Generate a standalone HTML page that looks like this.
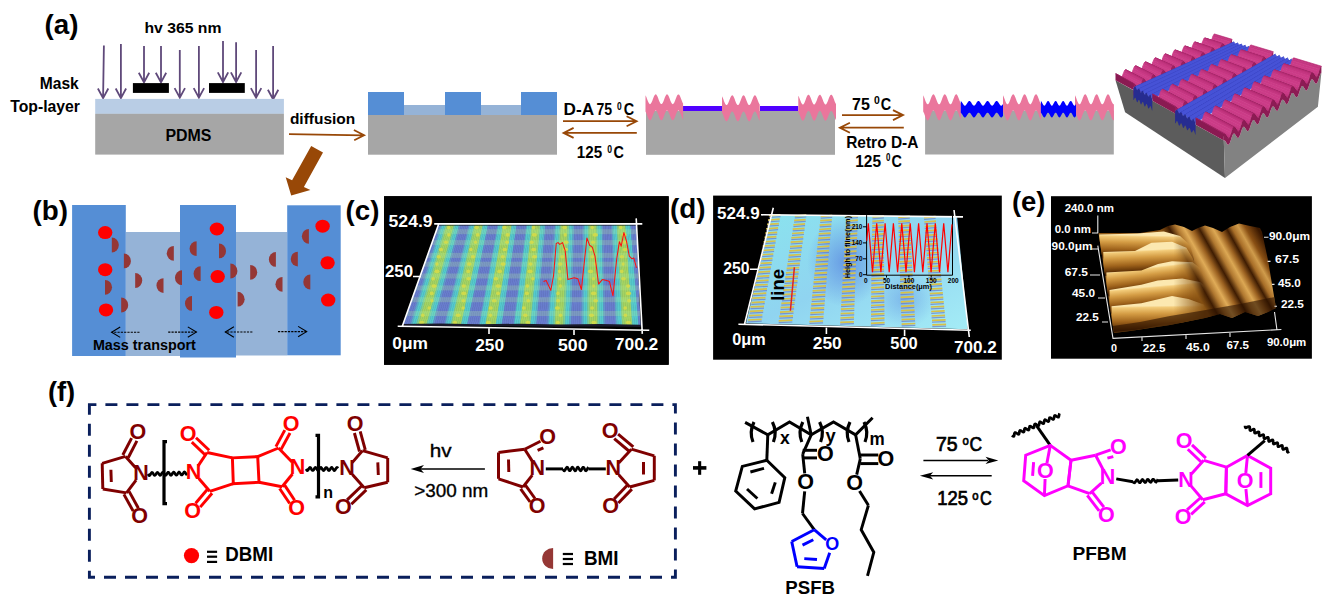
<!DOCTYPE html>
<html><head><meta charset="utf-8"><style>
html,body{margin:0;padding:0;background:#fff;}
svg{display:block;}
</style></head><body>
<svg width="1324" height="609" viewBox="0 0 1324 609" font-family="Liberation Sans, sans-serif">
<rect width="1324" height="609" fill="#fff"/>
<text x="44.6" y="33.6" font-size="27.6" font-weight="bold" fill="#000" text-anchor="start" textLength="34" lengthAdjust="spacingAndGlyphs" >(a)</text>
<text x="144.4" y="32.6" font-size="15.5" font-weight="bold" fill="#000" text-anchor="start" textLength="77" lengthAdjust="spacingAndGlyphs" >hv 365 nm</text>
<text x="39.8" y="88.9" font-size="16" font-weight="bold" fill="#000" text-anchor="start" textLength="39" lengthAdjust="spacingAndGlyphs" >Mask</text>
<text x="10.3" y="111.9" font-size="16" font-weight="bold" fill="#000" text-anchor="start" textLength="69.7" lengthAdjust="spacingAndGlyphs" >Top-layer</text>
<path d="M103.9 45.4 L103.1 97.3 M97.89999999999999 88.5 L103.1 98.1 L108.3 88.5" stroke="#5f497a" stroke-width="1.8" fill="none" stroke-linejoin="miter"/>
<path d="M120.9 44.1 L120.9 97.3 M115.7 88.5 L120.9 98.1 L126.10000000000001 88.5" stroke="#5f497a" stroke-width="1.8" fill="none" stroke-linejoin="miter"/>
<path d="M144 46.1 L144 81.60000000000001 M138.8 72.80000000000001 L144 82.4 L149.2 72.80000000000001" stroke="#5f497a" stroke-width="1.8" fill="none" stroke-linejoin="miter"/>
<path d="M161 46.1 L161 81.60000000000001 M155.8 72.80000000000001 L161 82.4 L166.2 72.80000000000001" stroke="#5f497a" stroke-width="1.8" fill="none" stroke-linejoin="miter"/>
<path d="M179.8 49.9 L179.8 96.9 M174.60000000000002 88.10000000000001 L179.8 97.7 L185.0 88.10000000000001" stroke="#5f497a" stroke-width="1.8" fill="none" stroke-linejoin="miter"/>
<path d="M198.9 46 L198.9 96.9 M193.70000000000002 88.10000000000001 L198.9 97.7 L204.1 88.10000000000001" stroke="#5f497a" stroke-width="1.8" fill="none" stroke-linejoin="miter"/>
<path d="M223 41.1 L223 81.2 M217.8 72.4 L223 82 L228.2 72.4" stroke="#5f497a" stroke-width="1.8" fill="none" stroke-linejoin="miter"/>
<path d="M236.1 42.3 L236.1 81.2 M230.9 72.4 L236.1 82 L241.29999999999998 72.4" stroke="#5f497a" stroke-width="1.8" fill="none" stroke-linejoin="miter"/>
<path d="M256.1 49.9 L256.1 96.9 M250.90000000000003 88.10000000000001 L256.1 97.7 L261.3 88.10000000000001" stroke="#5f497a" stroke-width="1.8" fill="none" stroke-linejoin="miter"/>
<path d="M273.1 46 L273.1 98.5 M267.90000000000003 89.7 L273.1 99.3 L278.3 89.7" stroke="#5f497a" stroke-width="1.8" fill="none" stroke-linejoin="miter"/>
<rect x="132.9" y="83.1" width="36" height="9.8" fill="#000"/>
<rect x="209" y="83.1" width="35.8" height="9.8" fill="#000"/>
<rect x="95.2" y="98.9" width="188.7" height="15" fill="#b9cde5"/>
<rect x="95.2" y="113.8" width="188.7" height="40.8" fill="#a6a6a6"/>
<text x="165.5" y="140.7" font-size="16" font-weight="bold" fill="#000" text-anchor="start" textLength="46" lengthAdjust="spacingAndGlyphs" >PDMS</text>
<text x="289.9" y="123.8" font-size="15.5" font-weight="bold" fill="#000" text-anchor="start" textLength="65.3" lengthAdjust="spacingAndGlyphs" >diffusion</text>
<path d="M289 134.2 L363.5 135.3 M353.9 130 L364.1 135.3 L354.2 140.2" stroke="#984807" stroke-width="1.8" fill="none"/>
<rect x="368" y="114.9" width="189" height="39.8" fill="#a6a6a6"/>
<rect x="368" y="105" width="189" height="10" fill="#95b3d7"/>
<rect x="368" y="92" width="36" height="23" fill="#558ed5"/>
<rect x="445" y="92" width="36" height="23" fill="#558ed5"/>
<rect x="521" y="92" width="36" height="23" fill="#558ed5"/>
<text x="563.6" y="114.9" font-size="16.5" font-weight="bold" fill="#000" text-anchor="start" textLength="30.5" lengthAdjust="spacingAndGlyphs" >D-A</text>
<text x="596.4" y="114.9" font-size="16.5" font-weight="bold" fill="#000" text-anchor="start" textLength="15.7" lengthAdjust="spacingAndGlyphs" >75</text>
<text x="617" y="109.96" font-size="10" font-weight="bold" fill="#000" textLength="4.7" lengthAdjust="spacingAndGlyphs">0</text>
<text x="623.7" y="114.9" font-size="16.5" font-weight="bold" fill="#000" text-anchor="start" textLength="10.4" lengthAdjust="spacingAndGlyphs" >C</text>
<path d="M563 121.2 L635.8000000000001 121.2 M626.6 116.2 L636.6 121.2 L626.6 126.2" stroke="#984807" stroke-width="1.8" fill="none"/>
<path d="M636.8 132.9 L564.4 132.9 M573.6 127.9 L563.6 132.9 L573.6 137.9" stroke="#984807" stroke-width="1.8" fill="none"/>
<text x="576.8" y="157.6" font-size="16.5" font-weight="bold" fill="#000" text-anchor="start" textLength="25.3" lengthAdjust="spacingAndGlyphs" >125</text>
<text x="607.3" y="152.76" font-size="10" font-weight="bold" fill="#000" textLength="4.8" lengthAdjust="spacingAndGlyphs">0</text>
<text x="613.6" y="157.6" font-size="16.5" font-weight="bold" fill="#000" text-anchor="start" textLength="10.4" lengthAdjust="spacingAndGlyphs" >C</text>
<rect x="646" y="111" width="189" height="43.8" fill="#a6a6a6"/>
<rect x="683" y="106" width="39" height="5" fill="#5000ff"/>
<rect x="760" y="106" width="38.3" height="5" fill="#5000ff"/>
<polygon points="645.50,95.31 645.99,96.23 646.48,97.37 646.96,98.65 647.45,99.97 647.94,101.24 648.43,102.36 648.92,103.26 649.41,103.87 649.89,104.14 650.38,104.05 650.87,103.62 651.36,102.87 651.85,101.86 652.34,100.66 652.82,99.35 653.31,98.04 653.80,96.82 654.29,95.77 654.78,94.97 655.27,94.49 655.75,94.35 656.24,94.57 656.73,95.13 657.22,95.98 657.71,97.08 658.20,98.33 658.68,99.65 659.17,100.94 659.66,102.10 660.15,103.06 660.64,103.75 661.13,104.10 661.61,104.11 662.10,103.76 662.59,103.08 663.08,102.13 663.57,100.96 664.06,99.67 664.54,98.36 665.03,97.10 665.52,96.00 666.01,95.14 666.50,94.58 666.99,94.35 667.47,94.48 667.96,94.96 668.45,95.75 668.94,96.79 669.43,98.02 669.92,99.33 670.40,100.63 670.89,101.84 671.38,102.85 671.87,103.61 672.36,104.05 672.85,104.14 673.33,103.87 673.82,103.27 674.31,102.38 674.80,101.26 675.29,99.99 675.78,98.67 676.26,97.40 676.75,96.25 677.24,95.33 677.73,94.68 678.22,94.38 678.71,94.42 679.19,94.82 679.68,95.53 680.17,96.52 680.66,97.71 681.15,99.00 681.64,100.32 682.12,101.56 682.61,102.63 683.10,103.45 683.10,119.65 682.61,118.83 682.12,117.76 681.64,116.52 681.15,115.20 680.66,113.91 680.17,112.72 679.68,111.73 679.19,111.02 678.71,110.62 678.22,110.58 677.73,110.88 677.24,111.53 676.75,112.45 676.26,113.60 675.78,114.87 675.29,116.19 674.80,117.46 674.31,118.58 673.82,119.47 673.33,120.07 672.85,120.34 672.36,120.25 671.87,119.81 671.38,119.05 670.89,118.04 670.40,116.83 669.92,115.53 669.43,114.22 668.94,112.99 668.45,111.95 667.96,111.16 667.47,110.68 666.99,110.55 666.50,110.78 666.01,111.34 665.52,112.20 665.03,113.30 664.54,114.56 664.06,115.87 663.57,117.16 663.08,118.33 662.59,119.28 662.10,119.96 661.61,120.31 661.13,120.30 660.64,119.95 660.15,119.26 659.66,118.30 659.17,117.14 658.68,115.85 658.20,114.53 657.71,113.28 657.22,112.18 656.73,111.33 656.24,110.77 655.75,110.55 655.27,110.69 654.78,111.17 654.29,111.97 653.80,113.02 653.31,114.24 652.82,115.55 652.34,116.86 651.85,118.06 651.36,119.07 650.87,119.82 650.38,120.25 649.89,120.34 649.41,120.07 648.92,119.46 648.43,118.56 647.94,117.44 647.45,116.17 646.96,114.85 646.48,113.57 645.99,112.43 645.50,111.51" fill="#ea769c"/>
<polygon points="722.00,96.26 722.49,97.18 722.98,98.33 723.47,99.61 723.96,100.93 724.45,102.20 724.94,103.33 725.43,104.22 725.92,104.82 726.41,105.09 726.90,105.00 727.39,104.55 727.88,103.79 728.36,102.77 728.85,101.56 729.34,100.25 729.83,98.94 730.32,97.71 730.81,96.67 731.30,95.89 731.79,95.42 732.28,95.31 732.77,95.54 733.26,96.12 733.75,97.00 734.24,98.11 734.73,99.37 735.22,100.69 735.71,101.98 736.20,103.14 736.69,104.08 737.18,104.74 737.67,105.07 738.16,105.04 738.65,104.66 739.14,103.95 739.63,102.97 740.12,101.79 740.61,100.49 741.09,99.17 741.58,97.93 742.07,96.85 742.56,96.01 743.05,95.48 743.54,95.30 744.03,95.47 744.52,95.99 745.01,96.82 745.50,97.89 745.99,99.13 746.48,100.45 746.97,101.75 747.46,102.94 747.95,103.93 748.44,104.64 748.93,105.03 749.42,105.07 749.91,104.75 750.40,104.10 750.89,103.17 751.38,102.02 751.87,100.73 752.36,99.41 752.85,98.14 753.34,97.03 753.82,96.14 754.31,95.56 754.80,95.31 755.29,95.42 755.78,95.87 756.27,96.65 756.76,97.68 757.25,98.90 757.74,100.21 758.23,101.52 758.72,102.74 759.21,103.77 759.70,104.54 759.70,120.74 759.21,119.97 758.72,118.94 758.23,117.72 757.74,116.41 757.25,115.10 756.76,113.88 756.27,112.85 755.78,112.07 755.29,111.62 754.80,111.51 754.31,111.76 753.82,112.34 753.34,113.23 752.85,114.34 752.36,115.61 751.87,116.93 751.38,118.22 750.89,119.37 750.40,120.30 749.91,120.95 749.42,121.27 748.93,121.23 748.44,120.84 747.95,120.13 747.46,119.14 746.97,117.95 746.48,116.65 745.99,115.33 745.50,114.09 745.01,113.02 744.52,112.19 744.03,111.67 743.54,111.50 743.05,111.68 742.56,112.21 742.07,113.05 741.58,114.13 741.09,115.37 740.61,116.69 740.12,117.99 739.63,119.17 739.14,120.15 738.65,120.86 738.16,121.24 737.67,121.27 737.18,120.94 736.69,120.28 736.20,119.34 735.71,118.18 735.22,116.89 734.73,115.57 734.24,114.31 733.75,113.20 733.26,112.32 732.77,111.74 732.28,111.51 731.79,111.62 731.30,112.09 730.81,112.87 730.32,113.91 729.83,115.14 729.34,116.45 728.85,117.76 728.36,118.97 727.88,119.99 727.39,120.75 726.90,121.20 726.41,121.29 725.92,121.02 725.43,120.42 724.94,119.53 724.45,118.40 723.96,117.13 723.47,115.81 722.98,114.53 722.49,113.38 722.00,112.46" fill="#ea769c"/>
<polygon points="798.30,95.66 798.79,96.58 799.28,97.73 799.77,99.01 800.26,100.33 800.75,101.60 801.24,102.73 801.73,103.62 802.22,104.22 802.71,104.49 803.20,104.40 803.69,103.95 804.18,103.19 804.66,102.17 805.15,100.96 805.64,99.65 806.13,98.34 806.62,97.11 807.11,96.07 807.60,95.29 808.09,94.82 808.58,94.71 809.07,94.94 809.56,95.52 810.05,96.40 810.54,97.51 811.03,98.77 811.52,100.09 812.01,101.38 812.50,102.54 812.99,103.48 813.48,104.14 813.97,104.47 814.46,104.44 814.95,104.06 815.44,103.35 815.93,102.37 816.42,101.19 816.91,99.89 817.39,98.57 817.88,97.33 818.37,96.25 818.86,95.41 819.35,94.88 819.84,94.70 820.33,94.87 820.82,95.39 821.31,96.22 821.80,97.29 822.29,98.53 822.78,99.85 823.27,101.15 823.76,102.34 824.25,103.33 824.74,104.04 825.23,104.43 825.72,104.47 826.21,104.15 826.70,103.50 827.19,102.57 827.68,101.42 828.17,100.13 828.66,98.81 829.15,97.54 829.64,96.43 830.12,95.54 830.61,94.96 831.10,94.71 831.59,94.82 832.08,95.27 832.57,96.05 833.06,97.08 833.55,98.30 834.04,99.61 834.53,100.92 835.02,102.14 835.51,103.17 836.00,103.94 836.00,120.14 835.51,119.37 835.02,118.34 834.53,117.12 834.04,115.81 833.55,114.50 833.06,113.28 832.57,112.25 832.08,111.47 831.59,111.02 831.10,110.91 830.61,111.16 830.12,111.74 829.64,112.63 829.15,113.74 828.66,115.01 828.17,116.33 827.68,117.62 827.19,118.77 826.70,119.70 826.21,120.35 825.72,120.67 825.23,120.63 824.74,120.24 824.25,119.53 823.76,118.54 823.27,117.35 822.78,116.05 822.29,114.73 821.80,113.49 821.31,112.42 820.82,111.59 820.33,111.07 819.84,110.90 819.35,111.08 818.86,111.61 818.37,112.45 817.88,113.53 817.39,114.77 816.91,116.09 816.42,117.39 815.93,118.57 815.44,119.55 814.95,120.26 814.46,120.64 813.97,120.67 813.48,120.34 812.99,119.68 812.50,118.74 812.01,117.58 811.52,116.29 811.03,114.97 810.54,113.71 810.05,112.60 809.56,111.72 809.07,111.14 808.58,110.91 808.09,111.02 807.60,111.49 807.11,112.27 806.62,113.31 806.13,114.54 805.64,115.85 805.15,117.16 804.66,118.37 804.18,119.39 803.69,120.15 803.20,120.60 802.71,120.69 802.22,120.42 801.73,119.82 801.24,118.93 800.75,117.80 800.26,116.53 799.77,115.21 799.28,113.93 798.79,112.78 798.30,111.86" fill="#ea769c"/>
<text x="852.1" y="109.9" font-size="16.5" font-weight="bold" fill="#000" text-anchor="start" textLength="17.8" lengthAdjust="spacingAndGlyphs" >75</text>
<text x="874.1" y="104.16" font-size="10" font-weight="bold" fill="#000" textLength="5.8" lengthAdjust="spacingAndGlyphs">0</text>
<text x="880.7" y="109.9" font-size="16.5" font-weight="bold" fill="#000" text-anchor="start" textLength="10.4" lengthAdjust="spacingAndGlyphs" >C</text>
<path d="M842 115.1 L902.2 115.1 M893 110.1 L903 115.1 L893 120.1" stroke="#984807" stroke-width="1.8" fill="none"/>
<path d="M903.8 127.7 L840.6999999999999 127.7 M849.9 122.7 L839.9 127.7 L849.9 132.7" stroke="#984807" stroke-width="1.8" fill="none"/>
<text x="846.2" y="147.9" font-size="16.5" font-weight="bold" fill="#000" text-anchor="start" textLength="72.2" lengthAdjust="spacingAndGlyphs" >Retro D-A</text>
<text x="855.2" y="166.6" font-size="16.5" font-weight="bold" fill="#000" text-anchor="start" textLength="25.8" lengthAdjust="spacingAndGlyphs" >125</text>
<text x="886" y="161.26" font-size="10" font-weight="bold" fill="#000" textLength="4.4" lengthAdjust="spacingAndGlyphs">0</text>
<text x="891.6" y="166.6" font-size="16.5" font-weight="bold" fill="#000" text-anchor="start" textLength="10.4" lengthAdjust="spacingAndGlyphs" >C</text>
<rect x="925.1" y="110.5" width="188.7" height="44" fill="#a6a6a6"/>
<polygon points="923.20,95.35 923.69,96.32 924.18,97.49 924.67,98.80 925.16,100.15 925.65,101.43 926.14,102.56 926.63,103.45 927.12,104.04 927.61,104.29 928.10,104.18 928.59,103.72 929.08,102.93 929.56,101.88 930.05,100.65 930.54,99.32 931.03,97.98 931.52,96.74 932.01,95.69 932.50,94.90 932.99,94.43 933.48,94.31 933.97,94.55 934.46,95.13 934.95,96.02 935.44,97.14 935.93,98.42 936.42,99.77 936.91,101.08 937.40,102.26 937.89,103.23 938.38,103.91 938.87,104.26 939.36,104.25 939.85,103.88 940.34,103.18 940.83,102.20 941.32,101.01 941.81,99.70 942.29,98.36 942.78,97.08 943.27,95.97 943.76,95.09 944.25,94.53 944.74,94.30 945.23,94.44 945.72,94.93 946.21,95.74 946.70,96.80 947.19,98.05 947.68,99.38 948.17,100.71 948.66,101.94 949.15,102.98 949.64,103.75 950.13,104.20 950.62,104.29 951.11,104.02 951.60,103.41 952.09,102.51 952.58,101.37 953.07,100.08 953.56,98.73 954.05,97.43 954.54,96.26 955.02,95.31 955.51,94.65 956.00,94.33 956.49,94.37 956.98,94.76 957.47,95.48 957.96,96.48 958.45,97.68 958.94,99.00 959.43,100.34 959.92,101.61 960.41,102.71 960.90,103.56 960.90,119.66 960.41,118.81 959.92,117.71 959.43,116.44 958.94,115.10 958.45,113.78 957.96,112.58 957.47,111.58 956.98,110.86 956.49,110.47 956.00,110.43 955.51,110.75 955.02,111.41 954.54,112.36 954.05,113.53 953.56,114.83 953.07,116.18 952.58,117.47 952.09,118.61 951.60,119.51 951.11,120.12 950.62,120.39 950.13,120.30 949.64,119.85 949.15,119.08 948.66,118.04 948.17,116.81 947.68,115.48 947.19,114.15 946.70,112.90 946.21,111.84 945.72,111.03 945.23,110.54 944.74,110.40 944.25,110.63 943.76,111.19 943.27,112.07 942.78,113.18 942.29,114.46 941.81,115.80 941.32,117.11 940.83,118.30 940.34,119.28 939.85,119.98 939.36,120.35 938.87,120.36 938.38,120.01 937.89,119.33 937.40,118.36 936.91,117.18 936.42,115.87 935.93,114.52 935.44,113.24 934.95,112.12 934.46,111.23 933.97,110.65 933.48,110.41 932.99,110.53 932.50,111.00 932.01,111.79 931.52,112.84 931.03,114.08 930.54,115.42 930.05,116.75 929.56,117.98 929.08,119.03 928.59,119.82 928.10,120.28 927.61,120.39 927.12,120.14 926.63,119.55 926.14,118.66 925.65,117.53 925.16,116.25 924.67,114.90 924.18,113.59 923.69,112.42 923.20,111.45" fill="#ea769c"/>
<polygon points="1003.00,95.35 1003.49,96.31 1003.97,97.48 1004.46,98.78 1004.95,100.12 1005.44,101.40 1005.92,102.53 1006.41,103.42 1006.90,104.03 1007.38,104.29 1007.87,104.20 1008.36,103.75 1008.85,102.99 1009.33,101.96 1009.82,100.74 1010.31,99.42 1010.79,98.09 1011.28,96.84 1011.77,95.78 1012.26,94.96 1012.74,94.46 1013.23,94.30 1013.72,94.50 1014.21,95.05 1014.69,95.90 1015.18,96.99 1015.67,98.25 1016.15,99.59 1016.64,100.90 1017.13,102.10 1017.62,103.10 1018.10,103.82 1018.59,104.23 1019.08,104.28 1019.56,103.97 1020.05,103.33 1020.54,102.40 1021.03,101.24 1021.51,99.95 1022.00,98.61 1022.49,97.32 1022.97,96.18 1023.46,95.25 1023.95,94.62 1024.44,94.32 1024.92,94.38 1025.41,94.79 1025.90,95.52 1026.38,96.53 1026.87,97.73 1027.36,99.05 1027.85,100.38 1028.33,101.64 1028.82,102.73 1029.31,103.57 1029.79,104.11 1030.28,104.30 1030.77,104.13 1031.26,103.62 1031.74,102.80 1032.23,101.73 1032.72,100.48 1033.21,99.15 1033.69,97.83 1034.18,96.61 1034.67,95.59 1035.15,94.83 1035.64,94.40 1036.13,94.31 1036.62,94.58 1037.10,95.20 1037.59,96.10 1038.08,97.23 1038.56,98.52 1039.05,99.85 1039.54,101.15 1040.03,102.32 1040.51,103.27 1041.00,103.93 1041.00,120.03 1040.51,119.37 1040.03,118.42 1039.54,117.25 1039.05,115.95 1038.56,114.62 1038.08,113.33 1037.59,112.20 1037.10,111.30 1036.62,110.68 1036.13,110.41 1035.64,110.50 1035.15,110.93 1034.67,111.69 1034.18,112.71 1033.69,113.93 1033.21,115.25 1032.72,116.58 1032.23,117.83 1031.74,118.90 1031.26,119.72 1030.77,120.23 1030.28,120.40 1029.79,120.21 1029.31,119.67 1028.82,118.83 1028.33,117.74 1027.85,116.48 1027.36,115.15 1026.87,113.83 1026.38,112.63 1025.90,111.62 1025.41,110.89 1024.92,110.48 1024.44,110.42 1023.95,110.72 1023.46,111.35 1022.97,112.28 1022.49,113.42 1022.00,114.71 1021.51,116.05 1021.03,117.34 1020.54,118.50 1020.05,119.43 1019.56,120.07 1019.08,120.38 1018.59,120.33 1018.10,119.92 1017.62,119.20 1017.13,118.20 1016.64,117.00 1016.15,115.69 1015.67,114.35 1015.18,113.09 1014.69,112.00 1014.21,111.15 1013.72,110.60 1013.23,110.40 1012.74,110.56 1012.26,111.06 1011.77,111.88 1011.28,112.94 1010.79,114.19 1010.31,115.52 1009.82,116.84 1009.33,118.06 1008.85,119.09 1008.36,119.85 1007.87,120.30 1007.38,120.39 1006.90,120.13 1006.41,119.52 1005.92,118.63 1005.44,117.50 1004.95,116.22 1004.46,114.88 1003.97,113.58 1003.49,112.41 1003.00,111.45" fill="#ea769c"/>
<polygon points="1075.00,95.35 1075.49,96.32 1075.98,97.51 1076.48,98.82 1076.97,100.18 1077.46,101.46 1077.95,102.59 1078.45,103.48 1078.94,104.06 1079.43,104.30 1079.92,104.16 1080.42,103.68 1080.91,102.87 1081.40,101.80 1081.89,100.54 1082.39,99.20 1082.88,97.86 1083.37,96.63 1083.86,95.60 1084.36,94.83 1084.85,94.39 1085.34,94.31 1085.83,94.60 1086.33,95.23 1086.82,96.16 1087.31,97.32 1087.80,98.62 1088.29,99.97 1088.79,101.28 1089.28,102.44 1089.77,103.36 1090.26,104.00 1090.76,104.28 1091.25,104.21 1091.74,103.77 1092.23,103.01 1092.73,101.97 1093.22,100.74 1093.71,99.41 1094.20,98.06 1094.70,96.81 1095.19,95.74 1095.68,94.93 1096.17,94.44 1096.67,94.30 1097.16,94.53 1097.65,95.12 1098.14,96.00 1098.64,97.13 1099.13,98.42 1099.62,99.77 1100.11,101.09 1100.61,102.27 1101.10,103.24 1101.59,103.92 1102.08,104.26 1102.57,104.24 1103.07,103.86 1103.56,103.14 1104.05,102.14 1104.54,100.94 1105.04,99.61 1105.53,98.26 1106.02,96.99 1106.51,95.89 1107.01,95.03 1107.50,94.49 1107.99,94.30 1108.48,94.48 1108.98,95.01 1109.47,95.85 1109.96,96.95 1110.45,98.22 1110.95,99.56 1111.44,100.89 1111.93,102.10 1112.42,103.11 1112.92,103.84 1113.41,104.24 1113.90,104.27 1113.90,120.37 1113.41,120.34 1112.92,119.94 1112.42,119.21 1111.93,118.20 1111.44,116.99 1110.95,115.66 1110.45,114.32 1109.96,113.05 1109.47,111.95 1108.98,111.11 1108.48,110.58 1107.99,110.40 1107.50,110.59 1107.01,111.13 1106.51,111.99 1106.02,113.09 1105.53,114.36 1105.04,115.71 1104.54,117.04 1104.05,118.24 1103.56,119.24 1103.07,119.96 1102.57,120.34 1102.08,120.36 1101.59,120.02 1101.10,119.34 1100.61,118.37 1100.11,117.19 1099.62,115.87 1099.13,114.52 1098.64,113.23 1098.14,112.10 1097.65,111.22 1097.16,110.63 1096.67,110.40 1096.17,110.54 1095.68,111.03 1095.19,111.84 1094.70,112.91 1094.20,114.16 1093.71,115.51 1093.22,116.84 1092.73,118.07 1092.23,119.11 1091.74,119.87 1091.25,120.31 1090.76,120.38 1090.26,120.10 1089.77,119.46 1089.28,118.54 1088.79,117.38 1088.29,116.07 1087.80,114.72 1087.31,113.42 1086.82,112.26 1086.33,111.33 1085.83,110.70 1085.34,110.41 1084.85,110.49 1084.36,110.93 1083.86,111.70 1083.37,112.73 1082.88,113.96 1082.39,115.30 1081.89,116.64 1081.40,117.90 1080.91,118.97 1080.42,119.78 1079.92,120.26 1079.43,120.40 1078.94,120.16 1078.45,119.58 1077.95,118.69 1077.46,117.56 1076.97,116.28 1076.48,114.92 1075.98,113.61 1075.49,112.42 1075.00,111.45" fill="#ea769c"/>
<polygon points="960.80,101.02 961.29,101.40 961.78,101.99 962.27,102.74 962.76,103.55 963.25,104.33 963.74,104.99 964.23,105.46 964.73,105.69 965.22,105.64 965.71,105.32 966.20,104.77 966.69,104.06 967.18,103.26 967.67,102.46 968.16,101.76 968.65,101.23 969.14,100.94 969.63,100.93 970.12,101.18 970.61,101.67 971.10,102.35 971.60,103.14 972.09,103.95 972.58,104.68 973.07,105.26 973.56,105.61 974.05,105.70 974.54,105.51 975.03,105.07 975.52,104.43 976.01,103.66 976.50,102.85 976.99,102.09 977.48,101.47 977.97,101.06 978.47,100.90 978.96,101.02 979.45,101.40 979.94,102.00 980.43,102.74 980.92,103.55 981.41,104.33 981.90,105.00 982.39,105.47 982.88,105.69 983.37,105.63 983.86,105.32 984.35,104.77 984.84,104.05 985.33,103.25 985.83,102.45 986.32,101.75 986.81,101.23 987.30,100.94 987.79,100.93 988.28,101.18 988.77,101.68 989.26,102.36 989.75,103.15 990.24,103.96 990.73,104.69 991.22,105.26 991.71,105.61 992.20,105.69 992.70,105.51 993.19,105.06 993.68,104.42 994.17,103.65 994.66,102.84 995.15,102.08 995.64,101.46 996.13,101.05 996.62,100.90 997.11,101.02 997.60,101.41 998.09,102.01 998.58,102.75 999.07,103.56 999.57,104.34 1000.06,105.00 1000.55,105.47 1001.04,105.69 1001.53,105.63 1002.02,105.31 1002.51,104.76 1003.00,104.04 1003.00,115.84 1002.51,116.56 1002.02,117.11 1001.53,117.43 1001.04,117.49 1000.55,117.27 1000.06,116.80 999.57,116.14 999.07,115.36 998.58,114.55 998.09,113.81 997.60,113.21 997.11,112.82 996.62,112.70 996.13,112.85 995.64,113.26 995.15,113.88 994.66,114.64 994.17,115.45 993.68,116.22 993.19,116.86 992.70,117.31 992.20,117.49 991.71,117.41 991.22,117.06 990.73,116.49 990.24,115.76 989.75,114.95 989.26,114.16 988.77,113.48 988.28,112.98 987.79,112.73 987.30,112.74 986.81,113.03 986.32,113.55 985.83,114.25 985.33,115.05 984.84,115.85 984.35,116.57 983.86,117.12 983.37,117.43 982.88,117.49 982.39,117.27 981.90,116.80 981.41,116.13 980.92,115.35 980.43,114.54 979.94,113.80 979.45,113.20 978.96,112.82 978.47,112.70 977.97,112.86 977.48,113.27 976.99,113.89 976.50,114.65 976.01,115.46 975.52,116.23 975.03,116.87 974.54,117.31 974.05,117.50 973.56,117.41 973.07,117.06 972.58,116.48 972.09,115.75 971.60,114.94 971.10,114.15 970.61,113.47 970.12,112.98 969.63,112.73 969.14,112.74 968.65,113.03 968.16,113.56 967.67,114.26 967.18,115.06 966.69,115.86 966.20,116.57 965.71,117.12 965.22,117.44 964.73,117.49 964.23,117.26 963.74,116.79 963.25,116.13 962.76,115.35 962.27,114.54 961.78,113.79 961.29,113.20 960.80,112.82" fill="#0000ff"/>
<polygon points="1040.90,101.02 1041.39,101.50 1041.88,102.27 1042.36,103.21 1042.85,104.16 1043.34,104.97 1043.83,105.52 1044.31,105.70 1044.80,105.49 1045.29,104.93 1045.78,104.10 1046.26,103.14 1046.75,102.21 1047.24,101.45 1047.73,101.00 1048.21,100.92 1048.70,101.22 1049.19,101.86 1049.68,102.74 1050.16,103.71 1050.65,104.61 1051.14,105.30 1051.62,105.66 1052.11,105.64 1052.60,105.24 1053.09,104.53 1053.58,103.61 1054.06,102.65 1054.55,101.79 1055.04,101.18 1055.53,100.91 1056.01,101.03 1056.50,101.52 1056.99,102.30 1057.48,103.24 1057.96,104.19 1058.45,105.00 1058.94,105.53 1059.42,105.70 1059.91,105.48 1060.40,104.91 1060.89,104.07 1061.38,103.11 1061.86,102.18 1062.35,101.43 1062.84,100.99 1063.33,100.92 1063.81,101.24 1064.30,101.89 1064.79,102.77 1065.28,103.74 1065.76,104.63 1066.25,105.31 1066.74,105.67 1067.22,105.63 1067.71,105.22 1068.20,104.50 1068.69,103.58 1069.17,102.62 1069.66,101.77 1070.15,101.16 1070.64,100.91 1071.12,101.04 1071.61,101.54 1072.10,102.32 1072.59,103.27 1073.08,104.22 1073.56,105.02 1074.05,105.54 1074.54,105.70 1075.03,105.47 1075.51,104.88 1076.00,104.04 1076.00,115.84 1075.51,116.68 1075.03,117.27 1074.54,117.50 1074.05,117.34 1073.56,116.82 1073.08,116.02 1072.59,115.07 1072.10,114.12 1071.61,113.34 1071.12,112.84 1070.64,112.71 1070.15,112.96 1069.66,113.57 1069.17,114.42 1068.69,115.38 1068.20,116.30 1067.71,117.02 1067.22,117.43 1066.74,117.47 1066.25,117.11 1065.76,116.43 1065.28,115.54 1064.79,114.57 1064.30,113.69 1063.81,113.04 1063.33,112.72 1062.84,112.79 1062.35,113.23 1061.86,113.98 1061.38,114.91 1060.89,115.87 1060.40,116.71 1059.91,117.28 1059.42,117.50 1058.94,117.33 1058.45,116.80 1057.96,115.99 1057.48,115.04 1056.99,114.10 1056.50,113.32 1056.01,112.83 1055.53,112.71 1055.04,112.98 1054.55,113.59 1054.06,114.45 1053.58,115.41 1053.09,116.33 1052.60,117.04 1052.11,117.44 1051.62,117.46 1051.14,117.10 1050.65,116.41 1050.16,115.51 1049.68,114.54 1049.19,113.66 1048.70,113.02 1048.21,112.72 1047.73,112.80 1047.24,113.25 1046.75,114.01 1046.26,114.94 1045.78,115.90 1045.29,116.73 1044.80,117.29 1044.31,117.50 1043.83,117.32 1043.34,116.77 1042.85,115.96 1042.36,115.01 1041.88,114.07 1041.39,113.30 1040.90,112.82" fill="#0000ff"/>
<polygon points="1115.5,80.2 1223.8,140.5 1225.0,178.1 1125.1,112.2" fill="#5c5c5c"/>
<polygon points="1223.8,140.5 1224.1,140.4 1224.5,140.4 1224.8,140.5 1225.1,140.8 1225.4,141.2 1225.8,141.7 1226.1,142.3 1226.4,142.8 1226.7,143.4 1227.1,143.9 1227.4,144.3 1227.7,144.6 1228.0,144.7 1228.4,144.8 1228.7,144.6 1229.0,144.3 1229.3,143.8 1229.7,143.2 1230.0,142.5 1230.3,141.6 1230.6,140.7 1231.0,139.7 1231.3,138.7 1231.6,137.7 1231.9,136.7 1232.3,135.9 1232.6,135.1 1232.9,134.5 1233.2,134.0 1233.6,133.7 1233.9,133.6 1234.2,133.6 1234.5,133.8 1234.9,134.1 1235.2,134.5 1235.5,135.0 1235.8,135.5 1236.2,136.1 1236.5,136.6 1236.8,137.1 1237.1,137.5 1237.5,137.8 1237.8,138.0 1238.1,138.0 1238.4,137.8 1238.8,137.5 1239.1,137.1 1239.4,136.4 1239.7,135.7 1240.1,134.8 1240.4,133.9 1240.7,132.9 1241.0,131.9 1241.4,130.9 1241.7,129.9 1242.0,129.1 1242.3,128.3 1242.7,127.7 1243.0,127.2 1243.3,126.9 1243.6,126.8 1244.0,126.8 1244.3,127.0 1244.6,127.3 1244.9,127.7 1245.3,128.2 1245.6,128.7 1245.9,129.3 1246.2,129.8 1246.6,130.3 1246.9,130.7 1247.2,131.0 1247.5,131.2 1247.9,131.2 1248.2,131.1 1248.5,130.7 1248.9,130.3 1249.2,129.7 1249.5,128.9 1249.8,128.0 1250.2,127.1 1250.5,126.1 1250.8,125.1 1251.1,124.1 1251.5,123.2 1251.8,122.3 1252.1,121.6 1252.4,120.9 1252.8,120.5 1253.1,120.2 1253.4,120.0 1253.7,120.0 1254.1,120.2 1254.4,120.5 1254.7,120.9 1255.0,121.4 1255.4,121.9 1255.7,122.5 1256.0,123.0 1256.3,123.5 1256.7,123.9 1257.0,124.2 1257.3,124.4 1257.6,124.4 1258.0,124.3 1258.3,124.0 1258.6,123.5 1258.9,122.9 1259.3,122.1 1259.6,121.3 1259.9,120.3 1260.2,119.3 1260.6,118.3 1260.9,117.3 1261.2,116.4 1261.5,115.5 1261.9,114.8 1262.2,114.2 1262.5,113.7 1262.8,113.4 1263.2,113.2 1263.5,113.3 1263.8,113.4 1264.1,113.7 1264.5,114.1 1264.8,114.6 1265.1,115.2 1265.4,115.7 1265.8,116.3 1266.1,116.7 1266.4,117.2 1266.7,117.5 1267.1,117.6 1267.4,117.6 1267.7,117.5 1268.0,117.2 1268.4,116.7 1268.7,116.1 1269.0,115.3 1269.3,114.5 1269.7,113.5 1270.0,112.5 1270.3,111.5 1270.6,110.5 1271.0,109.6 1271.3,108.7 1271.6,108.0 1271.9,107.4 1272.3,106.9 1272.6,106.6 1272.9,106.5 1273.3,106.5 1273.6,106.6 1273.9,106.9 1274.2,107.3 1274.6,107.8 1274.9,108.4 1275.2,108.9 1275.5,109.5 1275.9,110.0 1276.2,110.4 1276.5,110.7 1276.8,110.8 1277.2,110.9 1277.5,110.7 1277.8,110.4 1278.1,109.9 1278.5,109.3 1278.8,108.6 1279.1,107.7 1279.4,106.8 1279.8,105.8 1280.1,104.8 1280.4,103.8 1280.7,102.8 1281.1,102.0 1281.4,101.2 1281.7,100.6 1282.0,100.1 1282.4,99.8 1282.7,99.7 1283.0,99.7 1283.3,99.9 1283.7,100.2 1284.0,100.6 1284.3,101.1 1284.6,101.6 1285.0,102.2 1285.3,102.7 1285.6,103.2 1285.9,103.6 1286.3,103.9 1286.6,104.1 1286.9,104.1 1287.2,103.9 1287.6,103.6 1287.9,103.2 1288.2,102.5 1288.5,101.8 1288.9,100.9 1289.2,100.0 1289.5,99.0 1289.8,98.0 1290.2,97.0 1290.5,96.0 1290.8,95.2 1291.1,94.4 1291.5,93.8 1291.8,93.3 1292.1,93.0 1292.4,92.9 1292.8,92.9 1293.1,93.1 1293.4,93.4 1293.7,93.8 1294.1,94.3 1294.4,94.8 1294.7,95.4 1295.0,95.9 1295.4,96.4 1295.7,96.8 1296.0,97.1 1296.3,97.3 1296.7,97.3 1297.0,97.2 1297.3,96.8 1297.7,96.4 1298.0,95.8 1298.3,95.0 1298.6,94.1 1299.0,93.2 1299.3,92.2 1299.6,91.2 1299.9,90.2 1300.3,89.3 1300.6,88.4 1300.9,87.7 1301.2,87.0 1301.6,86.6 1301.9,86.3 1302.2,86.1 1302.5,86.1 1302.9,86.3 1303.2,86.6 1303.5,87.0 1303.8,87.5 1304.2,88.0 1304.5,88.6 1304.8,89.1 1305.1,89.6 1305.5,90.0 1305.8,90.3 1306.1,90.5 1306.4,90.5 1306.8,90.4 1307.1,90.1 1307.4,89.6 1307.7,89.0 1308.1,88.2 1308.4,87.4 1308.7,86.4 1309.0,85.4 1309.4,84.4 1309.7,83.4 1310.0,82.5 1310.3,81.6 1310.7,80.9 1311.0,80.3 1311.3,79.8 1311.6,79.5 1312.0,79.3 1312.3,79.4 1312.6,79.5 1312.9,79.8 1313.3,80.2 1313.6,80.7 1313.9,81.3 1314.2,81.8 1314.6,82.4 1314.9,82.8 1315.2,83.3 1315.5,83.6 1315.9,83.7 1316.2,83.7 1316.5,83.6 1316.8,83.3 1317.2,82.8 1317.5,82.2 1317.8,81.4 1318.1,80.6 1318.5,79.6 1318.8,78.6 1319.1,77.6 1319.4,76.6 1319.8,75.7 1320.1,74.8 1320.4,74.1 1320.7,73.5 1321.1,73.0 1321.4,72.7 1317.9,106.7 1225.0,178.1" fill="#828282"/>
<polygon points="1213.7,34.8 1231.3,40.2 1232.1,39.3 1214.5,34.0" fill="#ba2e77" stroke="#ba2e77" stroke-width="0.7"/>
<polygon points="1212.8,36.5 1230.5,41.9 1231.3,40.2 1213.7,34.8" fill="#c43681" stroke="#c43681" stroke-width="0.7"/>
<polygon points="1212.0,38.7 1229.7,44.2 1230.5,41.9 1212.8,36.5" fill="#cb3b87" stroke="#cb3b87" stroke-width="0.7"/>
<polygon points="1211.2,40.9 1228.8,46.4 1229.7,44.2 1212.0,38.7" fill="#cb3b87" stroke="#cb3b87" stroke-width="0.7"/>
<polygon points="1210.4,42.7 1228.0,48.2 1228.8,46.4 1211.2,40.9" fill="#c43681" stroke="#c43681" stroke-width="0.7"/>
<polygon points="1209.5,43.5 1227.2,49.0 1228.0,48.2 1210.4,42.7" fill="#ba2e77" stroke="#ba2e77" stroke-width="0.7"/>
<polygon points="1208.7,43.3 1226.4,48.9 1227.2,49.0 1209.5,43.5" fill="#a42567" stroke="#a42567" stroke-width="0.7"/>
<polygon points="1207.9,42.3 1225.6,47.9 1226.4,48.9 1208.7,43.3" fill="#8a1d54" stroke="#8a1d54" stroke-width="0.7"/>
<polygon points="1207.1,40.7 1224.7,46.4 1225.6,47.9 1207.9,42.3" fill="#7b1849" stroke="#7b1849" stroke-width="0.7"/>
<polygon points="1206.2,39.2 1223.9,44.9 1224.7,46.4 1207.1,40.7" fill="#7b1849" stroke="#7b1849" stroke-width="0.7"/>
<polygon points="1205.4,38.1 1223.1,43.9 1223.9,44.9 1206.2,39.2" fill="#8a1d54" stroke="#8a1d54" stroke-width="0.7"/>
<polygon points="1204.6,38.0 1222.3,43.7 1223.1,43.9 1205.4,38.1" fill="#a42567" stroke="#a42567" stroke-width="0.7"/>
<polygon points="1203.8,38.8 1221.4,44.6 1222.3,43.7 1204.6,38.0" fill="#ba2e77" stroke="#ba2e77" stroke-width="0.7"/>
<polygon points="1203.0,40.5 1220.6,46.4 1221.4,44.6 1203.8,38.8" fill="#c43681" stroke="#c43681" stroke-width="0.7"/>
<polygon points="1202.1,42.7 1219.8,48.6 1220.6,46.4 1203.0,40.5" fill="#cb3b87" stroke="#cb3b87" stroke-width="0.7"/>
<polygon points="1201.3,44.9 1219.0,50.8 1219.8,48.6 1202.1,42.7" fill="#cb3b87" stroke="#cb3b87" stroke-width="0.7"/>
<polygon points="1200.5,46.6 1218.1,52.6 1219.0,50.8 1201.3,44.9" fill="#c43681" stroke="#c43681" stroke-width="0.7"/>
<polygon points="1199.7,47.5 1217.3,53.5 1218.1,52.6 1200.5,46.6" fill="#ba2e77" stroke="#ba2e77" stroke-width="0.7"/>
<polygon points="1198.8,47.3 1216.5,53.3 1217.3,53.5 1199.7,47.5" fill="#a42567" stroke="#a42567" stroke-width="0.7"/>
<polygon points="1198.0,46.2 1215.7,52.3 1216.5,53.3 1198.8,47.3" fill="#8a1d54" stroke="#8a1d54" stroke-width="0.7"/>
<polygon points="1197.2,44.7 1214.9,50.8 1215.7,52.3 1198.0,46.2" fill="#7b1849" stroke="#7b1849" stroke-width="0.7"/>
<polygon points="1196.4,43.2 1214.0,49.3 1214.9,50.8 1197.2,44.7" fill="#7b1849" stroke="#7b1849" stroke-width="0.7"/>
<polygon points="1195.5,42.1 1213.2,48.3 1214.0,49.3 1196.4,43.2" fill="#8a1d54" stroke="#8a1d54" stroke-width="0.7"/>
<polygon points="1194.7,41.9 1212.4,48.2 1213.2,48.3 1195.5,42.1" fill="#a42567" stroke="#a42567" stroke-width="0.7"/>
<polygon points="1193.9,42.8 1211.6,49.1 1212.4,48.2 1194.7,41.9" fill="#ba2e77" stroke="#ba2e77" stroke-width="0.7"/>
<polygon points="1193.0,44.5 1210.7,50.8 1211.6,49.1 1193.9,42.8" fill="#c43681" stroke="#c43681" stroke-width="0.7"/>
<polygon points="1192.2,46.7 1209.9,53.0 1210.7,50.8 1193.0,44.5" fill="#cb3b87" stroke="#cb3b87" stroke-width="0.7"/>
<polygon points="1191.4,48.9 1209.1,55.3 1209.9,53.0 1192.2,46.7" fill="#cb3b87" stroke="#cb3b87" stroke-width="0.7"/>
<polygon points="1190.6,50.6 1208.3,57.0 1209.1,55.3 1191.4,48.9" fill="#c43681" stroke="#c43681" stroke-width="0.7"/>
<polygon points="1189.8,51.4 1207.4,57.9 1208.3,57.0 1190.6,50.6" fill="#ba2e77" stroke="#ba2e77" stroke-width="0.7"/>
<polygon points="1188.9,51.3 1206.6,57.8 1207.4,57.9 1189.8,51.4" fill="#a42567" stroke="#a42567" stroke-width="0.7"/>
<polygon points="1188.1,50.2 1205.8,56.8 1206.6,57.8 1188.9,51.3" fill="#8a1d54" stroke="#8a1d54" stroke-width="0.7"/>
<polygon points="1187.3,48.7 1205.0,55.3 1205.8,56.8 1188.1,50.2" fill="#7b1849" stroke="#7b1849" stroke-width="0.7"/>
<polygon points="1186.5,47.1 1204.2,53.8 1205.0,55.3 1187.3,48.7" fill="#7b1849" stroke="#7b1849" stroke-width="0.7"/>
<polygon points="1185.6,46.1 1203.3,52.7 1204.2,53.8 1186.5,47.1" fill="#8a1d54" stroke="#8a1d54" stroke-width="0.7"/>
<polygon points="1184.8,45.9 1202.5,52.6 1203.3,52.7 1185.6,46.1" fill="#a42567" stroke="#a42567" stroke-width="0.7"/>
<polygon points="1184.0,46.7 1201.7,53.5 1202.5,52.6 1184.8,45.9" fill="#ba2e77" stroke="#ba2e77" stroke-width="0.7"/>
<polygon points="1183.2,48.4 1200.9,55.2 1201.7,53.5 1184.0,46.7" fill="#c43681" stroke="#c43681" stroke-width="0.7"/>
<polygon points="1182.3,50.7 1200.0,57.5 1200.9,55.2 1183.2,48.4" fill="#cb3b87" stroke="#cb3b87" stroke-width="0.7"/>
<polygon points="1181.5,52.9 1199.2,59.7 1200.0,57.5 1182.3,50.7" fill="#cb3b87" stroke="#cb3b87" stroke-width="0.7"/>
<polygon points="1180.7,54.6 1198.4,61.5 1199.2,59.7 1181.5,52.9" fill="#c43681" stroke="#c43681" stroke-width="0.7"/>
<polygon points="1179.8,55.4 1197.6,62.3 1198.4,61.5 1180.7,54.6" fill="#ba2e77" stroke="#ba2e77" stroke-width="0.7"/>
<polygon points="1179.0,55.2 1196.7,62.2 1197.6,62.3 1179.8,55.4" fill="#a42567" stroke="#a42567" stroke-width="0.7"/>
<polygon points="1178.2,54.2 1195.9,61.2 1196.7,62.2 1179.0,55.2" fill="#8a1d54" stroke="#8a1d54" stroke-width="0.7"/>
<polygon points="1177.4,52.6 1195.1,59.7 1195.9,61.2 1178.2,54.2" fill="#7b1849" stroke="#7b1849" stroke-width="0.7"/>
<polygon points="1176.5,51.1 1194.3,58.2 1195.1,59.7 1177.4,52.6" fill="#7b1849" stroke="#7b1849" stroke-width="0.7"/>
<polygon points="1175.7,50.1 1193.5,57.2 1194.3,58.2 1176.5,51.1" fill="#8a1d54" stroke="#8a1d54" stroke-width="0.7"/>
<polygon points="1174.9,49.9 1192.6,57.0 1193.5,57.2 1175.7,50.1" fill="#a42567" stroke="#a42567" stroke-width="0.7"/>
<polygon points="1174.1,50.7 1191.8,57.9 1192.6,57.0 1174.9,49.9" fill="#ba2e77" stroke="#ba2e77" stroke-width="0.7"/>
<polygon points="1173.2,52.4 1191.0,59.7 1191.8,57.9 1174.1,50.7" fill="#c43681" stroke="#c43681" stroke-width="0.7"/>
<polygon points="1172.4,54.6 1190.2,61.9 1191.0,59.7 1173.2,52.4" fill="#cb3b87" stroke="#cb3b87" stroke-width="0.7"/>
<polygon points="1171.6,56.8 1189.3,64.2 1190.2,61.9 1172.4,54.6" fill="#cb3b87" stroke="#cb3b87" stroke-width="0.7"/>
<polygon points="1170.8,58.5 1188.5,65.9 1189.3,64.2 1171.6,56.8" fill="#c43681" stroke="#c43681" stroke-width="0.7"/>
<polygon points="1170.0,59.4 1187.7,66.8 1188.5,65.9 1170.8,58.5" fill="#ba2e77" stroke="#ba2e77" stroke-width="0.7"/>
<polygon points="1169.1,59.2 1186.9,66.6 1187.7,66.8 1170.0,59.4" fill="#a42567" stroke="#a42567" stroke-width="0.7"/>
<polygon points="1168.3,58.2 1186.0,65.6 1186.9,66.6 1169.1,59.2" fill="#8a1d54" stroke="#8a1d54" stroke-width="0.7"/>
<polygon points="1167.5,56.6 1185.2,64.1 1186.0,65.6 1168.3,58.2" fill="#7b1849" stroke="#7b1849" stroke-width="0.7"/>
<polygon points="1166.7,55.1 1184.4,62.6 1185.2,64.1 1167.5,56.6" fill="#7b1849" stroke="#7b1849" stroke-width="0.7"/>
<polygon points="1165.8,54.0 1183.6,61.6 1184.4,62.6 1166.7,55.1" fill="#8a1d54" stroke="#8a1d54" stroke-width="0.7"/>
<polygon points="1165.0,53.8 1182.8,61.5 1183.6,61.6 1165.8,54.0" fill="#a42567" stroke="#a42567" stroke-width="0.7"/>
<polygon points="1164.2,54.7 1181.9,62.4 1182.8,61.5 1165.0,53.8" fill="#ba2e77" stroke="#ba2e77" stroke-width="0.7"/>
<polygon points="1163.3,56.4 1181.1,64.1 1181.9,62.4 1164.2,54.7" fill="#c43681" stroke="#c43681" stroke-width="0.7"/>
<polygon points="1162.5,58.6 1180.3,66.3 1181.1,64.1 1163.3,56.4" fill="#cb3b87" stroke="#cb3b87" stroke-width="0.7"/>
<polygon points="1161.7,60.8 1179.5,68.6 1180.3,66.3 1162.5,58.6" fill="#cb3b87" stroke="#cb3b87" stroke-width="0.7"/>
<polygon points="1160.9,62.5 1178.6,70.3 1179.5,68.6 1161.7,60.8" fill="#c43681" stroke="#c43681" stroke-width="0.7"/>
<polygon points="1160.1,63.3 1177.8,71.2 1178.6,70.3 1160.9,62.5" fill="#ba2e77" stroke="#ba2e77" stroke-width="0.7"/>
<polygon points="1159.2,63.2 1177.0,71.1 1177.8,71.2 1160.1,63.3" fill="#a42567" stroke="#a42567" stroke-width="0.7"/>
<polygon points="1158.4,62.1 1176.2,70.1 1177.0,71.1 1159.2,63.2" fill="#8a1d54" stroke="#8a1d54" stroke-width="0.7"/>
<polygon points="1157.6,60.6 1175.3,68.6 1176.2,70.1 1158.4,62.1" fill="#7b1849" stroke="#7b1849" stroke-width="0.7"/>
<polygon points="1156.8,59.0 1174.5,67.1 1175.3,68.6 1157.6,60.6" fill="#7b1849" stroke="#7b1849" stroke-width="0.7"/>
<polygon points="1155.9,58.0 1173.7,66.0 1174.5,67.1 1156.8,59.0" fill="#8a1d54" stroke="#8a1d54" stroke-width="0.7"/>
<polygon points="1155.1,57.8 1172.9,65.9 1173.7,66.0 1155.9,58.0" fill="#a42567" stroke="#a42567" stroke-width="0.7"/>
<polygon points="1154.3,58.7 1172.1,66.8 1172.9,65.9 1155.1,57.8" fill="#ba2e77" stroke="#ba2e77" stroke-width="0.7"/>
<polygon points="1153.5,60.4 1171.2,68.5 1172.1,66.8 1154.3,58.7" fill="#c43681" stroke="#c43681" stroke-width="0.7"/>
<polygon points="1152.6,62.6 1170.4,70.8 1171.2,68.5 1153.5,60.4" fill="#cb3b87" stroke="#cb3b87" stroke-width="0.7"/>
<polygon points="1151.8,64.8 1169.6,73.0 1170.4,70.8 1152.6,62.6" fill="#cb3b87" stroke="#cb3b87" stroke-width="0.7"/>
<polygon points="1151.0,66.5 1168.8,74.8 1169.6,73.0 1151.8,64.8" fill="#c43681" stroke="#c43681" stroke-width="0.7"/>
<polygon points="1150.2,67.3 1167.9,75.6 1168.8,74.8 1151.0,66.5" fill="#ba2e77" stroke="#ba2e77" stroke-width="0.7"/>
<polygon points="1149.3,67.1 1167.1,75.5 1167.9,75.6 1150.2,67.3" fill="#a42567" stroke="#a42567" stroke-width="0.7"/>
<polygon points="1148.5,66.1 1166.3,74.5 1167.1,75.5 1149.3,67.1" fill="#8a1d54" stroke="#8a1d54" stroke-width="0.7"/>
<polygon points="1147.7,64.5 1165.5,73.0 1166.3,74.5 1148.5,66.1" fill="#7b1849" stroke="#7b1849" stroke-width="0.7"/>
<polygon points="1146.8,63.0 1164.6,71.5 1165.5,73.0 1147.7,64.5" fill="#7b1849" stroke="#7b1849" stroke-width="0.7"/>
<polygon points="1146.0,62.0 1163.8,70.5 1164.6,71.5 1146.8,63.0" fill="#8a1d54" stroke="#8a1d54" stroke-width="0.7"/>
<polygon points="1145.2,61.8 1163.0,70.3 1163.8,70.5 1146.0,62.0" fill="#a42567" stroke="#a42567" stroke-width="0.7"/>
<polygon points="1144.4,62.6 1162.2,71.2 1163.0,70.3 1145.2,61.8" fill="#ba2e77" stroke="#ba2e77" stroke-width="0.7"/>
<polygon points="1143.6,64.3 1161.4,73.0 1162.2,71.2 1144.4,62.6" fill="#c43681" stroke="#c43681" stroke-width="0.7"/>
<polygon points="1142.7,66.5 1160.5,75.2 1161.4,73.0 1143.6,64.3" fill="#cb3b87" stroke="#cb3b87" stroke-width="0.7"/>
<polygon points="1141.9,68.7 1159.7,77.5 1160.5,75.2 1142.7,66.5" fill="#cb3b87" stroke="#cb3b87" stroke-width="0.7"/>
<polygon points="1141.1,70.4 1158.9,79.2 1159.7,77.5 1141.9,68.7" fill="#c43681" stroke="#c43681" stroke-width="0.7"/>
<polygon points="1140.2,71.3 1158.1,80.1 1158.9,79.2 1141.1,70.4" fill="#ba2e77" stroke="#ba2e77" stroke-width="0.7"/>
<polygon points="1139.4,71.1 1157.2,79.9 1158.1,80.1 1140.2,71.3" fill="#a42567" stroke="#a42567" stroke-width="0.7"/>
<polygon points="1138.6,70.1 1156.4,78.9 1157.2,79.9 1139.4,71.1" fill="#8a1d54" stroke="#8a1d54" stroke-width="0.7"/>
<polygon points="1137.8,68.5 1155.6,77.4 1156.4,78.9 1138.6,70.1" fill="#7b1849" stroke="#7b1849" stroke-width="0.7"/>
<polygon points="1136.9,67.0 1154.8,75.9 1155.6,77.4 1137.8,68.5" fill="#7b1849" stroke="#7b1849" stroke-width="0.7"/>
<polygon points="1136.1,65.9 1153.9,74.9 1154.8,75.9 1136.9,67.0" fill="#8a1d54" stroke="#8a1d54" stroke-width="0.7"/>
<polygon points="1135.3,65.8 1153.1,74.8 1153.9,74.9 1136.1,65.9" fill="#a42567" stroke="#a42567" stroke-width="0.7"/>
<polygon points="1134.5,66.6 1152.3,75.7 1153.1,74.8 1135.3,65.8" fill="#ba2e77" stroke="#ba2e77" stroke-width="0.7"/>
<polygon points="1133.7,68.3 1151.5,77.4 1152.3,75.7 1134.5,66.6" fill="#c43681" stroke="#c43681" stroke-width="0.7"/>
<polygon points="1132.8,70.5 1150.7,79.6 1151.5,77.4 1133.7,68.3" fill="#cb3b87" stroke="#cb3b87" stroke-width="0.7"/>
<polygon points="1132.0,72.7 1149.8,81.9 1150.7,79.6 1132.8,70.5" fill="#cb3b87" stroke="#cb3b87" stroke-width="0.7"/>
<polygon points="1131.2,74.4 1149.0,83.6 1149.8,81.9 1132.0,72.7" fill="#c43681" stroke="#c43681" stroke-width="0.7"/>
<polygon points="1130.3,75.2 1148.2,84.5 1149.0,83.6 1131.2,74.4" fill="#ba2e77" stroke="#ba2e77" stroke-width="0.7"/>
<polygon points="1129.5,75.1 1147.4,84.4 1148.2,84.5 1130.3,75.2" fill="#a42567" stroke="#a42567" stroke-width="0.7"/>
<polygon points="1128.7,74.0 1146.5,83.4 1147.4,84.4 1129.5,75.1" fill="#8a1d54" stroke="#8a1d54" stroke-width="0.7"/>
<polygon points="1127.9,72.5 1145.7,81.9 1146.5,83.4 1128.7,74.0" fill="#7b1849" stroke="#7b1849" stroke-width="0.7"/>
<polygon points="1127.0,70.9 1144.9,80.4 1145.7,81.9 1127.9,72.5" fill="#7b1849" stroke="#7b1849" stroke-width="0.7"/>
<polygon points="1126.2,69.9 1144.1,79.3 1144.9,80.4 1127.0,70.9" fill="#8a1d54" stroke="#8a1d54" stroke-width="0.7"/>
<polygon points="1125.4,69.7 1143.2,79.2 1144.1,79.3 1126.2,69.9" fill="#a42567" stroke="#a42567" stroke-width="0.7"/>
<polygon points="1124.6,70.6 1142.4,80.1 1143.2,79.2 1125.4,69.7" fill="#ba2e77" stroke="#ba2e77" stroke-width="0.7"/>
<polygon points="1123.8,72.3 1141.6,81.8 1142.4,80.1 1124.6,70.6" fill="#c43681" stroke="#c43681" stroke-width="0.7"/>
<polygon points="1122.9,74.5 1140.8,84.1 1141.6,81.8 1123.8,72.3" fill="#cb3b87" stroke="#cb3b87" stroke-width="0.7"/>
<polygon points="1122.1,76.7 1140.0,86.3 1140.8,84.1 1122.9,74.5" fill="#cb3b87" stroke="#cb3b87" stroke-width="0.7"/>
<polygon points="1121.3,78.4 1139.1,88.1 1140.0,86.3 1122.1,76.7" fill="#c43681" stroke="#c43681" stroke-width="0.7"/>
<polygon points="1120.4,79.2 1138.3,88.9 1139.1,88.1 1121.3,78.4" fill="#ba2e77" stroke="#ba2e77" stroke-width="0.7"/>
<polygon points="1119.6,79.0 1137.5,88.8 1138.3,88.9 1120.4,79.2" fill="#a42567" stroke="#a42567" stroke-width="0.7"/>
<polygon points="1118.8,78.0 1136.7,87.8 1137.5,88.8 1119.6,79.0" fill="#8a1d54" stroke="#8a1d54" stroke-width="0.7"/>
<polygon points="1118.0,76.5 1135.8,86.3 1136.7,87.8 1118.8,78.0" fill="#7b1849" stroke="#7b1849" stroke-width="0.7"/>
<polygon points="1117.1,74.9 1135.0,84.8 1135.8,86.3 1118.0,76.5" fill="#7b1849" stroke="#7b1849" stroke-width="0.7"/>
<polygon points="1116.3,73.9 1134.2,83.8 1135.0,84.8 1117.1,74.9" fill="#8a1d54" stroke="#8a1d54" stroke-width="0.7"/>
<polygon points="1115.5,73.7 1133.4,83.6 1134.2,83.8 1116.3,73.9" fill="#a42567" stroke="#a42567" stroke-width="0.7"/>
<polygon points="1133.4,83.6 1133.9,83.6 1134.4,83.9 1134.9,84.5 1135.3,85.4 1135.8,86.3 1136.3,87.2 1136.8,88.1 1137.3,88.7 1137.8,89.0 1138.3,88.9 1138.8,88.5 1139.3,87.8 1139.8,86.7 1140.3,85.5 1140.8,84.1 1141.3,82.7 1141.8,81.4 1142.3,80.4 1142.8,79.6 1143.2,79.2 1143.7,79.2 1144.2,79.5 1144.7,80.1 1145.2,80.9 1145.7,81.9 1146.2,82.8 1146.7,83.6 1147.2,84.2 1147.7,84.5 1148.2,84.5 1148.7,84.1 1149.2,83.3 1149.7,82.3 1150.2,81.0 1150.7,79.6 1151.1,78.3 1151.6,77.0 1152.1,75.9 1152.6,75.2 1153.1,74.8 1153.6,74.7 1154.1,75.1 1154.6,75.7 1155.1,76.5 1155.6,77.4 1156.1,78.4 1156.6,79.2 1157.1,79.8 1157.6,80.1 1158.1,80.1 1158.6,79.7 1159.0,78.9 1159.5,77.9 1160.0,76.6 1160.5,75.2 1161.0,73.8 1161.5,72.6 1162.0,71.5 1162.5,70.8 1163.0,70.3 1163.5,70.3 1164.0,70.6 1164.5,71.2 1165.0,72.1 1165.5,73.0 1166.0,73.9 1166.5,74.8 1167.0,75.4 1167.4,75.7 1167.9,75.6 1168.4,75.2 1168.9,74.5 1169.4,73.4 1169.9,72.2 1170.4,70.8 1170.9,69.4 1171.4,68.1 1171.9,67.1 1172.4,66.3 1172.9,65.9 1173.4,65.9 1173.9,66.2 1174.4,66.8 1174.9,67.6 1175.3,68.6 1175.8,69.5 1176.3,70.3 1176.8,70.9 1177.3,71.2 1177.8,71.2 1178.3,70.8 1178.8,70.0 1179.3,69.0 1179.8,67.7 1180.3,66.3 1180.8,65.0 1181.3,63.7 1181.8,62.6 1182.3,61.9 1182.8,61.5 1183.2,61.4 1183.7,61.8 1184.2,62.4 1184.7,63.2 1185.2,64.1 1185.7,65.1 1186.2,65.9 1186.7,66.5 1187.2,66.8 1187.7,66.8 1188.2,66.4 1188.7,65.6 1189.2,64.6 1189.7,63.3 1190.2,61.9 1190.7,60.5 1191.1,59.3 1191.6,58.2 1192.1,57.5 1192.6,57.0 1193.1,57.0 1193.6,57.3 1194.1,57.9 1194.6,58.8 1195.1,59.7 1195.6,60.6 1196.1,61.5 1196.6,62.1 1197.1,62.4 1197.6,62.3 1198.1,61.9 1198.6,61.2 1199.1,60.1 1199.5,58.9 1200.0,57.5 1200.5,56.1 1201.0,54.8 1201.5,53.8 1202.0,53.0 1202.5,52.6 1203.0,52.6 1203.5,52.9 1204.0,53.5 1204.5,54.3 1205.0,55.3 1205.5,56.2 1206.0,57.0 1206.5,57.6 1207.0,57.9 1207.4,57.9 1207.9,57.5 1208.4,56.7 1208.9,55.7 1209.4,54.4 1209.9,53.0 1210.4,51.7 1210.9,50.4 1211.4,49.3 1211.9,48.6 1212.4,48.2 1212.9,48.1 1213.4,48.5 1213.9,49.1 1214.4,49.9 1214.9,50.8 1215.3,51.8 1215.8,52.6 1216.3,53.2 1216.8,53.5 1217.3,53.5 1217.8,53.1 1218.3,52.3 1218.8,51.3 1219.3,50.0 1219.8,48.6 1220.3,47.2 1220.8,46.0 1221.3,44.9 1221.8,44.2 1222.3,43.7 1222.8,43.7 1223.2,44.0 1223.7,44.6 1224.2,45.5 1224.7,46.4 1225.2,47.3 1225.7,48.1 1226.2,48.8 1226.7,49.1 1227.2,49.0 1227.7,48.6 1228.2,47.9 1228.7,46.8 1229.2,45.6 1229.7,44.2 1230.2,42.8 1230.7,41.5 1231.2,40.5 1231.6,39.7 1232.1,39.3 1232.1,50.8 1231.6,51.0 1231.2,51.3 1230.7,51.5 1230.2,51.7 1229.7,51.9 1229.2,52.1 1228.7,52.4 1228.2,52.6 1227.7,52.8 1227.2,53.0 1226.7,53.3 1226.2,53.5 1225.7,53.7 1225.2,53.9 1224.7,54.1 1224.2,54.4 1223.7,54.6 1223.2,54.8 1222.8,55.0 1222.3,55.2 1221.8,55.5 1221.3,55.7 1220.8,55.9 1220.3,56.1 1219.8,56.4 1219.3,56.6 1218.8,56.8 1218.3,57.0 1217.8,57.2 1217.3,57.5 1216.8,57.7 1216.3,57.9 1215.8,58.1 1215.3,58.4 1214.9,58.6 1214.4,58.8 1213.9,59.0 1213.4,59.2 1212.9,59.5 1212.4,59.7 1211.9,59.9 1211.4,60.1 1210.9,60.3 1210.4,60.6 1209.9,60.8 1209.4,61.0 1208.9,61.2 1208.4,61.5 1207.9,61.7 1207.4,61.9 1207.0,62.1 1206.5,62.3 1206.0,62.6 1205.5,62.8 1205.0,63.0 1204.5,63.2 1204.0,63.4 1203.5,63.7 1203.0,63.9 1202.5,64.1 1202.0,64.3 1201.5,64.6 1201.0,64.8 1200.5,65.0 1200.0,65.2 1199.5,65.4 1199.1,65.7 1198.6,65.9 1198.1,66.1 1197.6,66.3 1197.1,66.6 1196.6,66.8 1196.1,67.0 1195.6,67.2 1195.1,67.4 1194.6,67.7 1194.1,67.9 1193.6,68.1 1193.1,68.3 1192.6,68.5 1192.1,68.8 1191.6,69.0 1191.1,69.2 1190.7,69.4 1190.2,69.7 1189.7,69.9 1189.2,70.1 1188.7,70.3 1188.2,70.5 1187.7,70.8 1187.2,71.0 1186.7,71.2 1186.2,71.4 1185.7,71.7 1185.2,71.9 1184.7,72.1 1184.2,72.3 1183.7,72.5 1183.2,72.8 1182.8,73.0 1182.3,73.2 1181.8,73.4 1181.3,73.6 1180.8,73.9 1180.3,74.1 1179.8,74.3 1179.3,74.5 1178.8,74.8 1178.3,75.0 1177.8,75.2 1177.3,75.4 1176.8,75.6 1176.3,75.9 1175.8,76.1 1175.3,76.3 1174.9,76.5 1174.4,76.7 1173.9,77.0 1173.4,77.2 1172.9,77.4 1172.4,77.6 1171.9,77.9 1171.4,78.1 1170.9,78.3 1170.4,78.5 1169.9,78.7 1169.4,79.0 1168.9,79.2 1168.4,79.4 1167.9,79.6 1167.4,79.9 1167.0,80.1 1166.5,80.3 1166.0,80.5 1165.5,80.7 1165.0,81.0 1164.5,81.2 1164.0,81.4 1163.5,81.6 1163.0,81.8 1162.5,82.1 1162.0,82.3 1161.5,82.5 1161.0,82.7 1160.5,83.0 1160.0,83.2 1159.5,83.4 1159.0,83.6 1158.6,83.8 1158.1,84.1 1157.6,84.3 1157.1,84.5 1156.6,84.7 1156.1,85.0 1155.6,85.2 1155.1,85.4 1154.6,85.6 1154.1,85.8 1153.6,86.1 1153.1,86.3 1152.6,86.5 1152.1,86.7 1151.6,86.9 1151.1,87.2 1150.7,87.4 1150.2,87.6 1149.7,87.8 1149.2,88.1 1148.7,88.3 1148.2,88.5 1147.7,88.7 1147.2,88.9 1146.7,89.2 1146.2,89.4 1145.7,89.6 1145.2,89.8 1144.7,90.1 1144.2,90.3 1143.7,90.5 1143.2,90.7 1142.8,90.9 1142.3,91.2 1141.8,91.4 1141.3,91.6 1140.8,91.8 1140.3,92.0 1139.8,92.3 1139.3,92.5 1138.8,92.7 1138.3,92.9 1137.8,93.2 1137.3,93.4 1136.8,93.6 1136.3,93.8 1135.8,94.0 1135.3,94.3 1134.9,94.5 1134.4,94.7 1133.9,94.9 1133.4,95.1" fill="#9a2060"/>
<polygon points="1133.4,88.1 1135.3,86.7 1234.0,41.9 1232.1,43.8" fill="#2c34a8" stroke="#2c34a8" stroke-width="0.6"/>
<polygon points="1135.3,86.7 1137.2,90.3 1235.9,44.9 1234.0,41.9" fill="#4652d6" stroke="#4652d6" stroke-width="0.6"/>
<polygon points="1137.2,90.3 1139.1,88.8 1237.8,43.0 1235.9,44.9" fill="#2c34a8" stroke="#2c34a8" stroke-width="0.6"/>
<polygon points="1139.1,88.8 1141.0,92.4 1239.6,46.1 1237.8,43.0" fill="#4652d6" stroke="#4652d6" stroke-width="0.6"/>
<polygon points="1141.0,92.4 1142.8,90.9 1241.5,44.1 1239.6,46.1" fill="#2c34a8" stroke="#2c34a8" stroke-width="0.6"/>
<polygon points="1142.8,90.9 1144.7,94.5 1243.4,47.2 1241.5,44.1" fill="#4652d6" stroke="#4652d6" stroke-width="0.6"/>
<polygon points="1144.7,94.5 1146.6,93.0 1245.2,45.3 1243.4,47.2" fill="#2c34a8" stroke="#2c34a8" stroke-width="0.6"/>
<polygon points="1146.6,93.0 1148.5,96.6 1247.1,48.3 1245.2,45.3" fill="#4652d6" stroke="#4652d6" stroke-width="0.6"/>
<polygon points="1148.5,96.6 1150.4,95.1 1249.0,46.4 1247.1,48.3" fill="#2c34a8" stroke="#2c34a8" stroke-width="0.6"/>
<polygon points="1150.4,95.1 1152.3,98.7 1250.8,49.4 1249.0,46.4" fill="#4652d6" stroke="#4652d6" stroke-width="0.6"/>
<polygon points="1250.0,45.9 1272.5,52.7 1273.3,51.7 1250.8,44.9" fill="#ba2e77" stroke="#ba2e77" stroke-width="0.7"/>
<polygon points="1249.2,47.6 1271.7,54.5 1272.5,52.7 1250.0,45.9" fill="#c43681" stroke="#c43681" stroke-width="0.7"/>
<polygon points="1248.4,49.9 1270.8,56.8 1271.7,54.5 1249.2,47.6" fill="#cb3b87" stroke="#cb3b87" stroke-width="0.7"/>
<polygon points="1247.6,52.2 1270.0,59.2 1270.8,56.8 1248.4,49.9" fill="#cb3b87" stroke="#cb3b87" stroke-width="0.7"/>
<polygon points="1246.7,54.0 1269.2,61.0 1270.0,59.2 1247.6,52.2" fill="#c43681" stroke="#c43681" stroke-width="0.7"/>
<polygon points="1245.9,54.9 1268.4,62.0 1269.2,61.0 1246.7,54.0" fill="#ba2e77" stroke="#ba2e77" stroke-width="0.7"/>
<polygon points="1245.1,54.8 1267.6,61.9 1268.4,62.0 1245.9,54.9" fill="#a42567" stroke="#a42567" stroke-width="0.7"/>
<polygon points="1244.3,53.9 1266.7,61.0 1267.6,61.9 1245.1,54.8" fill="#8a1d54" stroke="#8a1d54" stroke-width="0.7"/>
<polygon points="1243.5,52.4 1265.9,59.6 1266.7,61.0 1244.3,53.9" fill="#7b1849" stroke="#7b1849" stroke-width="0.7"/>
<polygon points="1242.6,50.9 1265.1,58.2 1265.9,59.6 1243.5,52.4" fill="#7b1849" stroke="#7b1849" stroke-width="0.7"/>
<polygon points="1241.8,50.0 1264.3,57.3 1265.1,58.2 1242.6,50.9" fill="#8a1d54" stroke="#8a1d54" stroke-width="0.7"/>
<polygon points="1241.0,49.9 1263.5,57.2 1264.3,57.3 1241.8,50.0" fill="#a42567" stroke="#a42567" stroke-width="0.7"/>
<polygon points="1240.2,50.8 1262.7,58.2 1263.5,57.2 1241.0,49.9" fill="#ba2e77" stroke="#ba2e77" stroke-width="0.7"/>
<polygon points="1239.4,52.6 1261.8,60.0 1262.7,58.2 1240.2,50.8" fill="#c43681" stroke="#c43681" stroke-width="0.7"/>
<polygon points="1238.5,54.9 1261.0,62.4 1261.8,60.0 1239.4,52.6" fill="#cb3b87" stroke="#cb3b87" stroke-width="0.7"/>
<polygon points="1237.7,57.1 1260.2,64.7 1261.0,62.4 1238.5,54.9" fill="#cb3b87" stroke="#cb3b87" stroke-width="0.7"/>
<polygon points="1236.9,58.9 1259.4,66.5 1260.2,64.7 1237.7,57.1" fill="#c43681" stroke="#c43681" stroke-width="0.7"/>
<polygon points="1236.1,59.8 1258.6,67.5 1259.4,66.5 1236.9,58.9" fill="#ba2e77" stroke="#ba2e77" stroke-width="0.7"/>
<polygon points="1235.2,59.7 1257.7,67.4 1258.6,67.5 1236.1,59.8" fill="#a42567" stroke="#a42567" stroke-width="0.7"/>
<polygon points="1234.4,58.8 1256.9,66.5 1257.7,67.4 1235.2,59.7" fill="#8a1d54" stroke="#8a1d54" stroke-width="0.7"/>
<polygon points="1233.6,57.3 1256.1,65.1 1256.9,66.5 1234.4,58.8" fill="#7b1849" stroke="#7b1849" stroke-width="0.7"/>
<polygon points="1232.8,55.9 1255.3,63.7 1256.1,65.1 1233.6,57.3" fill="#7b1849" stroke="#7b1849" stroke-width="0.7"/>
<polygon points="1232.0,54.9 1254.5,62.8 1255.3,63.7 1232.8,55.9" fill="#8a1d54" stroke="#8a1d54" stroke-width="0.7"/>
<polygon points="1231.1,54.8 1253.6,62.7 1254.5,62.8 1232.0,54.9" fill="#a42567" stroke="#a42567" stroke-width="0.7"/>
<polygon points="1230.3,55.7 1252.8,63.7 1253.6,62.7 1231.1,54.8" fill="#ba2e77" stroke="#ba2e77" stroke-width="0.7"/>
<polygon points="1229.5,57.5 1252.0,65.5 1252.8,63.7 1230.3,55.7" fill="#c43681" stroke="#c43681" stroke-width="0.7"/>
<polygon points="1228.7,59.8 1251.2,67.9 1252.0,65.5 1229.5,57.5" fill="#cb3b87" stroke="#cb3b87" stroke-width="0.7"/>
<polygon points="1227.9,62.1 1250.4,70.2 1251.2,67.9 1228.7,59.8" fill="#cb3b87" stroke="#cb3b87" stroke-width="0.7"/>
<polygon points="1227.0,63.8 1249.6,72.0 1250.4,70.2 1227.9,62.1" fill="#c43681" stroke="#c43681" stroke-width="0.7"/>
<polygon points="1226.2,64.8 1248.7,73.0 1249.6,72.0 1227.0,63.8" fill="#ba2e77" stroke="#ba2e77" stroke-width="0.7"/>
<polygon points="1225.4,64.7 1247.9,73.0 1248.7,73.0 1226.2,64.8" fill="#a42567" stroke="#a42567" stroke-width="0.7"/>
<polygon points="1224.6,63.7 1247.1,72.0 1247.9,73.0 1225.4,64.7" fill="#8a1d54" stroke="#8a1d54" stroke-width="0.7"/>
<polygon points="1223.8,62.2 1246.3,70.6 1247.1,72.0 1224.6,63.7" fill="#7b1849" stroke="#7b1849" stroke-width="0.7"/>
<polygon points="1222.9,60.8 1245.5,69.2 1246.3,70.6 1223.8,62.2" fill="#7b1849" stroke="#7b1849" stroke-width="0.7"/>
<polygon points="1222.1,59.8 1244.6,68.3 1245.5,69.2 1222.9,60.8" fill="#8a1d54" stroke="#8a1d54" stroke-width="0.7"/>
<polygon points="1221.3,59.7 1243.8,68.3 1244.6,68.3 1222.1,59.8" fill="#a42567" stroke="#a42567" stroke-width="0.7"/>
<polygon points="1220.5,60.6 1243.0,69.2 1243.8,68.3 1221.3,59.7" fill="#ba2e77" stroke="#ba2e77" stroke-width="0.7"/>
<polygon points="1219.6,62.4 1242.2,71.1 1243.0,69.2 1220.5,60.6" fill="#c43681" stroke="#c43681" stroke-width="0.7"/>
<polygon points="1218.8,64.7 1241.4,73.4 1242.2,71.1 1219.6,62.4" fill="#cb3b87" stroke="#cb3b87" stroke-width="0.7"/>
<polygon points="1218.0,67.0 1240.6,75.7 1241.4,73.4 1218.8,64.7" fill="#cb3b87" stroke="#cb3b87" stroke-width="0.7"/>
<polygon points="1217.2,68.8 1239.7,77.6 1240.6,75.7 1218.0,67.0" fill="#c43681" stroke="#c43681" stroke-width="0.7"/>
<polygon points="1216.4,69.7 1238.9,78.5 1239.7,77.6 1217.2,68.8" fill="#ba2e77" stroke="#ba2e77" stroke-width="0.7"/>
<polygon points="1215.5,69.6 1238.1,78.5 1238.9,78.5 1216.4,69.7" fill="#a42567" stroke="#a42567" stroke-width="0.7"/>
<polygon points="1214.7,68.6 1237.3,77.6 1238.1,78.5 1215.5,69.6" fill="#8a1d54" stroke="#8a1d54" stroke-width="0.7"/>
<polygon points="1213.9,67.2 1236.5,76.1 1237.3,77.6 1214.7,68.6" fill="#7b1849" stroke="#7b1849" stroke-width="0.7"/>
<polygon points="1213.1,65.7 1235.6,74.7 1236.5,76.1 1213.9,67.2" fill="#7b1849" stroke="#7b1849" stroke-width="0.7"/>
<polygon points="1212.3,64.7 1234.8,73.8 1235.6,74.7 1213.1,65.7" fill="#8a1d54" stroke="#8a1d54" stroke-width="0.7"/>
<polygon points="1211.4,64.6 1234.0,73.8 1234.8,73.8 1212.3,64.7" fill="#a42567" stroke="#a42567" stroke-width="0.7"/>
<polygon points="1210.6,65.6 1233.2,74.7 1234.0,73.8 1211.4,64.6" fill="#ba2e77" stroke="#ba2e77" stroke-width="0.7"/>
<polygon points="1209.8,67.3 1232.4,76.6 1233.2,74.7 1210.6,65.6" fill="#c43681" stroke="#c43681" stroke-width="0.7"/>
<polygon points="1209.0,69.6 1231.5,78.9 1232.4,76.6 1209.8,67.3" fill="#cb3b87" stroke="#cb3b87" stroke-width="0.7"/>
<polygon points="1208.2,71.9 1230.7,81.2 1231.5,78.9 1209.0,69.6" fill="#cb3b87" stroke="#cb3b87" stroke-width="0.7"/>
<polygon points="1207.3,73.7 1229.9,83.1 1230.7,81.2 1208.2,71.9" fill="#c43681" stroke="#c43681" stroke-width="0.7"/>
<polygon points="1206.5,74.6 1229.1,84.0 1229.9,83.1 1207.3,73.7" fill="#ba2e77" stroke="#ba2e77" stroke-width="0.7"/>
<polygon points="1205.7,74.5 1228.3,84.0 1229.1,84.0 1206.5,74.6" fill="#a42567" stroke="#a42567" stroke-width="0.7"/>
<polygon points="1204.9,73.6 1227.5,83.1 1228.3,84.0 1205.7,74.5" fill="#8a1d54" stroke="#8a1d54" stroke-width="0.7"/>
<polygon points="1204.0,72.1 1226.6,81.7 1227.5,83.1 1204.9,73.6" fill="#7b1849" stroke="#7b1849" stroke-width="0.7"/>
<polygon points="1203.2,70.6 1225.8,80.2 1226.6,81.7 1204.0,72.1" fill="#7b1849" stroke="#7b1849" stroke-width="0.7"/>
<polygon points="1202.4,69.7 1225.0,79.3 1225.8,80.2 1203.2,70.6" fill="#8a1d54" stroke="#8a1d54" stroke-width="0.7"/>
<polygon points="1201.6,69.6 1224.2,79.3 1225.0,79.3 1202.4,69.7" fill="#a42567" stroke="#a42567" stroke-width="0.7"/>
<polygon points="1200.8,70.5 1223.4,80.2 1224.2,79.3 1201.6,69.6" fill="#ba2e77" stroke="#ba2e77" stroke-width="0.7"/>
<polygon points="1199.9,72.3 1222.5,82.1 1223.4,80.2 1200.8,70.5" fill="#c43681" stroke="#c43681" stroke-width="0.7"/>
<polygon points="1199.1,74.6 1221.7,84.4 1222.5,82.1 1199.9,72.3" fill="#cb3b87" stroke="#cb3b87" stroke-width="0.7"/>
<polygon points="1198.3,76.8 1220.9,86.8 1221.7,84.4 1199.1,74.6" fill="#cb3b87" stroke="#cb3b87" stroke-width="0.7"/>
<polygon points="1197.5,78.6 1220.1,88.6 1220.9,86.8 1198.3,76.8" fill="#c43681" stroke="#c43681" stroke-width="0.7"/>
<polygon points="1196.7,79.5 1219.3,89.5 1220.1,88.6 1197.5,78.6" fill="#ba2e77" stroke="#ba2e77" stroke-width="0.7"/>
<polygon points="1195.8,79.4 1218.4,89.5 1219.3,89.5 1196.7,79.5" fill="#a42567" stroke="#a42567" stroke-width="0.7"/>
<polygon points="1195.0,78.5 1217.6,88.6 1218.4,89.5 1195.8,79.4" fill="#8a1d54" stroke="#8a1d54" stroke-width="0.7"/>
<polygon points="1194.2,77.0 1216.8,87.2 1217.6,88.6 1195.0,78.5" fill="#7b1849" stroke="#7b1849" stroke-width="0.7"/>
<polygon points="1193.4,75.6 1216.0,85.8 1216.8,87.2 1194.2,77.0" fill="#7b1849" stroke="#7b1849" stroke-width="0.7"/>
<polygon points="1192.6,74.6 1215.2,84.8 1216.0,85.8 1193.4,75.6" fill="#8a1d54" stroke="#8a1d54" stroke-width="0.7"/>
<polygon points="1191.7,74.5 1214.4,84.8 1215.2,84.8 1192.6,74.6" fill="#a42567" stroke="#a42567" stroke-width="0.7"/>
<polygon points="1190.9,75.4 1213.5,85.8 1214.4,84.8 1191.7,74.5" fill="#ba2e77" stroke="#ba2e77" stroke-width="0.7"/>
<polygon points="1190.1,77.2 1212.7,87.6 1213.5,85.8 1190.9,75.4" fill="#c43681" stroke="#c43681" stroke-width="0.7"/>
<polygon points="1189.3,79.5 1211.9,89.9 1212.7,87.6 1190.1,77.2" fill="#cb3b87" stroke="#cb3b87" stroke-width="0.7"/>
<polygon points="1188.4,81.8 1211.1,92.3 1211.9,89.9 1189.3,79.5" fill="#cb3b87" stroke="#cb3b87" stroke-width="0.7"/>
<polygon points="1187.6,83.6 1210.3,94.1 1211.1,92.3 1188.4,81.8" fill="#c43681" stroke="#c43681" stroke-width="0.7"/>
<polygon points="1186.8,84.5 1209.4,95.1 1210.3,94.1 1187.6,83.6" fill="#ba2e77" stroke="#ba2e77" stroke-width="0.7"/>
<polygon points="1186.0,84.4 1208.6,95.0 1209.4,95.1 1186.8,84.5" fill="#a42567" stroke="#a42567" stroke-width="0.7"/>
<polygon points="1185.2,83.4 1207.8,94.1 1208.6,95.0 1186.0,84.4" fill="#8a1d54" stroke="#8a1d54" stroke-width="0.7"/>
<polygon points="1184.3,81.9 1207.0,92.7 1207.8,94.1 1185.2,83.4" fill="#7b1849" stroke="#7b1849" stroke-width="0.7"/>
<polygon points="1183.5,80.5 1206.2,91.3 1207.0,92.7 1184.3,81.9" fill="#7b1849" stroke="#7b1849" stroke-width="0.7"/>
<polygon points="1182.7,79.5 1205.4,90.4 1206.2,91.3 1183.5,80.5" fill="#8a1d54" stroke="#8a1d54" stroke-width="0.7"/>
<polygon points="1181.9,79.4 1204.5,90.3 1205.4,90.4 1182.7,79.5" fill="#a42567" stroke="#a42567" stroke-width="0.7"/>
<polygon points="1181.1,80.3 1203.7,91.3 1204.5,90.3 1181.9,79.4" fill="#ba2e77" stroke="#ba2e77" stroke-width="0.7"/>
<polygon points="1180.2,82.1 1202.9,93.1 1203.7,91.3 1181.1,80.3" fill="#c43681" stroke="#c43681" stroke-width="0.7"/>
<polygon points="1179.4,84.4 1202.1,95.4 1202.9,93.1 1180.2,82.1" fill="#cb3b87" stroke="#cb3b87" stroke-width="0.7"/>
<polygon points="1178.6,86.7 1201.3,97.8 1202.1,95.4 1179.4,84.4" fill="#cb3b87" stroke="#cb3b87" stroke-width="0.7"/>
<polygon points="1177.8,88.5 1200.4,99.6 1201.3,97.8 1178.6,86.7" fill="#c43681" stroke="#c43681" stroke-width="0.7"/>
<polygon points="1177.0,89.4 1199.6,100.6 1200.4,99.6 1177.8,88.5" fill="#ba2e77" stroke="#ba2e77" stroke-width="0.7"/>
<polygon points="1176.1,89.3 1198.8,100.5 1199.6,100.6 1177.0,89.4" fill="#a42567" stroke="#a42567" stroke-width="0.7"/>
<polygon points="1175.3,88.3 1198.0,99.6 1198.8,100.5 1176.1,89.3" fill="#8a1d54" stroke="#8a1d54" stroke-width="0.7"/>
<polygon points="1174.5,86.9 1197.2,98.2 1198.0,99.6 1175.3,88.3" fill="#7b1849" stroke="#7b1849" stroke-width="0.7"/>
<polygon points="1173.7,85.4 1196.3,96.8 1197.2,98.2 1174.5,86.9" fill="#7b1849" stroke="#7b1849" stroke-width="0.7"/>
<polygon points="1172.8,84.4 1195.5,95.9 1196.3,96.8 1173.7,85.4" fill="#8a1d54" stroke="#8a1d54" stroke-width="0.7"/>
<polygon points="1172.0,84.4 1194.7,95.8 1195.5,95.9 1172.8,84.4" fill="#a42567" stroke="#a42567" stroke-width="0.7"/>
<polygon points="1171.2,85.3 1193.9,96.8 1194.7,95.8 1172.0,84.4" fill="#ba2e77" stroke="#ba2e77" stroke-width="0.7"/>
<polygon points="1170.4,87.0 1193.1,98.6 1193.9,96.8 1171.2,85.3" fill="#c43681" stroke="#c43681" stroke-width="0.7"/>
<polygon points="1169.6,89.3 1192.3,101.0 1193.1,98.6 1170.4,87.0" fill="#cb3b87" stroke="#cb3b87" stroke-width="0.7"/>
<polygon points="1168.7,91.6 1191.4,103.3 1192.3,101.0 1169.6,89.3" fill="#cb3b87" stroke="#cb3b87" stroke-width="0.7"/>
<polygon points="1167.9,93.4 1190.6,105.1 1191.4,103.3 1168.7,91.6" fill="#c43681" stroke="#c43681" stroke-width="0.7"/>
<polygon points="1167.1,94.3 1189.8,106.1 1190.6,105.1 1167.9,93.4" fill="#ba2e77" stroke="#ba2e77" stroke-width="0.7"/>
<polygon points="1166.3,94.2 1189.0,106.0 1189.8,106.1 1167.1,94.3" fill="#a42567" stroke="#a42567" stroke-width="0.7"/>
<polygon points="1165.5,93.3 1188.2,105.1 1189.0,106.0 1166.3,94.2" fill="#8a1d54" stroke="#8a1d54" stroke-width="0.7"/>
<polygon points="1164.6,91.8 1187.3,103.7 1188.2,105.1 1165.5,93.3" fill="#7b1849" stroke="#7b1849" stroke-width="0.7"/>
<polygon points="1163.8,90.3 1186.5,102.3 1187.3,103.7 1164.6,91.8" fill="#7b1849" stroke="#7b1849" stroke-width="0.7"/>
<polygon points="1163.0,89.4 1185.7,101.4 1186.5,102.3 1163.8,90.3" fill="#8a1d54" stroke="#8a1d54" stroke-width="0.7"/>
<polygon points="1162.2,89.3 1184.9,101.3 1185.7,101.4 1163.0,89.4" fill="#a42567" stroke="#a42567" stroke-width="0.7"/>
<polygon points="1161.4,90.2 1184.1,102.3 1184.9,101.3 1162.2,89.3" fill="#ba2e77" stroke="#ba2e77" stroke-width="0.7"/>
<polygon points="1160.5,92.0 1183.3,104.1 1184.1,102.3 1161.4,90.2" fill="#c43681" stroke="#c43681" stroke-width="0.7"/>
<polygon points="1159.7,94.3 1182.4,106.5 1183.3,104.1 1160.5,92.0" fill="#cb3b87" stroke="#cb3b87" stroke-width="0.7"/>
<polygon points="1158.9,96.5 1181.6,108.8 1182.4,106.5 1159.7,94.3" fill="#cb3b87" stroke="#cb3b87" stroke-width="0.7"/>
<polygon points="1158.1,98.3 1180.8,110.6 1181.6,108.8 1158.9,96.5" fill="#c43681" stroke="#c43681" stroke-width="0.7"/>
<polygon points="1157.2,99.2 1180.0,111.6 1180.8,110.6 1158.1,98.3" fill="#ba2e77" stroke="#ba2e77" stroke-width="0.7"/>
<polygon points="1156.4,99.1 1179.2,111.6 1180.0,111.6 1157.2,99.2" fill="#a42567" stroke="#a42567" stroke-width="0.7"/>
<polygon points="1155.6,98.2 1178.3,110.7 1179.2,111.6 1156.4,99.1" fill="#8a1d54" stroke="#8a1d54" stroke-width="0.7"/>
<polygon points="1154.8,96.7 1177.5,109.2 1178.3,110.7 1155.6,98.2" fill="#7b1849" stroke="#7b1849" stroke-width="0.7"/>
<polygon points="1154.0,95.3 1176.7,107.8 1177.5,109.2 1154.8,96.7" fill="#7b1849" stroke="#7b1849" stroke-width="0.7"/>
<polygon points="1153.1,94.3 1175.9,106.9 1176.7,107.8 1154.0,95.3" fill="#8a1d54" stroke="#8a1d54" stroke-width="0.7"/>
<polygon points="1152.3,94.2 1175.1,106.9 1175.9,106.9 1153.1,94.3" fill="#a42567" stroke="#a42567" stroke-width="0.7"/>
<polygon points="1175.1,106.9 1175.6,106.8 1176.0,107.0 1176.5,107.6 1177.0,108.4 1177.5,109.2 1178.0,110.1 1178.5,110.9 1179.0,111.4 1179.5,111.7 1180.0,111.6 1180.5,111.1 1181.0,110.3 1181.4,109.2 1181.9,107.9 1182.4,106.5 1182.9,105.0 1183.4,103.7 1183.9,102.6 1184.4,101.8 1184.9,101.3 1185.4,101.3 1185.9,101.5 1186.4,102.1 1186.9,102.8 1187.3,103.7 1187.8,104.6 1188.3,105.4 1188.8,105.9 1189.3,106.2 1189.8,106.1 1190.3,105.6 1190.8,104.8 1191.3,103.7 1191.8,102.4 1192.3,101.0 1192.7,99.5 1193.2,98.2 1193.7,97.1 1194.2,96.3 1194.7,95.8 1195.2,95.7 1195.7,96.0 1196.2,96.6 1196.7,97.3 1197.2,98.2 1197.7,99.1 1198.1,99.9 1198.6,100.4 1199.1,100.7 1199.6,100.6 1200.1,100.1 1200.6,99.3 1201.1,98.2 1201.6,96.9 1202.1,95.4 1202.6,94.0 1203.1,92.7 1203.6,91.6 1204.0,90.8 1204.5,90.3 1205.0,90.2 1205.5,90.5 1206.0,91.0 1206.5,91.8 1207.0,92.7 1207.5,93.6 1208.0,94.3 1208.5,94.9 1209.0,95.2 1209.4,95.1 1209.9,94.6 1210.4,93.8 1210.9,92.7 1211.4,91.4 1211.9,89.9 1212.4,88.5 1212.9,87.2 1213.4,86.1 1213.9,85.3 1214.4,84.8 1214.8,84.7 1215.3,85.0 1215.8,85.5 1216.3,86.3 1216.8,87.2 1217.3,88.1 1217.8,88.8 1218.3,89.4 1218.8,89.6 1219.3,89.5 1219.8,89.1 1220.3,88.3 1220.7,87.2 1221.2,85.9 1221.7,84.4 1222.2,83.0 1222.7,81.7 1223.2,80.6 1223.7,79.7 1224.2,79.3 1224.7,79.2 1225.2,79.5 1225.7,80.0 1226.1,80.8 1226.6,81.7 1227.1,82.5 1227.6,83.3 1228.1,83.9 1228.6,84.1 1229.1,84.0 1229.6,83.6 1230.1,82.8 1230.6,81.7 1231.1,80.3 1231.5,78.9 1232.0,77.5 1232.5,76.1 1233.0,75.0 1233.5,74.2 1234.0,73.8 1234.5,73.7 1235.0,73.9 1235.5,74.5 1236.0,75.3 1236.5,76.1 1236.9,77.0 1237.4,77.8 1237.9,78.3 1238.4,78.6 1238.9,78.5 1239.4,78.1 1239.9,77.2 1240.4,76.1 1240.9,74.8 1241.4,73.4 1241.9,72.0 1242.4,70.6 1242.8,69.5 1243.3,68.7 1243.8,68.3 1244.3,68.2 1244.8,68.4 1245.3,69.0 1245.8,69.7 1246.3,70.6 1246.8,71.5 1247.3,72.3 1247.8,72.8 1248.2,73.1 1248.7,73.0 1249.2,72.5 1249.7,71.7 1250.2,70.6 1250.7,69.3 1251.2,67.9 1251.7,66.4 1252.2,65.1 1252.7,64.0 1253.2,63.2 1253.6,62.7 1254.1,62.6 1254.6,62.9 1255.1,63.5 1255.6,64.2 1256.1,65.1 1256.6,66.0 1257.1,66.8 1257.6,67.3 1258.1,67.6 1258.6,67.5 1259.1,67.0 1259.5,66.2 1260.0,65.1 1260.5,63.8 1261.0,62.4 1261.5,60.9 1262.0,59.6 1262.5,58.5 1263.0,57.7 1263.5,57.2 1264.0,57.1 1264.5,57.4 1264.9,57.9 1265.4,58.7 1265.9,59.6 1266.4,60.5 1266.9,61.2 1267.4,61.8 1267.9,62.1 1268.4,62.0 1268.9,61.5 1269.4,60.7 1269.9,59.6 1270.3,58.3 1270.8,56.8 1271.3,55.4 1271.8,54.1 1272.3,53.0 1272.8,52.2 1273.3,51.7 1273.3,63.2 1272.8,63.5 1272.3,63.8 1271.8,64.0 1271.3,64.3 1270.8,64.6 1270.3,64.9 1269.9,65.1 1269.4,65.4 1268.9,65.7 1268.4,66.0 1267.9,66.2 1267.4,66.5 1266.9,66.8 1266.4,67.1 1265.9,67.3 1265.4,67.6 1264.9,67.9 1264.5,68.2 1264.0,68.4 1263.5,68.7 1263.0,69.0 1262.5,69.3 1262.0,69.6 1261.5,69.8 1261.0,70.1 1260.5,70.4 1260.0,70.7 1259.5,70.9 1259.1,71.2 1258.6,71.5 1258.1,71.8 1257.6,72.0 1257.1,72.3 1256.6,72.6 1256.1,72.9 1255.6,73.1 1255.1,73.4 1254.6,73.7 1254.1,74.0 1253.6,74.2 1253.2,74.5 1252.7,74.8 1252.2,75.1 1251.7,75.3 1251.2,75.6 1250.7,75.9 1250.2,76.2 1249.7,76.4 1249.2,76.7 1248.7,77.0 1248.2,77.3 1247.8,77.6 1247.3,77.8 1246.8,78.1 1246.3,78.4 1245.8,78.7 1245.3,78.9 1244.8,79.2 1244.3,79.5 1243.8,79.8 1243.3,80.0 1242.8,80.3 1242.4,80.6 1241.9,80.9 1241.4,81.1 1240.9,81.4 1240.4,81.7 1239.9,82.0 1239.4,82.2 1238.9,82.5 1238.4,82.8 1237.9,83.1 1237.4,83.3 1236.9,83.6 1236.5,83.9 1236.0,84.2 1235.5,84.4 1235.0,84.7 1234.5,85.0 1234.0,85.3 1233.5,85.5 1233.0,85.8 1232.5,86.1 1232.0,86.4 1231.5,86.7 1231.1,86.9 1230.6,87.2 1230.1,87.5 1229.6,87.8 1229.1,88.0 1228.6,88.3 1228.1,88.6 1227.6,88.9 1227.1,89.1 1226.6,89.4 1226.1,89.7 1225.7,90.0 1225.2,90.2 1224.7,90.5 1224.2,90.8 1223.7,91.1 1223.2,91.3 1222.7,91.6 1222.2,91.9 1221.7,92.2 1221.2,92.4 1220.7,92.7 1220.3,93.0 1219.8,93.3 1219.3,93.5 1218.8,93.8 1218.3,94.1 1217.8,94.4 1217.3,94.6 1216.8,94.9 1216.3,95.2 1215.8,95.5 1215.3,95.8 1214.8,96.0 1214.4,96.3 1213.9,96.6 1213.4,96.9 1212.9,97.1 1212.4,97.4 1211.9,97.7 1211.4,98.0 1210.9,98.2 1210.4,98.5 1209.9,98.8 1209.4,99.1 1209.0,99.3 1208.5,99.6 1208.0,99.9 1207.5,100.2 1207.0,100.4 1206.5,100.7 1206.0,101.0 1205.5,101.3 1205.0,101.5 1204.5,101.8 1204.0,102.1 1203.6,102.4 1203.1,102.6 1202.6,102.9 1202.1,103.2 1201.6,103.5 1201.1,103.7 1200.6,104.0 1200.1,104.3 1199.6,104.6 1199.1,104.9 1198.6,105.1 1198.1,105.4 1197.7,105.7 1197.2,106.0 1196.7,106.2 1196.2,106.5 1195.7,106.8 1195.2,107.1 1194.7,107.3 1194.2,107.6 1193.7,107.9 1193.2,108.2 1192.7,108.4 1192.3,108.7 1191.8,109.0 1191.3,109.3 1190.8,109.5 1190.3,109.8 1189.8,110.1 1189.3,110.4 1188.8,110.6 1188.3,110.9 1187.8,111.2 1187.3,111.5 1186.9,111.7 1186.4,112.0 1185.9,112.3 1185.4,112.6 1184.9,112.8 1184.4,113.1 1183.9,113.4 1183.4,113.7 1182.9,114.0 1182.4,114.2 1181.9,114.5 1181.4,114.8 1181.0,115.1 1180.5,115.3 1180.0,115.6 1179.5,115.9 1179.0,116.2 1178.5,116.4 1178.0,116.7 1177.5,117.0 1177.0,117.3 1176.5,117.5 1176.0,117.8 1175.6,118.1 1175.1,118.4" fill="#9a2060"/>
<polygon points="1175.1,111.4 1177.1,110.0 1275.3,54.3 1273.3,56.2" fill="#2c34a8" stroke="#2c34a8" stroke-width="0.6"/>
<polygon points="1177.1,110.0 1179.2,113.7 1277.4,57.4 1275.3,54.3" fill="#4652d6" stroke="#4652d6" stroke-width="0.6"/>
<polygon points="1179.2,113.7 1181.2,112.3 1279.4,55.5 1277.4,57.4" fill="#2c34a8" stroke="#2c34a8" stroke-width="0.6"/>
<polygon points="1181.2,112.3 1183.3,115.9 1281.4,58.7 1279.4,55.5" fill="#4652d6" stroke="#4652d6" stroke-width="0.6"/>
<polygon points="1183.3,115.9 1185.4,114.6 1283.5,56.8 1281.4,58.7" fill="#2c34a8" stroke="#2c34a8" stroke-width="0.6"/>
<polygon points="1185.4,114.6 1187.4,118.2 1285.5,59.9 1283.5,56.8" fill="#4652d6" stroke="#4652d6" stroke-width="0.6"/>
<polygon points="1187.4,118.2 1189.5,116.9 1287.5,58.0 1285.5,59.9" fill="#2c34a8" stroke="#2c34a8" stroke-width="0.6"/>
<polygon points="1189.5,116.9 1191.5,120.5 1289.5,61.1 1287.5,58.0" fill="#4652d6" stroke="#4652d6" stroke-width="0.6"/>
<polygon points="1191.5,120.5 1193.6,119.2 1291.6,59.2 1289.5,61.1" fill="#2c34a8" stroke="#2c34a8" stroke-width="0.6"/>
<polygon points="1193.6,119.2 1195.6,122.8 1293.6,62.3 1291.6,59.2" fill="#4652d6" stroke="#4652d6" stroke-width="0.6"/>
<polygon points="1292.8,58.8 1320.6,67.3 1321.4,66.2 1293.6,57.8" fill="#ba2e77" stroke="#ba2e77" stroke-width="0.7"/>
<polygon points="1292.0,60.7 1319.8,69.2 1320.6,67.3 1292.8,58.8" fill="#c43681" stroke="#c43681" stroke-width="0.7"/>
<polygon points="1291.2,63.1 1319.0,71.6 1319.8,69.2 1292.0,60.7" fill="#cb3b87" stroke="#cb3b87" stroke-width="0.7"/>
<polygon points="1290.3,65.5 1318.1,74.1 1319.0,71.6 1291.2,63.1" fill="#cb3b87" stroke="#cb3b87" stroke-width="0.7"/>
<polygon points="1289.5,67.3 1317.3,76.0 1318.1,74.1 1290.3,65.5" fill="#c43681" stroke="#c43681" stroke-width="0.7"/>
<polygon points="1288.7,68.4 1316.5,77.1 1317.3,76.0 1289.5,67.3" fill="#ba2e77" stroke="#ba2e77" stroke-width="0.7"/>
<polygon points="1287.9,68.4 1315.7,77.2 1316.5,77.1 1288.7,68.4" fill="#a42567" stroke="#a42567" stroke-width="0.7"/>
<polygon points="1287.1,67.5 1314.9,76.3 1315.7,77.2 1287.9,68.4" fill="#8a1d54" stroke="#8a1d54" stroke-width="0.7"/>
<polygon points="1286.3,66.1 1314.1,75.0 1314.9,76.3 1287.1,67.5" fill="#7b1849" stroke="#7b1849" stroke-width="0.7"/>
<polygon points="1285.4,64.7 1313.3,73.7 1314.1,75.0 1286.3,66.1" fill="#7b1849" stroke="#7b1849" stroke-width="0.7"/>
<polygon points="1284.6,63.9 1312.5,72.9 1313.3,73.7 1285.4,64.7" fill="#8a1d54" stroke="#8a1d54" stroke-width="0.7"/>
<polygon points="1283.8,63.9 1311.6,73.0 1312.5,72.9 1284.6,63.9" fill="#a42567" stroke="#a42567" stroke-width="0.7"/>
<polygon points="1283.0,64.9 1310.8,74.0 1311.6,73.0 1283.8,63.9" fill="#ba2e77" stroke="#ba2e77" stroke-width="0.7"/>
<polygon points="1282.2,66.8 1310.0,76.0 1310.8,74.0 1283.0,64.9" fill="#c43681" stroke="#c43681" stroke-width="0.7"/>
<polygon points="1281.4,69.1 1309.2,78.4 1310.0,76.0 1282.2,66.8" fill="#cb3b87" stroke="#cb3b87" stroke-width="0.7"/>
<polygon points="1280.5,71.5 1308.4,80.9 1309.2,78.4 1281.4,69.1" fill="#cb3b87" stroke="#cb3b87" stroke-width="0.7"/>
<polygon points="1279.7,73.4 1307.6,82.8 1308.4,80.9 1280.5,71.5" fill="#c43681" stroke="#c43681" stroke-width="0.7"/>
<polygon points="1278.9,74.4 1306.8,83.9 1307.6,82.8 1279.7,73.4" fill="#ba2e77" stroke="#ba2e77" stroke-width="0.7"/>
<polygon points="1278.1,74.4 1305.9,83.9 1306.8,83.9 1278.9,74.4" fill="#a42567" stroke="#a42567" stroke-width="0.7"/>
<polygon points="1277.3,73.5 1305.1,83.1 1305.9,83.9 1278.1,74.4" fill="#8a1d54" stroke="#8a1d54" stroke-width="0.7"/>
<polygon points="1276.5,72.2 1304.3,81.8 1305.1,83.1 1277.3,73.5" fill="#7b1849" stroke="#7b1849" stroke-width="0.7"/>
<polygon points="1275.6,70.8 1303.5,80.5 1304.3,81.8 1276.5,72.2" fill="#7b1849" stroke="#7b1849" stroke-width="0.7"/>
<polygon points="1274.8,69.9 1302.7,79.7 1303.5,80.5 1275.6,70.8" fill="#8a1d54" stroke="#8a1d54" stroke-width="0.7"/>
<polygon points="1274.0,69.9 1301.9,79.8 1302.7,79.7 1274.8,69.9" fill="#a42567" stroke="#a42567" stroke-width="0.7"/>
<polygon points="1273.2,70.9 1301.1,80.8 1301.9,79.8 1274.0,69.9" fill="#ba2e77" stroke="#ba2e77" stroke-width="0.7"/>
<polygon points="1272.4,72.8 1300.3,82.8 1301.1,80.8 1273.2,70.9" fill="#c43681" stroke="#c43681" stroke-width="0.7"/>
<polygon points="1271.6,75.2 1299.4,85.2 1300.3,82.8 1272.4,72.8" fill="#cb3b87" stroke="#cb3b87" stroke-width="0.7"/>
<polygon points="1270.7,77.6 1298.6,87.6 1299.4,85.2 1271.6,75.2" fill="#cb3b87" stroke="#cb3b87" stroke-width="0.7"/>
<polygon points="1269.9,79.4 1297.8,89.6 1298.6,87.6 1270.7,77.6" fill="#c43681" stroke="#c43681" stroke-width="0.7"/>
<polygon points="1269.1,80.5 1297.0,90.7 1297.8,89.6 1269.9,79.4" fill="#ba2e77" stroke="#ba2e77" stroke-width="0.7"/>
<polygon points="1268.3,80.5 1296.2,90.7 1297.0,90.7 1269.1,80.5" fill="#a42567" stroke="#a42567" stroke-width="0.7"/>
<polygon points="1267.5,79.6 1295.4,89.9 1296.2,90.7 1268.3,80.5" fill="#8a1d54" stroke="#8a1d54" stroke-width="0.7"/>
<polygon points="1266.7,78.2 1294.6,88.6 1295.4,89.9 1267.5,79.6" fill="#7b1849" stroke="#7b1849" stroke-width="0.7"/>
<polygon points="1265.8,76.8 1293.7,87.3 1294.6,88.6 1266.7,78.2" fill="#7b1849" stroke="#7b1849" stroke-width="0.7"/>
<polygon points="1265.0,76.0 1292.9,86.5 1293.7,87.3 1265.8,76.8" fill="#8a1d54" stroke="#8a1d54" stroke-width="0.7"/>
<polygon points="1264.2,76.0 1292.1,86.5 1292.9,86.5 1265.0,76.0" fill="#a42567" stroke="#a42567" stroke-width="0.7"/>
<polygon points="1263.4,77.0 1291.3,87.6 1292.1,86.5 1264.2,76.0" fill="#ba2e77" stroke="#ba2e77" stroke-width="0.7"/>
<polygon points="1262.6,78.9 1290.5,89.5 1291.3,87.6 1263.4,77.0" fill="#c43681" stroke="#c43681" stroke-width="0.7"/>
<polygon points="1261.8,81.2 1289.7,92.0 1290.5,89.5 1262.6,78.9" fill="#cb3b87" stroke="#cb3b87" stroke-width="0.7"/>
<polygon points="1261.0,83.6 1288.9,94.4 1289.7,92.0 1261.8,81.2" fill="#cb3b87" stroke="#cb3b87" stroke-width="0.7"/>
<polygon points="1260.1,85.5 1288.1,96.4 1288.9,94.4 1261.0,83.6" fill="#c43681" stroke="#c43681" stroke-width="0.7"/>
<polygon points="1259.3,86.5 1287.2,97.4 1288.1,96.4 1260.1,85.5" fill="#ba2e77" stroke="#ba2e77" stroke-width="0.7"/>
<polygon points="1258.5,86.5 1286.4,97.5 1287.2,97.4 1259.3,86.5" fill="#a42567" stroke="#a42567" stroke-width="0.7"/>
<polygon points="1257.7,85.6 1285.6,96.7 1286.4,97.5 1258.5,86.5" fill="#8a1d54" stroke="#8a1d54" stroke-width="0.7"/>
<polygon points="1256.9,84.3 1284.8,95.4 1285.6,96.7 1257.7,85.6" fill="#7b1849" stroke="#7b1849" stroke-width="0.7"/>
<polygon points="1256.1,82.9 1284.0,94.1 1284.8,95.4 1256.9,84.3" fill="#7b1849" stroke="#7b1849" stroke-width="0.7"/>
<polygon points="1255.2,82.0 1283.2,93.3 1284.0,94.1 1256.1,82.9" fill="#8a1d54" stroke="#8a1d54" stroke-width="0.7"/>
<polygon points="1254.4,82.0 1282.4,93.3 1283.2,93.3 1255.2,82.0" fill="#a42567" stroke="#a42567" stroke-width="0.7"/>
<polygon points="1253.6,83.0 1281.5,94.4 1282.4,93.3 1254.4,82.0" fill="#ba2e77" stroke="#ba2e77" stroke-width="0.7"/>
<polygon points="1252.8,84.9 1280.7,96.3 1281.5,94.4 1253.6,83.0" fill="#c43681" stroke="#c43681" stroke-width="0.7"/>
<polygon points="1252.0,87.3 1279.9,98.8 1280.7,96.3 1252.8,84.9" fill="#cb3b87" stroke="#cb3b87" stroke-width="0.7"/>
<polygon points="1251.2,89.7 1279.1,101.2 1279.9,98.8 1252.0,87.3" fill="#cb3b87" stroke="#cb3b87" stroke-width="0.7"/>
<polygon points="1250.3,91.5 1278.3,103.1 1279.1,101.2 1251.2,89.7" fill="#c43681" stroke="#c43681" stroke-width="0.7"/>
<polygon points="1249.5,92.6 1277.5,104.2 1278.3,103.1 1250.3,91.5" fill="#ba2e77" stroke="#ba2e77" stroke-width="0.7"/>
<polygon points="1248.7,92.6 1276.7,104.3 1277.5,104.2 1249.5,92.6" fill="#a42567" stroke="#a42567" stroke-width="0.7"/>
<polygon points="1247.9,91.7 1275.9,103.5 1276.7,104.3 1248.7,92.6" fill="#8a1d54" stroke="#8a1d54" stroke-width="0.7"/>
<polygon points="1247.1,90.3 1275.0,102.2 1275.9,103.5 1247.9,91.7" fill="#7b1849" stroke="#7b1849" stroke-width="0.7"/>
<polygon points="1246.3,88.9 1274.2,100.8 1275.0,102.2 1247.1,90.3" fill="#7b1849" stroke="#7b1849" stroke-width="0.7"/>
<polygon points="1245.4,88.1 1273.4,100.0 1274.2,100.8 1246.3,88.9" fill="#8a1d54" stroke="#8a1d54" stroke-width="0.7"/>
<polygon points="1244.6,88.1 1272.6,100.1 1273.4,100.0 1245.4,88.1" fill="#a42567" stroke="#a42567" stroke-width="0.7"/>
<polygon points="1243.8,89.1 1271.8,101.2 1272.6,100.1 1244.6,88.1" fill="#ba2e77" stroke="#ba2e77" stroke-width="0.7"/>
<polygon points="1243.0,91.0 1271.0,103.1 1271.8,101.2 1243.8,89.1" fill="#c43681" stroke="#c43681" stroke-width="0.7"/>
<polygon points="1242.2,93.3 1270.2,105.5 1271.0,103.1 1243.0,91.0" fill="#cb3b87" stroke="#cb3b87" stroke-width="0.7"/>
<polygon points="1241.4,95.7 1269.3,108.0 1270.2,105.5 1242.2,93.3" fill="#cb3b87" stroke="#cb3b87" stroke-width="0.7"/>
<polygon points="1240.5,97.6 1268.5,109.9 1269.3,108.0 1241.4,95.7" fill="#c43681" stroke="#c43681" stroke-width="0.7"/>
<polygon points="1239.7,98.6 1267.7,111.0 1268.5,109.9 1240.5,97.6" fill="#ba2e77" stroke="#ba2e77" stroke-width="0.7"/>
<polygon points="1238.9,98.6 1266.9,111.1 1267.7,111.0 1239.7,98.6" fill="#a42567" stroke="#a42567" stroke-width="0.7"/>
<polygon points="1238.1,97.7 1266.1,110.2 1266.9,111.1 1238.9,98.6" fill="#8a1d54" stroke="#8a1d54" stroke-width="0.7"/>
<polygon points="1237.3,96.4 1265.3,108.9 1266.1,110.2 1238.1,97.7" fill="#7b1849" stroke="#7b1849" stroke-width="0.7"/>
<polygon points="1236.5,95.0 1264.5,107.6 1265.3,108.9 1237.3,96.4" fill="#7b1849" stroke="#7b1849" stroke-width="0.7"/>
<polygon points="1235.6,94.1 1263.7,106.8 1264.5,107.6 1236.5,95.0" fill="#8a1d54" stroke="#8a1d54" stroke-width="0.7"/>
<polygon points="1234.8,94.1 1262.8,106.9 1263.7,106.8 1235.6,94.1" fill="#a42567" stroke="#a42567" stroke-width="0.7"/>
<polygon points="1234.0,95.1 1262.0,107.9 1262.8,106.9 1234.8,94.1" fill="#ba2e77" stroke="#ba2e77" stroke-width="0.7"/>
<polygon points="1233.2,97.0 1261.2,109.9 1262.0,107.9 1234.0,95.1" fill="#c43681" stroke="#c43681" stroke-width="0.7"/>
<polygon points="1232.4,99.4 1260.4,112.3 1261.2,109.9 1233.2,97.0" fill="#cb3b87" stroke="#cb3b87" stroke-width="0.7"/>
<polygon points="1231.6,101.8 1259.6,114.8 1260.4,112.3 1232.4,99.4" fill="#cb3b87" stroke="#cb3b87" stroke-width="0.7"/>
<polygon points="1230.7,103.6 1258.8,116.7 1259.6,114.8 1231.6,101.8" fill="#c43681" stroke="#c43681" stroke-width="0.7"/>
<polygon points="1229.9,104.6 1258.0,117.8 1258.8,116.7 1230.7,103.6" fill="#ba2e77" stroke="#ba2e77" stroke-width="0.7"/>
<polygon points="1229.1,104.7 1257.1,117.8 1258.0,117.8 1229.9,104.6" fill="#a42567" stroke="#a42567" stroke-width="0.7"/>
<polygon points="1228.3,103.8 1256.3,117.0 1257.1,117.8 1229.1,104.7" fill="#8a1d54" stroke="#8a1d54" stroke-width="0.7"/>
<polygon points="1227.5,102.4 1255.5,115.7 1256.3,117.0 1228.3,103.8" fill="#7b1849" stroke="#7b1849" stroke-width="0.7"/>
<polygon points="1226.7,101.0 1254.7,114.4 1255.5,115.7 1227.5,102.4" fill="#7b1849" stroke="#7b1849" stroke-width="0.7"/>
<polygon points="1225.8,100.2 1253.9,113.6 1254.7,114.4 1226.7,101.0" fill="#8a1d54" stroke="#8a1d54" stroke-width="0.7"/>
<polygon points="1225.0,100.2 1253.1,113.7 1253.9,113.6 1225.8,100.2" fill="#a42567" stroke="#a42567" stroke-width="0.7"/>
<polygon points="1224.2,101.2 1252.3,114.7 1253.1,113.7 1225.0,100.2" fill="#ba2e77" stroke="#ba2e77" stroke-width="0.7"/>
<polygon points="1223.4,103.1 1251.5,116.7 1252.3,114.7 1224.2,101.2" fill="#c43681" stroke="#c43681" stroke-width="0.7"/>
<polygon points="1222.6,105.4 1250.6,119.1 1251.5,116.7 1223.4,103.1" fill="#cb3b87" stroke="#cb3b87" stroke-width="0.7"/>
<polygon points="1221.8,107.8 1249.8,121.5 1250.6,119.1 1222.6,105.4" fill="#cb3b87" stroke="#cb3b87" stroke-width="0.7"/>
<polygon points="1220.9,109.7 1249.0,123.5 1249.8,121.5 1221.8,107.8" fill="#c43681" stroke="#c43681" stroke-width="0.7"/>
<polygon points="1220.1,110.7 1248.2,124.6 1249.0,123.5 1220.9,109.7" fill="#ba2e77" stroke="#ba2e77" stroke-width="0.7"/>
<polygon points="1219.3,110.7 1247.4,124.6 1248.2,124.6 1220.1,110.7" fill="#a42567" stroke="#a42567" stroke-width="0.7"/>
<polygon points="1218.5,109.8 1246.6,123.8 1247.4,124.6 1219.3,110.7" fill="#8a1d54" stroke="#8a1d54" stroke-width="0.7"/>
<polygon points="1217.7,108.5 1245.8,122.5 1246.6,123.8 1218.5,109.8" fill="#7b1849" stroke="#7b1849" stroke-width="0.7"/>
<polygon points="1216.9,107.1 1244.9,121.2 1245.8,122.5 1217.7,108.5" fill="#7b1849" stroke="#7b1849" stroke-width="0.7"/>
<polygon points="1216.1,106.2 1244.1,120.4 1244.9,121.2 1216.9,107.1" fill="#8a1d54" stroke="#8a1d54" stroke-width="0.7"/>
<polygon points="1215.2,106.2 1243.3,120.4 1244.1,120.4 1216.1,106.2" fill="#a42567" stroke="#a42567" stroke-width="0.7"/>
<polygon points="1214.4,107.2 1242.5,121.5 1243.3,120.4 1215.2,106.2" fill="#ba2e77" stroke="#ba2e77" stroke-width="0.7"/>
<polygon points="1213.6,109.1 1241.7,123.4 1242.5,121.5 1214.4,107.2" fill="#c43681" stroke="#c43681" stroke-width="0.7"/>
<polygon points="1212.8,111.5 1240.9,125.9 1241.7,123.4 1213.6,109.1" fill="#cb3b87" stroke="#cb3b87" stroke-width="0.7"/>
<polygon points="1212.0,113.9 1240.1,128.3 1240.9,125.9 1212.8,111.5" fill="#cb3b87" stroke="#cb3b87" stroke-width="0.7"/>
<polygon points="1211.2,115.7 1239.3,130.3 1240.1,128.3 1212.0,113.9" fill="#c43681" stroke="#c43681" stroke-width="0.7"/>
<polygon points="1210.3,116.7 1238.4,131.3 1239.3,130.3 1211.2,115.7" fill="#ba2e77" stroke="#ba2e77" stroke-width="0.7"/>
<polygon points="1209.5,116.7 1237.6,131.4 1238.4,131.3 1210.3,116.7" fill="#a42567" stroke="#a42567" stroke-width="0.7"/>
<polygon points="1208.7,115.9 1236.8,130.6 1237.6,131.4 1209.5,116.7" fill="#8a1d54" stroke="#8a1d54" stroke-width="0.7"/>
<polygon points="1207.9,114.5 1236.0,129.3 1236.8,130.6 1208.7,115.9" fill="#7b1849" stroke="#7b1849" stroke-width="0.7"/>
<polygon points="1207.1,113.1 1235.2,128.0 1236.0,129.3 1207.9,114.5" fill="#7b1849" stroke="#7b1849" stroke-width="0.7"/>
<polygon points="1206.3,112.3 1234.4,127.2 1235.2,128.0 1207.1,113.1" fill="#8a1d54" stroke="#8a1d54" stroke-width="0.7"/>
<polygon points="1205.4,112.3 1233.6,127.2 1234.4,127.2 1206.3,112.3" fill="#a42567" stroke="#a42567" stroke-width="0.7"/>
<polygon points="1204.6,113.3 1232.7,128.3 1233.6,127.2 1205.4,112.3" fill="#ba2e77" stroke="#ba2e77" stroke-width="0.7"/>
<polygon points="1203.8,115.2 1231.9,130.2 1232.7,128.3 1204.6,113.3" fill="#c43681" stroke="#c43681" stroke-width="0.7"/>
<polygon points="1203.0,117.5 1231.1,132.7 1231.9,130.2 1203.8,115.2" fill="#cb3b87" stroke="#cb3b87" stroke-width="0.7"/>
<polygon points="1202.2,119.9 1230.3,135.1 1231.1,132.7 1203.0,117.5" fill="#cb3b87" stroke="#cb3b87" stroke-width="0.7"/>
<polygon points="1201.4,121.8 1229.5,137.0 1230.3,135.1 1202.2,119.9" fill="#c43681" stroke="#c43681" stroke-width="0.7"/>
<polygon points="1200.5,122.8 1228.7,138.1 1229.5,137.0 1201.4,121.8" fill="#ba2e77" stroke="#ba2e77" stroke-width="0.7"/>
<polygon points="1199.7,122.8 1227.9,138.2 1228.7,138.1 1200.5,122.8" fill="#a42567" stroke="#a42567" stroke-width="0.7"/>
<polygon points="1198.9,121.9 1227.1,137.4 1227.9,138.2 1199.7,122.8" fill="#8a1d54" stroke="#8a1d54" stroke-width="0.7"/>
<polygon points="1198.1,120.6 1226.2,136.1 1227.1,137.4 1198.9,121.9" fill="#7b1849" stroke="#7b1849" stroke-width="0.7"/>
<polygon points="1197.3,119.2 1225.4,134.7 1226.2,136.1 1198.1,120.6" fill="#7b1849" stroke="#7b1849" stroke-width="0.7"/>
<polygon points="1196.5,118.3 1224.6,133.9 1225.4,134.7 1197.3,119.2" fill="#8a1d54" stroke="#8a1d54" stroke-width="0.7"/>
<polygon points="1195.6,118.3 1223.8,134.0 1224.6,133.9 1196.5,118.3" fill="#a42567" stroke="#a42567" stroke-width="0.7"/>
<polygon points="1223.8,134.0 1224.1,133.9 1224.5,133.9 1224.8,134.0 1225.1,134.3 1225.4,134.7 1225.8,135.2 1226.1,135.8 1226.4,136.3 1226.7,136.9 1227.1,137.4 1227.4,137.8 1227.7,138.1 1228.0,138.2 1228.4,138.3 1228.7,138.1 1229.0,137.8 1229.3,137.3 1229.7,136.7 1230.0,136.0 1230.3,135.1 1230.6,134.2 1231.0,133.2 1231.3,132.2 1231.6,131.2 1231.9,130.2 1232.3,129.4 1232.6,128.6 1232.9,128.0 1233.2,127.5 1233.6,127.2 1233.9,127.1 1234.2,127.1 1234.5,127.3 1234.9,127.6 1235.2,128.0 1235.5,128.5 1235.8,129.0 1236.2,129.6 1236.5,130.1 1236.8,130.6 1237.1,131.0 1237.5,131.3 1237.8,131.5 1238.1,131.5 1238.4,131.3 1238.8,131.0 1239.1,130.6 1239.4,129.9 1239.7,129.2 1240.1,128.3 1240.4,127.4 1240.7,126.4 1241.0,125.4 1241.4,124.4 1241.7,123.4 1242.0,122.6 1242.3,121.8 1242.7,121.2 1243.0,120.7 1243.3,120.4 1243.6,120.3 1244.0,120.3 1244.3,120.5 1244.6,120.8 1244.9,121.2 1245.3,121.7 1245.6,122.2 1245.9,122.8 1246.2,123.3 1246.6,123.8 1246.9,124.2 1247.2,124.5 1247.5,124.7 1247.9,124.7 1248.2,124.6 1248.5,124.2 1248.9,123.8 1249.2,123.2 1249.5,122.4 1249.8,121.5 1250.2,120.6 1250.5,119.6 1250.8,118.6 1251.1,117.6 1251.5,116.7 1251.8,115.8 1252.1,115.1 1252.4,114.4 1252.8,114.0 1253.1,113.7 1253.4,113.5 1253.7,113.5 1254.1,113.7 1254.4,114.0 1254.7,114.4 1255.0,114.9 1255.4,115.4 1255.7,116.0 1256.0,116.5 1256.3,117.0 1256.7,117.4 1257.0,117.7 1257.3,117.9 1257.6,117.9 1258.0,117.8 1258.3,117.5 1258.6,117.0 1258.9,116.4 1259.3,115.6 1259.6,114.8 1259.9,113.8 1260.2,112.8 1260.6,111.8 1260.9,110.8 1261.2,109.9 1261.5,109.0 1261.9,108.3 1262.2,107.7 1262.5,107.2 1262.8,106.9 1263.2,106.7 1263.5,106.8 1263.8,106.9 1264.1,107.2 1264.5,107.6 1264.8,108.1 1265.1,108.7 1265.4,109.2 1265.8,109.8 1266.1,110.2 1266.4,110.7 1266.7,111.0 1267.1,111.1 1267.4,111.1 1267.7,111.0 1268.0,110.7 1268.4,110.2 1268.7,109.6 1269.0,108.8 1269.3,108.0 1269.7,107.0 1270.0,106.0 1270.3,105.0 1270.6,104.0 1271.0,103.1 1271.3,102.2 1271.6,101.5 1271.9,100.9 1272.3,100.4 1272.6,100.1 1272.9,100.0 1273.3,100.0 1273.6,100.1 1273.9,100.4 1274.2,100.8 1274.6,101.3 1274.9,101.9 1275.2,102.4 1275.5,103.0 1275.9,103.5 1276.2,103.9 1276.5,104.2 1276.8,104.3 1277.2,104.4 1277.5,104.2 1277.8,103.9 1278.1,103.4 1278.5,102.8 1278.8,102.1 1279.1,101.2 1279.4,100.3 1279.8,99.3 1280.1,98.3 1280.4,97.3 1280.7,96.3 1281.1,95.5 1281.4,94.7 1281.7,94.1 1282.0,93.6 1282.4,93.3 1282.7,93.2 1283.0,93.2 1283.3,93.4 1283.7,93.7 1284.0,94.1 1284.3,94.6 1284.6,95.1 1285.0,95.7 1285.3,96.2 1285.6,96.7 1285.9,97.1 1286.3,97.4 1286.6,97.6 1286.9,97.6 1287.2,97.4 1287.6,97.1 1287.9,96.7 1288.2,96.0 1288.5,95.3 1288.9,94.4 1289.2,93.5 1289.5,92.5 1289.8,91.5 1290.2,90.5 1290.5,89.5 1290.8,88.7 1291.1,87.9 1291.5,87.3 1291.8,86.8 1292.1,86.5 1292.4,86.4 1292.8,86.4 1293.1,86.6 1293.4,86.9 1293.7,87.3 1294.1,87.8 1294.4,88.3 1294.7,88.9 1295.0,89.4 1295.4,89.9 1295.7,90.3 1296.0,90.6 1296.3,90.8 1296.7,90.8 1297.0,90.7 1297.3,90.3 1297.7,89.9 1298.0,89.3 1298.3,88.5 1298.6,87.6 1299.0,86.7 1299.3,85.7 1299.6,84.7 1299.9,83.7 1300.3,82.8 1300.6,81.9 1300.9,81.2 1301.2,80.5 1301.6,80.1 1301.9,79.8 1302.2,79.6 1302.5,79.6 1302.9,79.8 1303.2,80.1 1303.5,80.5 1303.8,81.0 1304.2,81.5 1304.5,82.1 1304.8,82.6 1305.1,83.1 1305.5,83.5 1305.8,83.8 1306.1,84.0 1306.4,84.0 1306.8,83.9 1307.1,83.6 1307.4,83.1 1307.7,82.5 1308.1,81.7 1308.4,80.9 1308.7,79.9 1309.0,78.9 1309.4,77.9 1309.7,76.9 1310.0,76.0 1310.3,75.1 1310.7,74.4 1311.0,73.8 1311.3,73.3 1311.6,73.0 1312.0,72.8 1312.3,72.9 1312.6,73.0 1312.9,73.3 1313.3,73.7 1313.6,74.2 1313.9,74.8 1314.2,75.3 1314.6,75.9 1314.9,76.3 1315.2,76.8 1315.5,77.1 1315.9,77.2 1316.2,77.2 1316.5,77.1 1316.8,76.8 1317.2,76.3 1317.5,75.7 1317.8,74.9 1318.1,74.1 1318.5,73.1 1318.8,72.1 1319.1,71.1 1319.4,70.1 1319.8,69.2 1320.1,68.3 1320.4,67.6 1320.7,67.0 1321.1,66.5 1321.4,66.2 1321.4,72.7 1321.1,73.0 1320.7,73.5 1320.4,74.1 1320.1,74.8 1319.8,75.7 1319.4,76.6 1319.1,77.6 1318.8,78.6 1318.5,79.6 1318.1,80.6 1317.8,81.4 1317.5,82.2 1317.2,82.8 1316.8,83.3 1316.5,83.6 1316.2,83.7 1315.9,83.7 1315.5,83.6 1315.2,83.3 1314.9,82.8 1314.6,82.4 1314.2,81.8 1313.9,81.3 1313.6,80.7 1313.3,80.2 1312.9,79.8 1312.6,79.5 1312.3,79.4 1312.0,79.3 1311.6,79.5 1311.3,79.8 1311.0,80.3 1310.7,80.9 1310.3,81.6 1310.0,82.5 1309.7,83.4 1309.4,84.4 1309.0,85.4 1308.7,86.4 1308.4,87.4 1308.1,88.2 1307.7,89.0 1307.4,89.6 1307.1,90.1 1306.8,90.4 1306.4,90.5 1306.1,90.5 1305.8,90.3 1305.5,90.0 1305.1,89.6 1304.8,89.1 1304.5,88.6 1304.2,88.0 1303.8,87.5 1303.5,87.0 1303.2,86.6 1302.9,86.3 1302.5,86.1 1302.2,86.1 1301.9,86.3 1301.6,86.6 1301.2,87.0 1300.9,87.7 1300.6,88.4 1300.3,89.3 1299.9,90.2 1299.6,91.2 1299.3,92.2 1299.0,93.2 1298.6,94.1 1298.3,95.0 1298.0,95.8 1297.7,96.4 1297.3,96.8 1297.0,97.2 1296.7,97.3 1296.3,97.3 1296.0,97.1 1295.7,96.8 1295.4,96.4 1295.0,95.9 1294.7,95.4 1294.4,94.8 1294.1,94.3 1293.7,93.8 1293.4,93.4 1293.1,93.1 1292.8,92.9 1292.4,92.9 1292.1,93.0 1291.8,93.3 1291.5,93.8 1291.1,94.4 1290.8,95.2 1290.5,96.0 1290.2,97.0 1289.8,98.0 1289.5,99.0 1289.2,100.0 1288.9,100.9 1288.5,101.8 1288.2,102.5 1287.9,103.2 1287.6,103.6 1287.2,103.9 1286.9,104.1 1286.6,104.1 1286.3,103.9 1285.9,103.6 1285.6,103.2 1285.3,102.7 1285.0,102.2 1284.6,101.6 1284.3,101.1 1284.0,100.6 1283.7,100.2 1283.3,99.9 1283.0,99.7 1282.7,99.7 1282.4,99.8 1282.0,100.1 1281.7,100.6 1281.4,101.2 1281.1,102.0 1280.7,102.8 1280.4,103.8 1280.1,104.8 1279.8,105.8 1279.4,106.8 1279.1,107.7 1278.8,108.6 1278.5,109.3 1278.1,109.9 1277.8,110.4 1277.5,110.7 1277.2,110.9 1276.8,110.8 1276.5,110.7 1276.2,110.4 1275.9,110.0 1275.5,109.5 1275.2,108.9 1274.9,108.4 1274.6,107.8 1274.2,107.3 1273.9,106.9 1273.6,106.6 1273.3,106.5 1272.9,106.5 1272.6,106.6 1272.3,106.9 1271.9,107.4 1271.6,108.0 1271.3,108.7 1271.0,109.6 1270.6,110.5 1270.3,111.5 1270.0,112.5 1269.7,113.5 1269.3,114.5 1269.0,115.3 1268.7,116.1 1268.4,116.7 1268.0,117.2 1267.7,117.5 1267.4,117.6 1267.1,117.6 1266.7,117.5 1266.4,117.2 1266.1,116.7 1265.8,116.3 1265.4,115.7 1265.1,115.2 1264.8,114.6 1264.5,114.1 1264.1,113.7 1263.8,113.4 1263.5,113.3 1263.2,113.2 1262.8,113.4 1262.5,113.7 1262.2,114.2 1261.9,114.8 1261.5,115.5 1261.2,116.4 1260.9,117.3 1260.6,118.3 1260.2,119.3 1259.9,120.3 1259.6,121.3 1259.3,122.1 1258.9,122.9 1258.6,123.5 1258.3,124.0 1258.0,124.3 1257.6,124.4 1257.3,124.4 1257.0,124.2 1256.7,123.9 1256.3,123.5 1256.0,123.0 1255.7,122.5 1255.4,121.9 1255.0,121.4 1254.7,120.9 1254.4,120.5 1254.1,120.2 1253.7,120.0 1253.4,120.0 1253.1,120.2 1252.8,120.5 1252.4,120.9 1252.1,121.6 1251.8,122.3 1251.5,123.2 1251.1,124.1 1250.8,125.1 1250.5,126.1 1250.2,127.1 1249.8,128.0 1249.5,128.9 1249.2,129.7 1248.9,130.3 1248.5,130.7 1248.2,131.1 1247.9,131.2 1247.5,131.2 1247.2,131.0 1246.9,130.7 1246.6,130.3 1246.2,129.8 1245.9,129.3 1245.6,128.7 1245.3,128.2 1244.9,127.7 1244.6,127.3 1244.3,127.0 1244.0,126.8 1243.6,126.8 1243.3,126.9 1243.0,127.2 1242.7,127.7 1242.3,128.3 1242.0,129.1 1241.7,129.9 1241.4,130.9 1241.0,131.9 1240.7,132.9 1240.4,133.9 1240.1,134.8 1239.7,135.7 1239.4,136.4 1239.1,137.1 1238.8,137.5 1238.4,137.8 1238.1,138.0 1237.8,138.0 1237.5,137.8 1237.1,137.5 1236.8,137.1 1236.5,136.6 1236.2,136.1 1235.8,135.5 1235.5,135.0 1235.2,134.5 1234.9,134.1 1234.5,133.8 1234.2,133.6 1233.9,133.6 1233.6,133.7 1233.2,134.0 1232.9,134.5 1232.6,135.1 1232.3,135.9 1231.9,136.7 1231.6,137.7 1231.3,138.7 1231.0,139.7 1230.6,140.7 1230.3,141.6 1230.0,142.5 1229.7,143.2 1229.3,143.8 1229.0,144.3 1228.7,144.6 1228.4,144.8 1228.0,144.7 1227.7,144.6 1227.4,144.3 1227.1,143.9 1226.7,143.4 1226.4,142.8 1226.1,142.3 1225.8,141.7 1225.4,141.2 1225.1,140.8 1224.8,140.5 1224.5,140.4 1224.1,140.4 1223.8,140.5" fill="#8c1c54"/>
<polygon points="1115.5,73.7 1133.4,83.6 1133.4,90.1 1115.5,80.2" fill="#8a1a52"/>
<polygon points="1152.3,94.2 1175.1,106.9 1175.1,113.4 1152.3,100.7" fill="#8a1a52"/>
<polygon points="1195.6,118.3 1223.8,134.0 1223.8,140.5 1195.6,124.8" fill="#8a1a52"/>
<polygon points="1133.4,88.1 1133.7,88.2 1134.0,87.9 1134.3,87.4 1134.6,87.0 1134.9,86.7 1135.3,86.7 1135.6,87.0 1135.9,87.7 1136.2,88.5 1136.5,89.3 1136.8,89.9 1137.2,90.3 1137.5,90.3 1137.8,90.0 1138.1,89.5 1138.4,89.1 1138.7,88.8 1139.1,88.8 1139.4,89.2 1139.7,89.8 1140.0,90.6 1140.3,91.4 1140.6,92.0 1141.0,92.4 1141.3,92.4 1141.6,92.1 1141.9,91.6 1142.2,91.2 1142.5,90.9 1142.8,90.9 1143.2,91.3 1143.5,91.9 1143.8,92.7 1144.1,93.5 1144.4,94.1 1144.7,94.5 1145.1,94.5 1145.4,94.2 1145.7,93.8 1146.0,93.3 1146.3,93.0 1146.6,93.0 1147.0,93.4 1147.3,94.0 1147.6,94.8 1147.9,95.6 1148.2,96.2 1148.5,96.6 1148.8,96.6 1149.2,96.3 1149.5,95.9 1149.8,95.4 1150.1,95.1 1150.4,95.1 1150.7,95.5 1151.1,96.1 1151.4,96.9 1151.7,97.7 1152.0,98.4 1152.3,98.7 1152.3,110.7 1152.0,110.3 1151.7,109.5 1151.4,108.4 1151.1,107.4 1150.7,106.6 1150.4,106.1 1150.1,106.2 1149.8,106.7 1149.5,107.4 1149.2,108.1 1148.8,108.5 1148.5,108.6 1148.2,108.2 1147.9,107.4 1147.6,106.3 1147.3,105.3 1147.0,104.4 1146.6,104.0 1146.3,104.1 1146.0,104.6 1145.7,105.3 1145.4,106.0 1145.1,106.4 1144.7,106.5 1144.4,106.1 1144.1,105.3 1143.8,104.2 1143.5,103.2 1143.2,102.3 1142.8,101.9 1142.5,102.0 1142.2,102.4 1141.9,103.1 1141.6,103.8 1141.3,104.3 1141.0,104.4 1140.6,104.0 1140.3,103.1 1140.0,102.1 1139.7,101.0 1139.4,100.2 1139.1,99.8 1138.7,99.9 1138.4,100.3 1138.1,101.0 1137.8,101.7 1137.5,102.2 1137.2,102.3 1136.8,101.8 1136.5,101.0 1136.2,100.0 1135.9,98.9 1135.6,98.1 1135.3,97.7 1134.9,97.8 1134.6,98.2 1134.3,98.9 1134.0,99.6 1133.7,100.1 1133.4,100.1" fill="#262c90"/>
<polygon points="1175.1,111.4 1175.4,111.4 1175.8,111.1 1176.1,110.7 1176.4,110.3 1176.8,110.0 1177.1,110.0 1177.5,110.4 1177.8,111.0 1178.2,111.8 1178.5,112.6 1178.8,113.3 1179.2,113.7 1179.5,113.7 1179.9,113.4 1180.2,113.0 1180.6,112.5 1180.9,112.3 1181.2,112.3 1181.6,112.7 1181.9,113.3 1182.3,114.1 1182.6,114.9 1183.0,115.6 1183.3,115.9 1183.6,116.0 1184.0,115.7 1184.3,115.3 1184.7,114.8 1185.0,114.6 1185.4,114.6 1185.7,115.0 1186.0,115.6 1186.4,116.4 1186.7,117.2 1187.1,117.9 1187.4,118.2 1187.8,118.3 1188.1,118.0 1188.4,117.6 1188.8,117.1 1189.1,116.9 1189.5,116.9 1189.8,117.2 1190.2,117.9 1190.5,118.7 1190.8,119.5 1191.2,120.2 1191.5,120.5 1191.9,120.6 1192.2,120.3 1192.6,119.9 1192.9,119.4 1193.2,119.2 1193.6,119.2 1193.9,119.5 1194.3,120.2 1194.6,121.0 1195.0,121.8 1195.3,122.5 1195.6,122.8 1195.6,134.8 1195.3,134.4 1195.0,133.6 1194.6,132.5 1194.3,131.4 1193.9,130.6 1193.6,130.2 1193.2,130.2 1192.9,130.7 1192.6,131.4 1192.2,132.0 1191.9,132.5 1191.5,132.5 1191.2,132.1 1190.8,131.3 1190.5,130.2 1190.2,129.1 1189.8,128.3 1189.5,127.9 1189.1,127.9 1188.8,128.4 1188.4,129.1 1188.1,129.7 1187.8,130.2 1187.4,130.2 1187.1,129.8 1186.7,129.0 1186.4,127.9 1186.0,126.9 1185.7,126.0 1185.4,125.6 1185.0,125.6 1184.7,126.1 1184.3,126.8 1184.0,127.5 1183.6,127.9 1183.3,127.9 1183.0,127.5 1182.6,126.7 1182.3,125.6 1181.9,124.6 1181.6,123.7 1181.2,123.3 1180.9,123.3 1180.6,123.8 1180.2,124.5 1179.9,125.2 1179.5,125.6 1179.2,125.7 1178.8,125.2 1178.5,124.4 1178.2,123.3 1177.8,122.3 1177.5,121.4 1177.1,121.0 1176.8,121.1 1176.4,121.5 1176.1,122.2 1175.8,122.9 1175.4,123.3 1175.1,123.4" fill="#262c90"/>
<text x="32.6" y="219.5" font-size="27.6" font-weight="bold" fill="#000" text-anchor="start" textLength="35.5" lengthAdjust="spacingAndGlyphs" >(b)</text>
<rect x="125.8" y="232" width="110" height="124" fill="#95b3d7"/>
<rect x="235.8" y="232" width="51.4" height="123.5" fill="#95b3d7"/>
<rect x="72.1" y="205" width="53.7" height="151" fill="#558ed5"/>
<rect x="180" y="205" width="56" height="152.5" fill="#558ed5"/>
<rect x="287.2" y="205.3" width="53.5" height="150" fill="#558ed5"/>
<ellipse cx="105.2" cy="232.6" rx="7.2" ry="6.5" fill="#ff0000"/>
<ellipse cx="105.2" cy="269.7" rx="7.2" ry="6.5" fill="#ff0000"/>
<ellipse cx="106" cy="309.9" rx="7.2" ry="6.5" fill="#ff0000"/>
<ellipse cx="216.9" cy="229" rx="7.2" ry="6.5" fill="#ff0000"/>
<ellipse cx="217.7" cy="276.6" rx="7.2" ry="6.5" fill="#ff0000"/>
<ellipse cx="216.3" cy="312.4" rx="7.2" ry="6.5" fill="#ff0000"/>
<ellipse cx="322.6" cy="226.2" rx="7.2" ry="6.5" fill="#ff0000"/>
<ellipse cx="327.6" cy="262.8" rx="7.2" ry="6.5" fill="#ff0000"/>
<ellipse cx="328.2" cy="300.1" rx="7.2" ry="6.5" fill="#ff0000"/>
<path d="M111.8 237.6 A7.03 7.4 0 0 1 111.8 252.4 Z" fill="#953735"/>
<path d="M123.9 253.49999999999997 A7.03 7.4 0 0 1 123.9 268.29999999999995 Z" fill="#953735"/>
<path d="M105 279.90000000000003 A7.03 7.4 0 0 1 105 294.7 Z" fill="#953735"/>
<path d="M135.2 273.1 A7.03 7.4 0 0 1 135.2 287.9 Z" fill="#953735"/>
<path d="M121.2 297.6 A7.03 7.4 0 0 1 121.2 312.4 Z" fill="#953735"/>
<path d="M173.8 245.9 A7.03 7.4 0 0 0 173.8 260.7 Z" fill="#953735"/>
<path d="M163.5 278.20000000000005 A7.03 7.4 0 0 0 163.5 293.0 Z" fill="#953735"/>
<path d="M182 270.3 A7.03 7.4 0 0 0 182 285.09999999999997 Z" fill="#953735"/>
<path d="M196.6 241.29999999999998 A7.03 7.4 0 0 0 196.6 256.09999999999997 Z" fill="#953735"/>
<path d="M219 243.5 A7.03 7.4 0 0 1 219 258.3 Z" fill="#953735"/>
<path d="M200.6 266.3 A7.03 7.4 0 0 0 200.6 281.09999999999997 Z" fill="#953735"/>
<path d="M192 296.0 A7.03 7.4 0 0 0 192 310.79999999999995 Z" fill="#953735"/>
<path d="M230.4 263.6 A7.03 7.4 0 0 1 230.4 278.4 Z" fill="#953735"/>
<path d="M250.2 264.90000000000003 A7.03 7.4 0 0 1 250.2 279.7 Z" fill="#953735"/>
<path d="M237.6 291.8 A7.03 7.4 0 0 1 237.6 306.59999999999997 Z" fill="#953735"/>
<path d="M275.9 251.99999999999997 A7.03 7.4 0 0 0 275.9 266.79999999999995 Z" fill="#953735"/>
<path d="M297.8 251.70000000000002 A7.03 7.4 0 0 0 297.8 266.5 Z" fill="#953735"/>
<path d="M308.9 228.9 A7.03 7.4 0 0 0 308.9 243.70000000000002 Z" fill="#953735"/>
<path d="M282.5 276.90000000000003 A7.03 7.4 0 0 0 282.5 291.7 Z" fill="#953735"/>
<path d="M310.3 274.6 A7.03 7.4 0 0 0 310.3 289.4 Z" fill="#953735"/>
<path d="M139.5 332.2 L111.6 332.2" stroke="#000" stroke-width="1.1" stroke-dasharray="2.2,1.1" fill="none"/>
<path d="M120.19999999999999 327.0 L111.6 332.2 L120.19999999999999 337.4" stroke="#000" stroke-width="1.1" fill="none"/>
<path d="M168.2 332.1 L196.4 332.1" stroke="#000" stroke-width="1.1" stroke-dasharray="2.2,1.1" fill="none"/>
<path d="M187.8 326.90000000000003 L196.4 332.1 L187.8 337.3" stroke="#000" stroke-width="1.1" fill="none"/>
<path d="M252.4 332 L225.3 332" stroke="#000" stroke-width="1.1" stroke-dasharray="2.2,1.1" fill="none"/>
<path d="M233.9 326.8 L225.3 332 L233.9 337.2" stroke="#000" stroke-width="1.1" fill="none"/>
<path d="M278 331.6 L306.7 331.6" stroke="#000" stroke-width="1.1" stroke-dasharray="2.2,1.1" fill="none"/>
<path d="M298.09999999999997 326.40000000000003 L306.7 331.6 L298.09999999999997 336.8" stroke="#000" stroke-width="1.1" fill="none"/>
<text x="92.9" y="349.8" font-size="14" font-weight="bold" fill="#000" text-anchor="start" textLength="102.9" lengthAdjust="spacingAndGlyphs" >Mass transport</text>
<polygon points="311.2,146 323,152.5 303.9,186.9 310.4,190 291.2,195.6 285.7,177.2 292.1,180.35" fill="#984807"/>
<text x="345.6" y="219.5" font-size="27.6" font-weight="bold" fill="#000" text-anchor="start" textLength="33.9" lengthAdjust="spacingAndGlyphs" >(c)</text>
<rect x="384" y="196.2" width="284.7" height="168.6" fill="#000"/>
<defs><clipPath id="cclip"><polygon points="438.7,223.9 636.2,223.9 640.8,326.3 402.3,326.3"/></clipPath></defs><g clip-path="url(#cclip)">
<polygon points="418.9,223.9 420.6,223.9 385.3,326.3 383.2,326.3" fill="#a4d464" stroke="#a4d464" stroke-width="0.6"/>
<polygon points="420.6,223.9 422.3,223.9 387.3,326.3 385.3,326.3" fill="#a4d464" stroke="#a4d464" stroke-width="0.6"/>
<polygon points="422.3,223.9 424.0,223.9 389.4,326.3 387.3,326.3" fill="#a4d464" stroke="#a4d464" stroke-width="0.6"/>
<polygon points="424.0,223.9 425.7,223.9 391.4,326.3 389.4,326.3" fill="#a4d464" stroke="#a4d464" stroke-width="0.6"/>
<polygon points="425.7,223.9 427.4,223.9 393.4,326.3 391.4,326.3" fill="#80cf94" stroke="#80cf94" stroke-width="0.6"/>
<polygon points="427.4,223.9 429.1,223.9 395.5,326.3 393.4,326.3" fill="#56cace" stroke="#56cace" stroke-width="0.6"/>
<polygon points="429.1,223.9 430.8,223.9 397.5,326.3 395.5,326.3" fill="#56cace" stroke="#56cace" stroke-width="0.6"/>
<polygon points="430.8,223.9 432.5,223.9 399.6,326.3 397.5,326.3" fill="#60a2ce" stroke="#60a2ce" stroke-width="0.6"/>
<polygon points="432.5,223.9 434.2,223.9 401.6,326.3 399.6,326.3" fill="#6a7ece" stroke="#6a7ece" stroke-width="0.6"/>
<polygon points="434.2,223.9 435.9,223.9 403.7,326.3 401.6,326.3" fill="#6a7ece" stroke="#6a7ece" stroke-width="0.6"/>
<polygon points="435.9,223.9 437.6,223.9 405.7,326.3 403.7,326.3" fill="#6a7ece" stroke="#6a7ece" stroke-width="0.6"/>
<polygon points="437.6,223.9 439.3,223.9 407.8,326.3 405.7,326.3" fill="#6a7ece" stroke="#6a7ece" stroke-width="0.6"/>
<polygon points="439.3,223.9 441.0,223.9 409.8,326.3 407.8,326.3" fill="#6a7ece" stroke="#6a7ece" stroke-width="0.6"/>
<polygon points="441.0,223.9 442.6,223.9 411.8,326.3 409.8,326.3" fill="#60a2ce" stroke="#60a2ce" stroke-width="0.6"/>
<polygon points="442.6,223.9 444.3,223.9 413.9,326.3 411.8,326.3" fill="#56cace" stroke="#56cace" stroke-width="0.6"/>
<polygon points="444.3,223.9 446.0,223.9 415.9,326.3 413.9,326.3" fill="#56cace" stroke="#56cace" stroke-width="0.6"/>
<polygon points="446.0,223.9 447.7,223.9 418.0,326.3 415.9,326.3" fill="#80cf94" stroke="#80cf94" stroke-width="0.6"/>
<polygon points="447.7,223.9 449.4,223.9 420.0,326.3 418.0,326.3" fill="#a4d464" stroke="#a4d464" stroke-width="0.6"/>
<polygon points="449.4,223.9 451.1,223.9 422.1,326.3 420.0,326.3" fill="#a4d464" stroke="#a4d464" stroke-width="0.6"/>
<polygon points="451.1,223.9 452.8,223.9 424.1,326.3 422.1,326.3" fill="#a4d464" stroke="#a4d464" stroke-width="0.6"/>
<polygon points="452.8,223.9 454.5,223.9 426.2,326.3 424.1,326.3" fill="#a4d464" stroke="#a4d464" stroke-width="0.6"/>
<polygon points="454.5,223.9 456.2,223.9 428.2,326.3 426.2,326.3" fill="#6dcdad" stroke="#6dcdad" stroke-width="0.6"/>
<polygon points="456.2,223.9 457.9,223.9 430.2,326.3 428.2,326.3" fill="#56cace" stroke="#56cace" stroke-width="0.6"/>
<polygon points="457.9,223.9 459.6,223.9 432.3,326.3 430.2,326.3" fill="#56cace" stroke="#56cace" stroke-width="0.6"/>
<polygon points="459.6,223.9 461.3,223.9 434.3,326.3 432.3,326.3" fill="#6493ce" stroke="#6493ce" stroke-width="0.6"/>
<polygon points="461.3,223.9 463.0,223.9 436.4,326.3 434.3,326.3" fill="#6a7ece" stroke="#6a7ece" stroke-width="0.6"/>
<polygon points="463.0,223.9 464.7,223.9 438.4,326.3 436.4,326.3" fill="#6a7ece" stroke="#6a7ece" stroke-width="0.6"/>
<polygon points="464.7,223.9 466.3,223.9 440.5,326.3 438.4,326.3" fill="#6a7ece" stroke="#6a7ece" stroke-width="0.6"/>
<polygon points="466.3,223.9 468.0,223.9 442.5,326.3 440.5,326.3" fill="#6a7ece" stroke="#6a7ece" stroke-width="0.6"/>
<polygon points="468.0,223.9 469.7,223.9 444.5,326.3 442.5,326.3" fill="#6a7ece" stroke="#6a7ece" stroke-width="0.6"/>
<polygon points="469.7,223.9 471.4,223.9 446.6,326.3 444.5,326.3" fill="#5cb1ce" stroke="#5cb1ce" stroke-width="0.6"/>
<polygon points="471.4,223.9 473.1,223.9 448.6,326.3 446.6,326.3" fill="#56cace" stroke="#56cace" stroke-width="0.6"/>
<polygon points="473.1,223.9 474.8,223.9 450.7,326.3 448.6,326.3" fill="#56cace" stroke="#56cace" stroke-width="0.6"/>
<polygon points="474.8,223.9 476.5,223.9 452.7,326.3 450.7,326.3" fill="#92d17b" stroke="#92d17b" stroke-width="0.6"/>
<polygon points="476.5,223.9 478.2,223.9 454.8,326.3 452.7,326.3" fill="#a4d464" stroke="#a4d464" stroke-width="0.6"/>
<polygon points="478.2,223.9 479.9,223.9 456.8,326.3 454.8,326.3" fill="#a4d464" stroke="#a4d464" stroke-width="0.6"/>
<polygon points="479.9,223.9 481.6,223.9 458.9,326.3 456.8,326.3" fill="#a4d464" stroke="#a4d464" stroke-width="0.6"/>
<polygon points="481.6,223.9 483.3,223.9 460.9,326.3 458.9,326.3" fill="#a4d464" stroke="#a4d464" stroke-width="0.6"/>
<polygon points="483.3,223.9 485.0,223.9 462.9,326.3 460.9,326.3" fill="#5bcac6" stroke="#5bcac6" stroke-width="0.6"/>
<polygon points="485.0,223.9 486.7,223.9 465.0,326.3 462.9,326.3" fill="#56cace" stroke="#56cace" stroke-width="0.6"/>
<polygon points="486.7,223.9 488.4,223.9 467.0,326.3 465.0,326.3" fill="#56cace" stroke="#56cace" stroke-width="0.6"/>
<polygon points="488.4,223.9 490.1,223.9 469.1,326.3 467.0,326.3" fill="#6884ce" stroke="#6884ce" stroke-width="0.6"/>
<polygon points="490.1,223.9 491.7,223.9 471.1,326.3 469.1,326.3" fill="#6a7ece" stroke="#6a7ece" stroke-width="0.6"/>
<polygon points="491.7,223.9 493.4,223.9 473.2,326.3 471.1,326.3" fill="#6a7ece" stroke="#6a7ece" stroke-width="0.6"/>
<polygon points="493.4,223.9 495.1,223.9 475.2,326.3 473.2,326.3" fill="#6a7ece" stroke="#6a7ece" stroke-width="0.6"/>
<polygon points="495.1,223.9 496.8,223.9 477.3,326.3 475.2,326.3" fill="#6a7ece" stroke="#6a7ece" stroke-width="0.6"/>
<polygon points="496.8,223.9 498.5,223.9 479.3,326.3 477.3,326.3" fill="#6a7ece" stroke="#6a7ece" stroke-width="0.6"/>
<polygon points="498.5,223.9 500.2,223.9 481.3,326.3 479.3,326.3" fill="#58c0ce" stroke="#58c0ce" stroke-width="0.6"/>
<polygon points="500.2,223.9 501.9,223.9 483.4,326.3 481.3,326.3" fill="#56cace" stroke="#56cace" stroke-width="0.6"/>
<polygon points="501.9,223.9 503.6,223.9 485.4,326.3 483.4,326.3" fill="#56cace" stroke="#56cace" stroke-width="0.6"/>
<polygon points="503.6,223.9 505.3,223.9 487.5,326.3 485.4,326.3" fill="#a4d464" stroke="#a4d464" stroke-width="0.6"/>
<polygon points="505.3,223.9 507.0,223.9 489.5,326.3 487.5,326.3" fill="#a4d464" stroke="#a4d464" stroke-width="0.6"/>
<polygon points="507.0,223.9 508.7,223.9 491.6,326.3 489.5,326.3" fill="#a4d464" stroke="#a4d464" stroke-width="0.6"/>
<polygon points="508.7,223.9 510.4,223.9 493.6,326.3 491.6,326.3" fill="#a4d464" stroke="#a4d464" stroke-width="0.6"/>
<polygon points="510.4,223.9 512.1,223.9 495.7,326.3 493.6,326.3" fill="#a4d464" stroke="#a4d464" stroke-width="0.6"/>
<polygon points="512.1,223.9 513.8,223.9 497.7,326.3 495.7,326.3" fill="#56cace" stroke="#56cace" stroke-width="0.6"/>
<polygon points="513.8,223.9 515.4,223.9 499.7,326.3 497.7,326.3" fill="#56cace" stroke="#56cace" stroke-width="0.6"/>
<polygon points="515.4,223.9 517.1,223.9 501.8,326.3 499.7,326.3" fill="#58c0ce" stroke="#58c0ce" stroke-width="0.6"/>
<polygon points="517.1,223.9 518.8,223.9 503.8,326.3 501.8,326.3" fill="#6a7ece" stroke="#6a7ece" stroke-width="0.6"/>
<polygon points="518.8,223.9 520.5,223.9 505.9,326.3 503.8,326.3" fill="#6a7ece" stroke="#6a7ece" stroke-width="0.6"/>
<polygon points="520.5,223.9 522.2,223.9 507.9,326.3 505.9,326.3" fill="#6a7ece" stroke="#6a7ece" stroke-width="0.6"/>
<polygon points="522.2,223.9 523.9,223.9 510.0,326.3 507.9,326.3" fill="#6a7ece" stroke="#6a7ece" stroke-width="0.6"/>
<polygon points="523.9,223.9 525.6,223.9 512.0,326.3 510.0,326.3" fill="#6a7ece" stroke="#6a7ece" stroke-width="0.6"/>
<polygon points="525.6,223.9 527.3,223.9 514.1,326.3 512.0,326.3" fill="#6884ce" stroke="#6884ce" stroke-width="0.6"/>
<polygon points="527.3,223.9 529.0,223.9 516.1,326.3 514.1,326.3" fill="#56cace" stroke="#56cace" stroke-width="0.6"/>
<polygon points="529.0,223.9 530.7,223.9 518.1,326.3 516.1,326.3" fill="#56cace" stroke="#56cace" stroke-width="0.6"/>
<polygon points="530.7,223.9 532.4,223.9 520.2,326.3 518.1,326.3" fill="#5bcac6" stroke="#5bcac6" stroke-width="0.6"/>
<polygon points="532.4,223.9 534.1,223.9 522.2,326.3 520.2,326.3" fill="#a4d464" stroke="#a4d464" stroke-width="0.6"/>
<polygon points="534.1,223.9 535.8,223.9 524.3,326.3 522.2,326.3" fill="#a4d464" stroke="#a4d464" stroke-width="0.6"/>
<polygon points="535.8,223.9 537.5,223.9 526.3,326.3 524.3,326.3" fill="#a4d464" stroke="#a4d464" stroke-width="0.6"/>
<polygon points="537.5,223.9 539.1,223.9 528.4,326.3 526.3,326.3" fill="#a4d464" stroke="#a4d464" stroke-width="0.6"/>
<polygon points="539.1,223.9 540.8,223.9 530.4,326.3 528.4,326.3" fill="#92d17b" stroke="#92d17b" stroke-width="0.6"/>
<polygon points="540.8,223.9 542.5,223.9 532.5,326.3 530.4,326.3" fill="#56cace" stroke="#56cace" stroke-width="0.6"/>
<polygon points="542.5,223.9 544.2,223.9 534.5,326.3 532.5,326.3" fill="#56cace" stroke="#56cace" stroke-width="0.6"/>
<polygon points="544.2,223.9 545.9,223.9 536.5,326.3 534.5,326.3" fill="#5cb1ce" stroke="#5cb1ce" stroke-width="0.6"/>
<polygon points="545.9,223.9 547.6,223.9 538.6,326.3 536.5,326.3" fill="#6a7ece" stroke="#6a7ece" stroke-width="0.6"/>
<polygon points="547.6,223.9 549.3,223.9 540.6,326.3 538.6,326.3" fill="#6a7ece" stroke="#6a7ece" stroke-width="0.6"/>
<polygon points="549.3,223.9 551.0,223.9 542.7,326.3 540.6,326.3" fill="#6a7ece" stroke="#6a7ece" stroke-width="0.6"/>
<polygon points="551.0,223.9 552.7,223.9 544.7,326.3 542.7,326.3" fill="#6a7ece" stroke="#6a7ece" stroke-width="0.6"/>
<polygon points="552.7,223.9 554.4,223.9 546.8,326.3 544.7,326.3" fill="#6a7ece" stroke="#6a7ece" stroke-width="0.6"/>
<polygon points="554.4,223.9 556.1,223.9 548.8,326.3 546.8,326.3" fill="#6493ce" stroke="#6493ce" stroke-width="0.6"/>
<polygon points="556.1,223.9 557.8,223.9 550.9,326.3 548.8,326.3" fill="#56cace" stroke="#56cace" stroke-width="0.6"/>
<polygon points="557.8,223.9 559.5,223.9 552.9,326.3 550.9,326.3" fill="#56cace" stroke="#56cace" stroke-width="0.6"/>
<polygon points="559.5,223.9 561.1,223.9 554.9,326.3 552.9,326.3" fill="#6dcdad" stroke="#6dcdad" stroke-width="0.6"/>
<polygon points="561.1,223.9 562.8,223.9 557.0,326.3 554.9,326.3" fill="#a4d464" stroke="#a4d464" stroke-width="0.6"/>
<polygon points="562.8,223.9 564.5,223.9 559.0,326.3 557.0,326.3" fill="#a4d464" stroke="#a4d464" stroke-width="0.6"/>
<polygon points="564.5,223.9 566.2,223.9 561.1,326.3 559.0,326.3" fill="#a4d464" stroke="#a4d464" stroke-width="0.6"/>
<polygon points="566.2,223.9 567.9,223.9 563.1,326.3 561.1,326.3" fill="#a4d464" stroke="#a4d464" stroke-width="0.6"/>
<polygon points="567.9,223.9 569.6,223.9 565.2,326.3 563.1,326.3" fill="#80cf94" stroke="#80cf94" stroke-width="0.6"/>
<polygon points="569.6,223.9 571.3,223.9 567.2,326.3 565.2,326.3" fill="#56cace" stroke="#56cace" stroke-width="0.6"/>
<polygon points="571.3,223.9 573.0,223.9 569.2,326.3 567.2,326.3" fill="#56cace" stroke="#56cace" stroke-width="0.6"/>
<polygon points="573.0,223.9 574.7,223.9 571.3,326.3 569.2,326.3" fill="#60a2ce" stroke="#60a2ce" stroke-width="0.6"/>
<polygon points="574.7,223.9 576.4,223.9 573.3,326.3 571.3,326.3" fill="#6a7ece" stroke="#6a7ece" stroke-width="0.6"/>
<polygon points="576.4,223.9 578.1,223.9 575.4,326.3 573.3,326.3" fill="#6a7ece" stroke="#6a7ece" stroke-width="0.6"/>
<polygon points="578.1,223.9 579.8,223.9 577.4,326.3 575.4,326.3" fill="#6a7ece" stroke="#6a7ece" stroke-width="0.6"/>
<polygon points="579.8,223.9 581.5,223.9 579.5,326.3 577.4,326.3" fill="#6a7ece" stroke="#6a7ece" stroke-width="0.6"/>
<polygon points="581.5,223.9 583.2,223.9 581.5,326.3 579.5,326.3" fill="#6a7ece" stroke="#6a7ece" stroke-width="0.6"/>
<polygon points="583.2,223.9 584.9,223.9 583.6,326.3 581.5,326.3" fill="#60a2ce" stroke="#60a2ce" stroke-width="0.6"/>
<polygon points="584.9,223.9 586.5,223.9 585.6,326.3 583.6,326.3" fill="#56cace" stroke="#56cace" stroke-width="0.6"/>
<polygon points="586.5,223.9 588.2,223.9 587.6,326.3 585.6,326.3" fill="#56cace" stroke="#56cace" stroke-width="0.6"/>
<polygon points="588.2,223.9 589.9,223.9 589.7,326.3 587.6,326.3" fill="#80cf94" stroke="#80cf94" stroke-width="0.6"/>
<polygon points="589.9,223.9 591.6,223.9 591.7,326.3 589.7,326.3" fill="#a4d464" stroke="#a4d464" stroke-width="0.6"/>
<polygon points="591.6,223.9 593.3,223.9 593.8,326.3 591.7,326.3" fill="#a4d464" stroke="#a4d464" stroke-width="0.6"/>
<polygon points="593.3,223.9 595.0,223.9 595.8,326.3 593.8,326.3" fill="#a4d464" stroke="#a4d464" stroke-width="0.6"/>
<polygon points="595.0,223.9 596.7,223.9 597.9,326.3 595.8,326.3" fill="#a4d464" stroke="#a4d464" stroke-width="0.6"/>
<polygon points="596.7,223.9 598.4,223.9 599.9,326.3 597.9,326.3" fill="#6dcdad" stroke="#6dcdad" stroke-width="0.6"/>
<polygon points="598.4,223.9 600.1,223.9 602.0,326.3 599.9,326.3" fill="#56cace" stroke="#56cace" stroke-width="0.6"/>
<polygon points="600.1,223.9 601.8,223.9 604.0,326.3 602.0,326.3" fill="#56cace" stroke="#56cace" stroke-width="0.6"/>
<polygon points="601.8,223.9 603.5,223.9 606.0,326.3 604.0,326.3" fill="#6493ce" stroke="#6493ce" stroke-width="0.6"/>
<polygon points="603.5,223.9 605.2,223.9 608.1,326.3 606.0,326.3" fill="#6a7ece" stroke="#6a7ece" stroke-width="0.6"/>
<polygon points="605.2,223.9 606.9,223.9 610.1,326.3 608.1,326.3" fill="#6a7ece" stroke="#6a7ece" stroke-width="0.6"/>
<polygon points="606.9,223.9 608.5,223.9 612.2,326.3 610.1,326.3" fill="#6a7ece" stroke="#6a7ece" stroke-width="0.6"/>
<polygon points="608.5,223.9 610.2,223.9 614.2,326.3 612.2,326.3" fill="#6a7ece" stroke="#6a7ece" stroke-width="0.6"/>
<polygon points="610.2,223.9 611.9,223.9 616.3,326.3 614.2,326.3" fill="#6a7ece" stroke="#6a7ece" stroke-width="0.6"/>
<polygon points="611.9,223.9 613.6,223.9 618.3,326.3 616.3,326.3" fill="#5cb1ce" stroke="#5cb1ce" stroke-width="0.6"/>
<polygon points="613.6,223.9 615.3,223.9 620.4,326.3 618.3,326.3" fill="#56cace" stroke="#56cace" stroke-width="0.6"/>
<polygon points="615.3,223.9 617.0,223.9 622.4,326.3 620.4,326.3" fill="#56cace" stroke="#56cace" stroke-width="0.6"/>
<polygon points="617.0,223.9 618.7,223.9 624.4,326.3 622.4,326.3" fill="#92d17b" stroke="#92d17b" stroke-width="0.6"/>
<polygon points="618.7,223.9 620.4,223.9 626.5,326.3 624.4,326.3" fill="#a4d464" stroke="#a4d464" stroke-width="0.6"/>
<polygon points="620.4,223.9 622.1,223.9 628.5,326.3 626.5,326.3" fill="#a4d464" stroke="#a4d464" stroke-width="0.6"/>
<polygon points="622.1,223.9 623.8,223.9 630.6,326.3 628.5,326.3" fill="#a4d464" stroke="#a4d464" stroke-width="0.6"/>
<polygon points="623.8,223.9 625.5,223.9 632.6,326.3 630.6,326.3" fill="#a4d464" stroke="#a4d464" stroke-width="0.6"/>
<polygon points="625.5,223.9 627.2,223.9 634.7,326.3 632.6,326.3" fill="#5bcac6" stroke="#5bcac6" stroke-width="0.6"/>
<polygon points="627.2,223.9 628.9,223.9 636.7,326.3 634.7,326.3" fill="#56cace" stroke="#56cace" stroke-width="0.6"/>
<polygon points="628.9,223.9 630.6,223.9 638.8,326.3 636.7,326.3" fill="#56cace" stroke="#56cace" stroke-width="0.6"/>
<polygon points="630.6,223.9 632.2,223.9 640.8,326.3 638.8,326.3" fill="#6884ce" stroke="#6884ce" stroke-width="0.6"/>
<polygon points="632.2,223.9 633.9,223.9 642.8,326.3 640.8,326.3" fill="#6a7ece" stroke="#6a7ece" stroke-width="0.6"/>
<polygon points="633.9,223.9 635.6,223.9 644.9,326.3 642.8,326.3" fill="#6a7ece" stroke="#6a7ece" stroke-width="0.6"/>
<polygon points="635.6,223.9 637.3,223.9 646.9,326.3 644.9,326.3" fill="#6a7ece" stroke="#6a7ece" stroke-width="0.6"/>
<polygon points="637.3,223.9 639.0,223.9 649.0,326.3 646.9,326.3" fill="#6a7ece" stroke="#6a7ece" stroke-width="0.6"/>
<polygon points="639.0,223.9 640.7,223.9 651.0,326.3 649.0,326.3" fill="#6a7ece" stroke="#6a7ece" stroke-width="0.6"/>
<polygon points="640.7,223.9 642.4,223.9 653.1,326.3 651.0,326.3" fill="#58c0ce" stroke="#58c0ce" stroke-width="0.6"/>
<polygon points="642.4,223.9 644.1,223.9 655.1,326.3 653.1,326.3" fill="#56cace" stroke="#56cace" stroke-width="0.6"/>
<polygon points="644.1,223.9 645.8,223.9 657.2,326.3 655.1,326.3" fill="#56cace" stroke="#56cace" stroke-width="0.6"/>
<polygon points="645.8,223.9 647.5,223.9 659.2,326.3 657.2,326.3" fill="#a4d464" stroke="#a4d464" stroke-width="0.6"/>
<polygon points="647.5,223.9 649.2,223.9 661.2,326.3 659.2,326.3" fill="#a4d464" stroke="#a4d464" stroke-width="0.6"/>
<polygon points="649.2,223.9 650.9,223.9 663.3,326.3 661.2,326.3" fill="#a4d464" stroke="#a4d464" stroke-width="0.6"/>
<polygon points="650.9,223.9 652.6,223.9 665.3,326.3 663.3,326.3" fill="#a4d464" stroke="#a4d464" stroke-width="0.6"/>
<polygon points="652.6,223.9 654.3,223.9 667.4,326.3 665.3,326.3" fill="#a4d464" stroke="#a4d464" stroke-width="0.6"/>
<polygon points="654.3,223.9 655.9,223.9 669.4,326.3 667.4,326.3" fill="#56cace" stroke="#56cace" stroke-width="0.6"/>
<g opacity="0.24">
<rect x="400" y="229.2" width="245" height="5" fill="#b8f0a0"/>
<rect x="400" y="240.1" width="245" height="5" fill="#b8f0a0"/>
<rect x="400" y="252.9" width="245" height="5" fill="#b8f0a0"/>
<rect x="400" y="261.7" width="245" height="5" fill="#b8f0a0"/>
<rect x="400" y="273.5" width="245" height="5" fill="#b8f0a0"/>
<rect x="400" y="285.4" width="245" height="5" fill="#b8f0a0"/>
<rect x="400" y="297.2" width="245" height="5" fill="#b8f0a0"/>
<rect x="400" y="311.0" width="245" height="5" fill="#b8f0a0"/>
</g>
<ellipse cx="448.8" cy="227.6" rx="1.7" ry="1.8" fill="#d8dc48" opacity="0.85"/>
<ellipse cx="448.7" cy="234.9" rx="1.6" ry="1.8" fill="#d8dc48" opacity="0.85"/>
<ellipse cx="446.0" cy="242.2" rx="2.0" ry="1.8" fill="#d8dc48" opacity="0.85"/>
<ellipse cx="441.0" cy="249.5" rx="2.2" ry="1.8" fill="#d8dc48" opacity="0.85"/>
<ellipse cx="438.8" cy="256.8" rx="2.1" ry="1.8" fill="#d8dc48" opacity="0.85"/>
<ellipse cx="436.9" cy="264.1" rx="1.6" ry="1.8" fill="#d8dc48" opacity="0.85"/>
<ellipse cx="437.0" cy="271.4" rx="2.6" ry="1.8" fill="#d8dc48" opacity="0.85"/>
<ellipse cx="433.1" cy="278.8" rx="1.8" ry="1.8" fill="#d8dc48" opacity="0.85"/>
<ellipse cx="434.0" cy="286.1" rx="2.7" ry="1.8" fill="#d8dc48" opacity="0.85"/>
<ellipse cx="431.7" cy="293.4" rx="2.0" ry="1.8" fill="#d8dc48" opacity="0.85"/>
<ellipse cx="432.0" cy="300.7" rx="1.6" ry="1.8" fill="#d8dc48" opacity="0.85"/>
<ellipse cx="429.2" cy="308.0" rx="1.9" ry="1.8" fill="#d8dc48" opacity="0.85"/>
<ellipse cx="422.8" cy="315.3" rx="1.7" ry="1.8" fill="#d8dc48" opacity="0.85"/>
<ellipse cx="421.7" cy="322.6" rx="2.6" ry="1.8" fill="#d8dc48" opacity="0.85"/>
<ellipse cx="476.6" cy="227.6" rx="2.3" ry="1.8" fill="#d8dc48" opacity="0.85"/>
<ellipse cx="477.7" cy="234.9" rx="2.0" ry="1.8" fill="#d8dc48" opacity="0.85"/>
<ellipse cx="475.5" cy="242.2" rx="1.6" ry="1.8" fill="#d8dc48" opacity="0.85"/>
<ellipse cx="470.9" cy="249.5" rx="1.8" ry="1.8" fill="#d8dc48" opacity="0.85"/>
<ellipse cx="473.0" cy="256.8" rx="2.1" ry="1.8" fill="#d8dc48" opacity="0.85"/>
<ellipse cx="469.2" cy="264.1" rx="2.3" ry="1.8" fill="#d8dc48" opacity="0.85"/>
<ellipse cx="468.3" cy="271.4" rx="1.9" ry="1.8" fill="#d8dc48" opacity="0.85"/>
<ellipse cx="468.7" cy="278.8" rx="2.4" ry="1.8" fill="#d8dc48" opacity="0.85"/>
<ellipse cx="463.8" cy="286.1" rx="2.2" ry="1.8" fill="#d8dc48" opacity="0.85"/>
<ellipse cx="463.8" cy="293.4" rx="2.6" ry="1.8" fill="#d8dc48" opacity="0.85"/>
<ellipse cx="463.4" cy="300.7" rx="1.9" ry="1.8" fill="#d8dc48" opacity="0.85"/>
<ellipse cx="463.2" cy="308.0" rx="1.7" ry="1.8" fill="#d8dc48" opacity="0.85"/>
<ellipse cx="458.2" cy="315.3" rx="2.5" ry="1.8" fill="#d8dc48" opacity="0.85"/>
<ellipse cx="454.9" cy="322.6" rx="2.1" ry="1.8" fill="#d8dc48" opacity="0.85"/>
<ellipse cx="504.4" cy="227.6" rx="2.4" ry="1.8" fill="#d8dc48" opacity="0.85"/>
<ellipse cx="507.6" cy="234.9" rx="2.2" ry="1.8" fill="#d8dc48" opacity="0.85"/>
<ellipse cx="507.0" cy="242.2" rx="1.9" ry="1.8" fill="#d8dc48" opacity="0.85"/>
<ellipse cx="504.7" cy="249.5" rx="2.3" ry="1.8" fill="#d8dc48" opacity="0.85"/>
<ellipse cx="502.8" cy="256.8" rx="2.1" ry="1.8" fill="#d8dc48" opacity="0.85"/>
<ellipse cx="503.1" cy="264.1" rx="2.7" ry="1.8" fill="#d8dc48" opacity="0.85"/>
<ellipse cx="499.6" cy="271.4" rx="2.4" ry="1.8" fill="#d8dc48" opacity="0.85"/>
<ellipse cx="495.9" cy="278.8" rx="2.4" ry="1.8" fill="#d8dc48" opacity="0.85"/>
<ellipse cx="498.2" cy="286.1" rx="2.8" ry="1.8" fill="#d8dc48" opacity="0.85"/>
<ellipse cx="498.0" cy="293.4" rx="1.9" ry="1.8" fill="#d8dc48" opacity="0.85"/>
<ellipse cx="494.2" cy="300.7" rx="2.4" ry="1.8" fill="#d8dc48" opacity="0.85"/>
<ellipse cx="490.8" cy="308.0" rx="2.1" ry="1.8" fill="#d8dc48" opacity="0.85"/>
<ellipse cx="490.4" cy="315.3" rx="1.7" ry="1.8" fill="#d8dc48" opacity="0.85"/>
<ellipse cx="488.5" cy="322.6" rx="2.5" ry="1.8" fill="#d8dc48" opacity="0.85"/>
<ellipse cx="533.6" cy="227.6" rx="1.8" ry="1.8" fill="#d8dc48" opacity="0.85"/>
<ellipse cx="534.4" cy="234.9" rx="2.6" ry="1.8" fill="#d8dc48" opacity="0.85"/>
<ellipse cx="531.7" cy="242.2" rx="2.1" ry="1.8" fill="#d8dc48" opacity="0.85"/>
<ellipse cx="533.7" cy="249.5" rx="2.6" ry="1.8" fill="#d8dc48" opacity="0.85"/>
<ellipse cx="534.5" cy="256.8" rx="2.6" ry="1.8" fill="#d8dc48" opacity="0.85"/>
<ellipse cx="530.5" cy="264.1" rx="2.0" ry="1.8" fill="#d8dc48" opacity="0.85"/>
<ellipse cx="530.1" cy="271.4" rx="2.6" ry="1.8" fill="#d8dc48" opacity="0.85"/>
<ellipse cx="532.9" cy="278.8" rx="1.7" ry="1.8" fill="#d8dc48" opacity="0.85"/>
<ellipse cx="527.4" cy="286.1" rx="1.8" ry="1.8" fill="#d8dc48" opacity="0.85"/>
<ellipse cx="526.9" cy="293.4" rx="2.1" ry="1.8" fill="#d8dc48" opacity="0.85"/>
<ellipse cx="528.3" cy="300.7" rx="1.8" ry="1.8" fill="#d8dc48" opacity="0.85"/>
<ellipse cx="523.9" cy="308.0" rx="2.0" ry="1.8" fill="#d8dc48" opacity="0.85"/>
<ellipse cx="525.3" cy="315.3" rx="2.2" ry="1.8" fill="#d8dc48" opacity="0.85"/>
<ellipse cx="528.0" cy="322.6" rx="2.4" ry="1.8" fill="#d8dc48" opacity="0.85"/>
<ellipse cx="564.6" cy="227.6" rx="2.3" ry="1.8" fill="#d8dc48" opacity="0.85"/>
<ellipse cx="565.2" cy="234.9" rx="1.6" ry="1.8" fill="#d8dc48" opacity="0.85"/>
<ellipse cx="566.1" cy="242.2" rx="2.5" ry="1.8" fill="#d8dc48" opacity="0.85"/>
<ellipse cx="565.6" cy="249.5" rx="2.5" ry="1.8" fill="#d8dc48" opacity="0.85"/>
<ellipse cx="562.3" cy="256.8" rx="2.0" ry="1.8" fill="#d8dc48" opacity="0.85"/>
<ellipse cx="560.2" cy="264.1" rx="2.3" ry="1.8" fill="#d8dc48" opacity="0.85"/>
<ellipse cx="559.5" cy="271.4" rx="1.6" ry="1.8" fill="#d8dc48" opacity="0.85"/>
<ellipse cx="560.0" cy="278.8" rx="1.7" ry="1.8" fill="#d8dc48" opacity="0.85"/>
<ellipse cx="560.4" cy="286.1" rx="1.6" ry="1.8" fill="#d8dc48" opacity="0.85"/>
<ellipse cx="558.0" cy="293.4" rx="1.7" ry="1.8" fill="#d8dc48" opacity="0.85"/>
<ellipse cx="558.2" cy="300.7" rx="2.0" ry="1.8" fill="#d8dc48" opacity="0.85"/>
<ellipse cx="557.4" cy="308.0" rx="2.6" ry="1.8" fill="#d8dc48" opacity="0.85"/>
<ellipse cx="560.5" cy="315.3" rx="1.7" ry="1.8" fill="#d8dc48" opacity="0.85"/>
<ellipse cx="557.9" cy="322.6" rx="2.0" ry="1.8" fill="#d8dc48" opacity="0.85"/>
<ellipse cx="592.3" cy="227.6" rx="1.7" ry="1.8" fill="#d8dc48" opacity="0.85"/>
<ellipse cx="595.3" cy="234.9" rx="2.8" ry="1.8" fill="#d8dc48" opacity="0.85"/>
<ellipse cx="593.0" cy="242.2" rx="2.1" ry="1.8" fill="#d8dc48" opacity="0.85"/>
<ellipse cx="590.8" cy="249.5" rx="1.6" ry="1.8" fill="#d8dc48" opacity="0.85"/>
<ellipse cx="592.3" cy="256.8" rx="1.8" ry="1.8" fill="#d8dc48" opacity="0.85"/>
<ellipse cx="595.3" cy="264.1" rx="1.7" ry="1.8" fill="#d8dc48" opacity="0.85"/>
<ellipse cx="590.5" cy="271.4" rx="2.7" ry="1.8" fill="#d8dc48" opacity="0.85"/>
<ellipse cx="593.5" cy="278.8" rx="1.7" ry="1.8" fill="#d8dc48" opacity="0.85"/>
<ellipse cx="593.7" cy="286.1" rx="1.5" ry="1.8" fill="#d8dc48" opacity="0.85"/>
<ellipse cx="593.6" cy="293.4" rx="2.8" ry="1.8" fill="#d8dc48" opacity="0.85"/>
<ellipse cx="595.6" cy="300.7" rx="2.4" ry="1.8" fill="#d8dc48" opacity="0.85"/>
<ellipse cx="592.1" cy="308.0" rx="2.0" ry="1.8" fill="#d8dc48" opacity="0.85"/>
<ellipse cx="591.5" cy="315.3" rx="2.5" ry="1.8" fill="#d8dc48" opacity="0.85"/>
<ellipse cx="593.8" cy="322.6" rx="2.5" ry="1.8" fill="#d8dc48" opacity="0.85"/>
<ellipse cx="620.8" cy="227.6" rx="1.8" ry="1.8" fill="#d8dc48" opacity="0.85"/>
<ellipse cx="624.1" cy="234.9" rx="2.8" ry="1.8" fill="#d8dc48" opacity="0.85"/>
<ellipse cx="624.8" cy="242.2" rx="2.5" ry="1.8" fill="#d8dc48" opacity="0.85"/>
<ellipse cx="625.1" cy="249.5" rx="2.5" ry="1.8" fill="#d8dc48" opacity="0.85"/>
<ellipse cx="622.0" cy="256.8" rx="2.2" ry="1.8" fill="#d8dc48" opacity="0.85"/>
<ellipse cx="623.2" cy="264.1" rx="1.5" ry="1.8" fill="#d8dc48" opacity="0.85"/>
<ellipse cx="621.7" cy="271.4" rx="1.9" ry="1.8" fill="#d8dc48" opacity="0.85"/>
<ellipse cx="623.5" cy="278.8" rx="2.4" ry="1.8" fill="#d8dc48" opacity="0.85"/>
<ellipse cx="628.2" cy="286.1" rx="2.1" ry="1.8" fill="#d8dc48" opacity="0.85"/>
<ellipse cx="628.5" cy="293.4" rx="2.8" ry="1.8" fill="#d8dc48" opacity="0.85"/>
<ellipse cx="629.1" cy="300.7" rx="2.0" ry="1.8" fill="#d8dc48" opacity="0.85"/>
<ellipse cx="625.1" cy="308.0" rx="1.8" ry="1.8" fill="#d8dc48" opacity="0.85"/>
<ellipse cx="625.4" cy="315.3" rx="1.8" ry="1.8" fill="#d8dc48" opacity="0.85"/>
<ellipse cx="628.4" cy="322.6" rx="2.7" ry="1.8" fill="#d8dc48" opacity="0.85"/>
</g>
<polygon points="384,196.2 438.7,223.9 402.3,326.3 384,364.8" fill="#000"/>
<polygon points="384,196.2 668.7,196.2 636.2,223.9 438.7,223.9" fill="#000"/>
<polygon points="636.2,223.9 668.7,196.2 668.7,364.8 640.8,326.3" fill="#000"/>
<polygon points="402.3,326.3 640.8,326.3 668.7,364.8 384,364.8" fill="#000"/>
<polyline points="402.3,325.2 440,324.6 480,325.4 520,324.8 560,325.6 600,325.2 640.8,325.8" stroke="#1a1a2a" stroke-width="2.2" fill="none"/>
<line x1="438" y1="225" x2="636.5" y2="225" stroke="#0a0a0a" stroke-width="1.2"/>
<polyline points="543.5,281.4 546.2,280.5 550.8,290.4 553.5,276.0 556.2,243.5 558.0,242.6 559.8,244.4 562.5,242.6 565.2,250.7 567.9,279.6 570.6,278.7 574.2,277.8 577.8,278.7 581.4,289.5 584.2,263.3 586.9,238.0 589.6,245.3 592.3,247.1 595.0,256.1 598.6,284.1 602.2,279.6 606.7,280.5 609.4,281.4 613.0,295.8 616.6,259.7 619.4,241.7 621.2,246.2 623.9,232.6 626.6,241.7 629.3,256.1 632.0,258.8 633.8,257.9 636.5,267.8" stroke="#ff1010" stroke-width="1.05" fill="none" stroke-linejoin="round"/>
<path d="M434.2 223.9 L642.3 223.9 M402.3 326.3 L438.7 223.9 M397.7 326.3 L649.3 330.2 M636.2 218.4 L642.3 333.9 M413 276.5 L421 276.5 M489 327 L489 334 M574 328.5 L574 335" stroke="#ffffff" stroke-width="1.6" fill="none"/>
<text x="388.6" y="226.6" font-size="16" font-weight="bold" fill="#fff" text-anchor="start" textLength="44" lengthAdjust="spacingAndGlyphs" >524.9</text>
<text x="385" y="277" font-size="16" font-weight="bold" fill="#fff" text-anchor="start" textLength="28" lengthAdjust="spacingAndGlyphs" >250</text>
<text x="392.3" y="348.7" font-size="16" font-weight="bold" fill="#fff" text-anchor="start" textLength="35.7" lengthAdjust="spacingAndGlyphs" >0μm</text>
<text x="475.2" y="351.1" font-size="16" font-weight="bold" fill="#fff" text-anchor="start" textLength="28.8" lengthAdjust="spacingAndGlyphs" >250</text>
<text x="558" y="350.9" font-size="16" font-weight="bold" fill="#fff" text-anchor="start" textLength="29.5" lengthAdjust="spacingAndGlyphs" >500</text>
<text x="614.8" y="350.4" font-size="16" font-weight="bold" fill="#fff" text-anchor="start" textLength="43.5" lengthAdjust="spacingAndGlyphs" >700.2</text>
<text x="669.9" y="217.6" font-size="27.6" font-weight="bold" fill="#000" text-anchor="start" textLength="35.6" lengthAdjust="spacingAndGlyphs" >(d)</text>
<rect x="713.1" y="195.6" width="288.7" height="164.1" fill="#000"/>
<defs><linearGradient id="dbg" x1="0" y1="0" x2="1" y2="1"><stop offset="0" stop-color="#8ae4ee"/><stop offset="0.5" stop-color="#90d4f0"/><stop offset="1" stop-color="#a4ecf6"/></linearGradient><radialGradient id="dblob"><stop offset="0" stop-color="#5a88e0" stop-opacity="0.75"/><stop offset="1" stop-color="#5a88e0" stop-opacity="0"/></radialGradient></defs>
<polygon points="771.8,214.8 957.1,216.9 967.8,329.3 746.0,323.3" fill="url(#dbg)"/>
<ellipse cx="845" cy="262" rx="38" ry="45" fill="url(#dblob)"/>
<ellipse cx="905" cy="300" rx="30" ry="28" fill="url(#dblob)" opacity="0.6"/>
<line x1="768.9" y1="217.5" x2="780.5" y2="216.7" stroke="#6878c8" stroke-width="1.2" opacity="0.7"/>
<line x1="768.9" y1="215.7" x2="780.5" y2="214.9" stroke="#d8c048" stroke-width="1.7"/>
<line x1="768.0" y1="221.9" x2="779.7" y2="221.0" stroke="#6878c8" stroke-width="1.2" opacity="0.7"/>
<line x1="768.0" y1="220.1" x2="779.7" y2="219.2" stroke="#d8c048" stroke-width="1.7"/>
<line x1="767.1" y1="226.2" x2="778.9" y2="225.4" stroke="#6878c8" stroke-width="1.2" opacity="0.7"/>
<line x1="767.1" y1="224.4" x2="778.9" y2="223.6" stroke="#d8c048" stroke-width="1.7"/>
<line x1="766.2" y1="230.6" x2="778.1" y2="229.7" stroke="#6878c8" stroke-width="1.2" opacity="0.7"/>
<line x1="766.2" y1="228.8" x2="778.1" y2="227.9" stroke="#d8c048" stroke-width="1.7"/>
<line x1="765.4" y1="234.9" x2="777.2" y2="234.1" stroke="#6878c8" stroke-width="1.2" opacity="0.7"/>
<line x1="765.4" y1="233.1" x2="777.2" y2="232.3" stroke="#d8c048" stroke-width="1.7"/>
<line x1="764.5" y1="239.2" x2="776.4" y2="238.4" stroke="#6878c8" stroke-width="1.2" opacity="0.7"/>
<line x1="764.5" y1="237.4" x2="776.4" y2="236.6" stroke="#d8c048" stroke-width="1.7"/>
<line x1="763.6" y1="243.6" x2="775.6" y2="242.8" stroke="#6878c8" stroke-width="1.2" opacity="0.7"/>
<line x1="763.6" y1="241.8" x2="775.6" y2="241.0" stroke="#d8c048" stroke-width="1.7"/>
<line x1="762.7" y1="247.9" x2="774.9" y2="247.1" stroke="#6878c8" stroke-width="1.2" opacity="0.7"/>
<line x1="762.7" y1="246.1" x2="774.9" y2="245.3" stroke="#d8c048" stroke-width="1.7"/>
<line x1="761.8" y1="252.3" x2="774.1" y2="251.5" stroke="#6878c8" stroke-width="1.2" opacity="0.7"/>
<line x1="761.8" y1="250.5" x2="774.1" y2="249.7" stroke="#d8c048" stroke-width="1.7"/>
<line x1="760.9" y1="256.6" x2="773.3" y2="255.8" stroke="#6878c8" stroke-width="1.2" opacity="0.7"/>
<line x1="760.9" y1="254.8" x2="773.3" y2="254.0" stroke="#d8c048" stroke-width="1.7"/>
<line x1="760.0" y1="261.0" x2="772.5" y2="260.2" stroke="#6878c8" stroke-width="1.2" opacity="0.7"/>
<line x1="760.0" y1="259.2" x2="772.5" y2="258.4" stroke="#d8c048" stroke-width="1.7"/>
<line x1="759.2" y1="265.3" x2="771.7" y2="264.5" stroke="#6878c8" stroke-width="1.2" opacity="0.7"/>
<line x1="759.2" y1="263.5" x2="771.7" y2="262.7" stroke="#d8c048" stroke-width="1.7"/>
<line x1="758.3" y1="269.6" x2="770.9" y2="268.9" stroke="#6878c8" stroke-width="1.2" opacity="0.7"/>
<line x1="758.3" y1="267.8" x2="770.9" y2="267.1" stroke="#d8c048" stroke-width="1.7"/>
<line x1="757.4" y1="274.0" x2="770.1" y2="273.2" stroke="#6878c8" stroke-width="1.2" opacity="0.7"/>
<line x1="757.4" y1="272.2" x2="770.1" y2="271.4" stroke="#d8c048" stroke-width="1.7"/>
<line x1="756.5" y1="278.3" x2="769.3" y2="277.6" stroke="#6878c8" stroke-width="1.2" opacity="0.7"/>
<line x1="756.5" y1="276.5" x2="769.3" y2="275.8" stroke="#d8c048" stroke-width="1.7"/>
<line x1="755.7" y1="282.7" x2="768.6" y2="281.9" stroke="#6878c8" stroke-width="1.2" opacity="0.7"/>
<line x1="755.7" y1="280.9" x2="768.6" y2="280.1" stroke="#d8c048" stroke-width="1.7"/>
<line x1="754.8" y1="287.0" x2="767.8" y2="286.3" stroke="#6878c8" stroke-width="1.2" opacity="0.7"/>
<line x1="754.8" y1="285.2" x2="767.8" y2="284.5" stroke="#d8c048" stroke-width="1.7"/>
<line x1="754.0" y1="291.4" x2="767.0" y2="290.7" stroke="#6878c8" stroke-width="1.2" opacity="0.7"/>
<line x1="754.0" y1="289.6" x2="767.0" y2="288.9" stroke="#d8c048" stroke-width="1.7"/>
<line x1="753.1" y1="295.7" x2="766.3" y2="295.0" stroke="#6878c8" stroke-width="1.2" opacity="0.7"/>
<line x1="753.1" y1="293.9" x2="766.3" y2="293.2" stroke="#d8c048" stroke-width="1.7"/>
<line x1="752.2" y1="300.0" x2="765.5" y2="299.4" stroke="#6878c8" stroke-width="1.2" opacity="0.7"/>
<line x1="752.2" y1="298.2" x2="765.5" y2="297.6" stroke="#d8c048" stroke-width="1.7"/>
<line x1="751.4" y1="304.4" x2="764.7" y2="303.7" stroke="#6878c8" stroke-width="1.2" opacity="0.7"/>
<line x1="751.4" y1="302.6" x2="764.7" y2="301.9" stroke="#d8c048" stroke-width="1.7"/>
<line x1="750.5" y1="308.7" x2="764.0" y2="308.1" stroke="#6878c8" stroke-width="1.2" opacity="0.7"/>
<line x1="750.5" y1="306.9" x2="764.0" y2="306.3" stroke="#d8c048" stroke-width="1.7"/>
<line x1="749.7" y1="313.1" x2="763.2" y2="312.4" stroke="#6878c8" stroke-width="1.2" opacity="0.7"/>
<line x1="749.7" y1="311.3" x2="763.2" y2="310.6" stroke="#d8c048" stroke-width="1.7"/>
<line x1="748.8" y1="317.4" x2="762.4" y2="316.8" stroke="#6878c8" stroke-width="1.2" opacity="0.7"/>
<line x1="748.8" y1="315.6" x2="762.4" y2="315.0" stroke="#d8c048" stroke-width="1.7"/>
<line x1="748.0" y1="321.8" x2="761.7" y2="321.1" stroke="#6878c8" stroke-width="1.2" opacity="0.7"/>
<line x1="748.0" y1="320.0" x2="761.7" y2="319.3" stroke="#d8c048" stroke-width="1.7"/>
<line x1="794.8" y1="217.8" x2="806.3" y2="217.0" stroke="#6878c8" stroke-width="1.2" opacity="0.7"/>
<line x1="794.8" y1="216.0" x2="806.3" y2="215.2" stroke="#d8c048" stroke-width="1.7"/>
<line x1="794.1" y1="222.2" x2="805.7" y2="221.4" stroke="#6878c8" stroke-width="1.2" opacity="0.7"/>
<line x1="794.1" y1="220.4" x2="805.7" y2="219.6" stroke="#d8c048" stroke-width="1.7"/>
<line x1="793.4" y1="226.6" x2="805.1" y2="225.7" stroke="#6878c8" stroke-width="1.2" opacity="0.7"/>
<line x1="793.4" y1="224.8" x2="805.1" y2="223.9" stroke="#d8c048" stroke-width="1.7"/>
<line x1="792.7" y1="230.9" x2="804.5" y2="230.1" stroke="#6878c8" stroke-width="1.2" opacity="0.7"/>
<line x1="792.7" y1="229.1" x2="804.5" y2="228.3" stroke="#d8c048" stroke-width="1.7"/>
<line x1="792.0" y1="235.3" x2="803.9" y2="234.5" stroke="#6878c8" stroke-width="1.2" opacity="0.7"/>
<line x1="792.0" y1="233.5" x2="803.9" y2="232.7" stroke="#d8c048" stroke-width="1.7"/>
<line x1="791.3" y1="239.7" x2="803.3" y2="238.8" stroke="#6878c8" stroke-width="1.2" opacity="0.7"/>
<line x1="791.3" y1="237.9" x2="803.3" y2="237.0" stroke="#d8c048" stroke-width="1.7"/>
<line x1="790.6" y1="244.0" x2="802.7" y2="243.2" stroke="#6878c8" stroke-width="1.2" opacity="0.7"/>
<line x1="790.6" y1="242.2" x2="802.7" y2="241.4" stroke="#d8c048" stroke-width="1.7"/>
<line x1="790.0" y1="248.4" x2="802.1" y2="247.6" stroke="#6878c8" stroke-width="1.2" opacity="0.7"/>
<line x1="790.0" y1="246.6" x2="802.1" y2="245.8" stroke="#d8c048" stroke-width="1.7"/>
<line x1="789.3" y1="252.7" x2="801.5" y2="252.0" stroke="#6878c8" stroke-width="1.2" opacity="0.7"/>
<line x1="789.3" y1="250.9" x2="801.5" y2="250.2" stroke="#d8c048" stroke-width="1.7"/>
<line x1="788.6" y1="257.1" x2="801.0" y2="256.3" stroke="#6878c8" stroke-width="1.2" opacity="0.7"/>
<line x1="788.6" y1="255.3" x2="801.0" y2="254.5" stroke="#d8c048" stroke-width="1.7"/>
<line x1="787.9" y1="261.5" x2="800.4" y2="260.7" stroke="#6878c8" stroke-width="1.2" opacity="0.7"/>
<line x1="787.9" y1="259.7" x2="800.4" y2="258.9" stroke="#d8c048" stroke-width="1.7"/>
<line x1="787.3" y1="265.8" x2="799.8" y2="265.1" stroke="#6878c8" stroke-width="1.2" opacity="0.7"/>
<line x1="787.3" y1="264.0" x2="799.8" y2="263.3" stroke="#d8c048" stroke-width="1.7"/>
<line x1="786.6" y1="270.2" x2="799.2" y2="269.5" stroke="#6878c8" stroke-width="1.2" opacity="0.7"/>
<line x1="786.6" y1="268.4" x2="799.2" y2="267.7" stroke="#d8c048" stroke-width="1.7"/>
<line x1="785.9" y1="274.6" x2="798.6" y2="273.8" stroke="#6878c8" stroke-width="1.2" opacity="0.7"/>
<line x1="785.9" y1="272.8" x2="798.6" y2="272.0" stroke="#d8c048" stroke-width="1.7"/>
<line x1="785.2" y1="278.9" x2="798.0" y2="278.2" stroke="#6878c8" stroke-width="1.2" opacity="0.7"/>
<line x1="785.2" y1="277.1" x2="798.0" y2="276.4" stroke="#d8c048" stroke-width="1.7"/>
<line x1="784.6" y1="283.3" x2="797.5" y2="282.6" stroke="#6878c8" stroke-width="1.2" opacity="0.7"/>
<line x1="784.6" y1="281.5" x2="797.5" y2="280.8" stroke="#d8c048" stroke-width="1.7"/>
<line x1="783.9" y1="287.7" x2="796.9" y2="287.0" stroke="#6878c8" stroke-width="1.2" opacity="0.7"/>
<line x1="783.9" y1="285.9" x2="796.9" y2="285.2" stroke="#d8c048" stroke-width="1.7"/>
<line x1="783.3" y1="292.0" x2="796.3" y2="291.3" stroke="#6878c8" stroke-width="1.2" opacity="0.7"/>
<line x1="783.3" y1="290.2" x2="796.3" y2="289.5" stroke="#d8c048" stroke-width="1.7"/>
<line x1="782.6" y1="296.4" x2="795.8" y2="295.7" stroke="#6878c8" stroke-width="1.2" opacity="0.7"/>
<line x1="782.6" y1="294.6" x2="795.8" y2="293.9" stroke="#d8c048" stroke-width="1.7"/>
<line x1="781.9" y1="300.8" x2="795.2" y2="300.1" stroke="#6878c8" stroke-width="1.2" opacity="0.7"/>
<line x1="781.9" y1="299.0" x2="795.2" y2="298.3" stroke="#d8c048" stroke-width="1.7"/>
<line x1="781.3" y1="305.1" x2="794.6" y2="304.5" stroke="#6878c8" stroke-width="1.2" opacity="0.7"/>
<line x1="781.3" y1="303.3" x2="794.6" y2="302.7" stroke="#d8c048" stroke-width="1.7"/>
<line x1="780.6" y1="309.5" x2="794.1" y2="308.8" stroke="#6878c8" stroke-width="1.2" opacity="0.7"/>
<line x1="780.6" y1="307.7" x2="794.1" y2="307.0" stroke="#d8c048" stroke-width="1.7"/>
<line x1="780.0" y1="313.9" x2="793.5" y2="313.2" stroke="#6878c8" stroke-width="1.2" opacity="0.7"/>
<line x1="780.0" y1="312.1" x2="793.5" y2="311.4" stroke="#d8c048" stroke-width="1.7"/>
<line x1="779.3" y1="318.2" x2="793.0" y2="317.6" stroke="#6878c8" stroke-width="1.2" opacity="0.7"/>
<line x1="779.3" y1="316.4" x2="793.0" y2="315.8" stroke="#d8c048" stroke-width="1.7"/>
<line x1="778.7" y1="322.6" x2="792.4" y2="322.0" stroke="#6878c8" stroke-width="1.2" opacity="0.7"/>
<line x1="778.7" y1="320.8" x2="792.4" y2="320.2" stroke="#d8c048" stroke-width="1.7"/>
<line x1="820.7" y1="218.1" x2="832.2" y2="217.3" stroke="#6878c8" stroke-width="1.2" opacity="0.7"/>
<line x1="820.7" y1="216.3" x2="832.2" y2="215.5" stroke="#d8c048" stroke-width="1.7"/>
<line x1="820.2" y1="222.5" x2="831.8" y2="221.7" stroke="#6878c8" stroke-width="1.2" opacity="0.7"/>
<line x1="820.2" y1="220.7" x2="831.8" y2="219.9" stroke="#d8c048" stroke-width="1.7"/>
<line x1="819.7" y1="226.9" x2="831.4" y2="226.1" stroke="#6878c8" stroke-width="1.2" opacity="0.7"/>
<line x1="819.7" y1="225.1" x2="831.4" y2="224.3" stroke="#d8c048" stroke-width="1.7"/>
<line x1="819.2" y1="231.3" x2="831.0" y2="230.5" stroke="#6878c8" stroke-width="1.2" opacity="0.7"/>
<line x1="819.2" y1="229.5" x2="831.0" y2="228.7" stroke="#d8c048" stroke-width="1.7"/>
<line x1="818.7" y1="235.7" x2="830.6" y2="234.9" stroke="#6878c8" stroke-width="1.2" opacity="0.7"/>
<line x1="818.7" y1="233.9" x2="830.6" y2="233.1" stroke="#d8c048" stroke-width="1.7"/>
<line x1="818.2" y1="240.1" x2="830.2" y2="239.3" stroke="#6878c8" stroke-width="1.2" opacity="0.7"/>
<line x1="818.2" y1="238.3" x2="830.2" y2="237.5" stroke="#d8c048" stroke-width="1.7"/>
<line x1="817.7" y1="244.5" x2="829.8" y2="243.6" stroke="#6878c8" stroke-width="1.2" opacity="0.7"/>
<line x1="817.7" y1="242.7" x2="829.8" y2="241.8" stroke="#d8c048" stroke-width="1.7"/>
<line x1="817.2" y1="248.8" x2="829.4" y2="248.0" stroke="#6878c8" stroke-width="1.2" opacity="0.7"/>
<line x1="817.2" y1="247.0" x2="829.4" y2="246.2" stroke="#d8c048" stroke-width="1.7"/>
<line x1="816.8" y1="253.2" x2="829.0" y2="252.4" stroke="#6878c8" stroke-width="1.2" opacity="0.7"/>
<line x1="816.8" y1="251.4" x2="829.0" y2="250.6" stroke="#d8c048" stroke-width="1.7"/>
<line x1="816.3" y1="257.6" x2="828.6" y2="256.8" stroke="#6878c8" stroke-width="1.2" opacity="0.7"/>
<line x1="816.3" y1="255.8" x2="828.6" y2="255.0" stroke="#d8c048" stroke-width="1.7"/>
<line x1="815.8" y1="262.0" x2="828.3" y2="261.2" stroke="#6878c8" stroke-width="1.2" opacity="0.7"/>
<line x1="815.8" y1="260.2" x2="828.3" y2="259.4" stroke="#d8c048" stroke-width="1.7"/>
<line x1="815.3" y1="266.4" x2="827.9" y2="265.6" stroke="#6878c8" stroke-width="1.2" opacity="0.7"/>
<line x1="815.3" y1="264.6" x2="827.9" y2="263.8" stroke="#d8c048" stroke-width="1.7"/>
<line x1="814.9" y1="270.8" x2="827.5" y2="270.0" stroke="#6878c8" stroke-width="1.2" opacity="0.7"/>
<line x1="814.9" y1="269.0" x2="827.5" y2="268.2" stroke="#d8c048" stroke-width="1.7"/>
<line x1="814.4" y1="275.2" x2="827.1" y2="274.4" stroke="#6878c8" stroke-width="1.2" opacity="0.7"/>
<line x1="814.4" y1="273.4" x2="827.1" y2="272.6" stroke="#d8c048" stroke-width="1.7"/>
<line x1="813.9" y1="279.5" x2="826.7" y2="278.8" stroke="#6878c8" stroke-width="1.2" opacity="0.7"/>
<line x1="813.9" y1="277.7" x2="826.7" y2="277.0" stroke="#d8c048" stroke-width="1.7"/>
<line x1="813.5" y1="283.9" x2="826.4" y2="283.2" stroke="#6878c8" stroke-width="1.2" opacity="0.7"/>
<line x1="813.5" y1="282.1" x2="826.4" y2="281.4" stroke="#d8c048" stroke-width="1.7"/>
<line x1="813.0" y1="288.3" x2="826.0" y2="287.6" stroke="#6878c8" stroke-width="1.2" opacity="0.7"/>
<line x1="813.0" y1="286.5" x2="826.0" y2="285.8" stroke="#d8c048" stroke-width="1.7"/>
<line x1="812.6" y1="292.7" x2="825.6" y2="292.0" stroke="#6878c8" stroke-width="1.2" opacity="0.7"/>
<line x1="812.6" y1="290.9" x2="825.6" y2="290.2" stroke="#d8c048" stroke-width="1.7"/>
<line x1="812.1" y1="297.1" x2="825.3" y2="296.4" stroke="#6878c8" stroke-width="1.2" opacity="0.7"/>
<line x1="812.1" y1="295.3" x2="825.3" y2="294.6" stroke="#d8c048" stroke-width="1.7"/>
<line x1="811.7" y1="301.5" x2="824.9" y2="300.8" stroke="#6878c8" stroke-width="1.2" opacity="0.7"/>
<line x1="811.7" y1="299.7" x2="824.9" y2="299.0" stroke="#d8c048" stroke-width="1.7"/>
<line x1="811.2" y1="305.9" x2="824.6" y2="305.2" stroke="#6878c8" stroke-width="1.2" opacity="0.7"/>
<line x1="811.2" y1="304.1" x2="824.6" y2="303.4" stroke="#d8c048" stroke-width="1.7"/>
<line x1="810.8" y1="310.2" x2="824.2" y2="309.6" stroke="#6878c8" stroke-width="1.2" opacity="0.7"/>
<line x1="810.8" y1="308.4" x2="824.2" y2="307.8" stroke="#d8c048" stroke-width="1.7"/>
<line x1="810.3" y1="314.6" x2="823.8" y2="314.0" stroke="#6878c8" stroke-width="1.2" opacity="0.7"/>
<line x1="810.3" y1="312.8" x2="823.8" y2="312.2" stroke="#d8c048" stroke-width="1.7"/>
<line x1="809.9" y1="319.0" x2="823.5" y2="318.4" stroke="#6878c8" stroke-width="1.2" opacity="0.7"/>
<line x1="809.9" y1="317.2" x2="823.5" y2="316.6" stroke="#d8c048" stroke-width="1.7"/>
<line x1="809.4" y1="323.4" x2="823.1" y2="322.8" stroke="#6878c8" stroke-width="1.2" opacity="0.7"/>
<line x1="809.4" y1="321.6" x2="823.1" y2="321.0" stroke="#d8c048" stroke-width="1.7"/>
<line x1="846.5" y1="218.5" x2="858.0" y2="217.6" stroke="#6878c8" stroke-width="1.2" opacity="0.7"/>
<line x1="846.5" y1="216.7" x2="858.0" y2="215.8" stroke="#d8c048" stroke-width="1.7"/>
<line x1="846.2" y1="222.9" x2="857.8" y2="222.0" stroke="#6878c8" stroke-width="1.2" opacity="0.7"/>
<line x1="846.2" y1="221.1" x2="857.8" y2="220.2" stroke="#d8c048" stroke-width="1.7"/>
<line x1="845.9" y1="227.3" x2="857.6" y2="226.4" stroke="#6878c8" stroke-width="1.2" opacity="0.7"/>
<line x1="845.9" y1="225.5" x2="857.6" y2="224.6" stroke="#d8c048" stroke-width="1.7"/>
<line x1="845.6" y1="231.7" x2="857.5" y2="230.8" stroke="#6878c8" stroke-width="1.2" opacity="0.7"/>
<line x1="845.6" y1="229.9" x2="857.5" y2="229.0" stroke="#d8c048" stroke-width="1.7"/>
<line x1="845.4" y1="236.1" x2="857.3" y2="235.2" stroke="#6878c8" stroke-width="1.2" opacity="0.7"/>
<line x1="845.4" y1="234.3" x2="857.3" y2="233.4" stroke="#d8c048" stroke-width="1.7"/>
<line x1="845.1" y1="240.5" x2="857.1" y2="239.7" stroke="#6878c8" stroke-width="1.2" opacity="0.7"/>
<line x1="845.1" y1="238.7" x2="857.1" y2="237.9" stroke="#d8c048" stroke-width="1.7"/>
<line x1="844.8" y1="244.9" x2="856.9" y2="244.1" stroke="#6878c8" stroke-width="1.2" opacity="0.7"/>
<line x1="844.8" y1="243.1" x2="856.9" y2="242.3" stroke="#d8c048" stroke-width="1.7"/>
<line x1="844.5" y1="249.3" x2="856.7" y2="248.5" stroke="#6878c8" stroke-width="1.2" opacity="0.7"/>
<line x1="844.5" y1="247.5" x2="856.7" y2="246.7" stroke="#d8c048" stroke-width="1.7"/>
<line x1="844.2" y1="253.7" x2="856.5" y2="252.9" stroke="#6878c8" stroke-width="1.2" opacity="0.7"/>
<line x1="844.2" y1="251.9" x2="856.5" y2="251.1" stroke="#d8c048" stroke-width="1.7"/>
<line x1="844.0" y1="258.1" x2="856.3" y2="257.3" stroke="#6878c8" stroke-width="1.2" opacity="0.7"/>
<line x1="844.0" y1="256.3" x2="856.3" y2="255.5" stroke="#d8c048" stroke-width="1.7"/>
<line x1="843.7" y1="262.5" x2="856.1" y2="261.7" stroke="#6878c8" stroke-width="1.2" opacity="0.7"/>
<line x1="843.7" y1="260.7" x2="856.1" y2="259.9" stroke="#d8c048" stroke-width="1.7"/>
<line x1="843.4" y1="266.9" x2="856.0" y2="266.2" stroke="#6878c8" stroke-width="1.2" opacity="0.7"/>
<line x1="843.4" y1="265.1" x2="856.0" y2="264.4" stroke="#d8c048" stroke-width="1.7"/>
<line x1="843.2" y1="271.3" x2="855.8" y2="270.6" stroke="#6878c8" stroke-width="1.2" opacity="0.7"/>
<line x1="843.2" y1="269.5" x2="855.8" y2="268.8" stroke="#d8c048" stroke-width="1.7"/>
<line x1="842.9" y1="275.7" x2="855.6" y2="275.0" stroke="#6878c8" stroke-width="1.2" opacity="0.7"/>
<line x1="842.9" y1="273.9" x2="855.6" y2="273.2" stroke="#d8c048" stroke-width="1.7"/>
<line x1="842.6" y1="280.1" x2="855.4" y2="279.4" stroke="#6878c8" stroke-width="1.2" opacity="0.7"/>
<line x1="842.6" y1="278.3" x2="855.4" y2="277.6" stroke="#d8c048" stroke-width="1.7"/>
<line x1="842.4" y1="284.6" x2="855.3" y2="283.8" stroke="#6878c8" stroke-width="1.2" opacity="0.7"/>
<line x1="842.4" y1="282.8" x2="855.3" y2="282.0" stroke="#d8c048" stroke-width="1.7"/>
<line x1="842.1" y1="289.0" x2="855.1" y2="288.2" stroke="#6878c8" stroke-width="1.2" opacity="0.7"/>
<line x1="842.1" y1="287.2" x2="855.1" y2="286.4" stroke="#d8c048" stroke-width="1.7"/>
<line x1="841.9" y1="293.4" x2="854.9" y2="292.7" stroke="#6878c8" stroke-width="1.2" opacity="0.7"/>
<line x1="841.9" y1="291.6" x2="854.9" y2="290.9" stroke="#d8c048" stroke-width="1.7"/>
<line x1="841.6" y1="297.8" x2="854.8" y2="297.1" stroke="#6878c8" stroke-width="1.2" opacity="0.7"/>
<line x1="841.6" y1="296.0" x2="854.8" y2="295.3" stroke="#d8c048" stroke-width="1.7"/>
<line x1="841.4" y1="302.2" x2="854.6" y2="301.5" stroke="#6878c8" stroke-width="1.2" opacity="0.7"/>
<line x1="841.4" y1="300.4" x2="854.6" y2="299.7" stroke="#d8c048" stroke-width="1.7"/>
<line x1="841.1" y1="306.6" x2="854.5" y2="305.9" stroke="#6878c8" stroke-width="1.2" opacity="0.7"/>
<line x1="841.1" y1="304.8" x2="854.5" y2="304.1" stroke="#d8c048" stroke-width="1.7"/>
<line x1="840.9" y1="311.0" x2="854.3" y2="310.3" stroke="#6878c8" stroke-width="1.2" opacity="0.7"/>
<line x1="840.9" y1="309.2" x2="854.3" y2="308.5" stroke="#d8c048" stroke-width="1.7"/>
<line x1="840.6" y1="315.4" x2="854.2" y2="314.8" stroke="#6878c8" stroke-width="1.2" opacity="0.7"/>
<line x1="840.6" y1="313.6" x2="854.2" y2="313.0" stroke="#d8c048" stroke-width="1.7"/>
<line x1="840.4" y1="319.8" x2="854.0" y2="319.2" stroke="#6878c8" stroke-width="1.2" opacity="0.7"/>
<line x1="840.4" y1="318.0" x2="854.0" y2="317.4" stroke="#d8c048" stroke-width="1.7"/>
<line x1="840.2" y1="324.2" x2="853.9" y2="323.6" stroke="#6878c8" stroke-width="1.2" opacity="0.7"/>
<line x1="840.2" y1="322.4" x2="853.9" y2="321.8" stroke="#d8c048" stroke-width="1.7"/>
<line x1="872.4" y1="218.8" x2="883.9" y2="217.9" stroke="#6878c8" stroke-width="1.2" opacity="0.7"/>
<line x1="872.4" y1="217.0" x2="883.9" y2="216.1" stroke="#d8c048" stroke-width="1.7"/>
<line x1="872.3" y1="223.2" x2="883.9" y2="222.3" stroke="#6878c8" stroke-width="1.2" opacity="0.7"/>
<line x1="872.3" y1="221.4" x2="883.9" y2="220.5" stroke="#d8c048" stroke-width="1.7"/>
<line x1="872.2" y1="227.6" x2="883.9" y2="226.8" stroke="#6878c8" stroke-width="1.2" opacity="0.7"/>
<line x1="872.2" y1="225.8" x2="883.9" y2="225.0" stroke="#d8c048" stroke-width="1.7"/>
<line x1="872.1" y1="232.0" x2="883.9" y2="231.2" stroke="#6878c8" stroke-width="1.2" opacity="0.7"/>
<line x1="872.1" y1="230.2" x2="883.9" y2="229.4" stroke="#d8c048" stroke-width="1.7"/>
<line x1="872.0" y1="236.5" x2="883.9" y2="235.6" stroke="#6878c8" stroke-width="1.2" opacity="0.7"/>
<line x1="872.0" y1="234.7" x2="883.9" y2="233.8" stroke="#d8c048" stroke-width="1.7"/>
<line x1="872.0" y1="240.9" x2="883.9" y2="240.1" stroke="#6878c8" stroke-width="1.2" opacity="0.7"/>
<line x1="872.0" y1="239.1" x2="883.9" y2="238.3" stroke="#d8c048" stroke-width="1.7"/>
<line x1="871.9" y1="245.3" x2="884.0" y2="244.5" stroke="#6878c8" stroke-width="1.2" opacity="0.7"/>
<line x1="871.9" y1="243.5" x2="884.0" y2="242.7" stroke="#d8c048" stroke-width="1.7"/>
<line x1="871.8" y1="249.7" x2="884.0" y2="248.9" stroke="#6878c8" stroke-width="1.2" opacity="0.7"/>
<line x1="871.8" y1="247.9" x2="884.0" y2="247.1" stroke="#d8c048" stroke-width="1.7"/>
<line x1="871.7" y1="254.2" x2="884.0" y2="253.4" stroke="#6878c8" stroke-width="1.2" opacity="0.7"/>
<line x1="871.7" y1="252.4" x2="884.0" y2="251.6" stroke="#d8c048" stroke-width="1.7"/>
<line x1="871.7" y1="258.6" x2="884.0" y2="257.8" stroke="#6878c8" stroke-width="1.2" opacity="0.7"/>
<line x1="871.7" y1="256.8" x2="884.0" y2="256.0" stroke="#d8c048" stroke-width="1.7"/>
<line x1="871.6" y1="263.0" x2="884.0" y2="262.3" stroke="#6878c8" stroke-width="1.2" opacity="0.7"/>
<line x1="871.6" y1="261.2" x2="884.0" y2="260.5" stroke="#d8c048" stroke-width="1.7"/>
<line x1="871.5" y1="267.5" x2="884.1" y2="266.7" stroke="#6878c8" stroke-width="1.2" opacity="0.7"/>
<line x1="871.5" y1="265.7" x2="884.1" y2="264.9" stroke="#d8c048" stroke-width="1.7"/>
<line x1="871.5" y1="271.9" x2="884.1" y2="271.1" stroke="#6878c8" stroke-width="1.2" opacity="0.7"/>
<line x1="871.5" y1="270.1" x2="884.1" y2="269.3" stroke="#d8c048" stroke-width="1.7"/>
<line x1="871.4" y1="276.3" x2="884.1" y2="275.6" stroke="#6878c8" stroke-width="1.2" opacity="0.7"/>
<line x1="871.4" y1="274.5" x2="884.1" y2="273.8" stroke="#d8c048" stroke-width="1.7"/>
<line x1="871.3" y1="280.7" x2="884.1" y2="280.0" stroke="#6878c8" stroke-width="1.2" opacity="0.7"/>
<line x1="871.3" y1="278.9" x2="884.1" y2="278.2" stroke="#d8c048" stroke-width="1.7"/>
<line x1="871.3" y1="285.2" x2="884.2" y2="284.5" stroke="#6878c8" stroke-width="1.2" opacity="0.7"/>
<line x1="871.3" y1="283.4" x2="884.2" y2="282.7" stroke="#d8c048" stroke-width="1.7"/>
<line x1="871.2" y1="289.6" x2="884.2" y2="288.9" stroke="#6878c8" stroke-width="1.2" opacity="0.7"/>
<line x1="871.2" y1="287.8" x2="884.2" y2="287.1" stroke="#d8c048" stroke-width="1.7"/>
<line x1="871.2" y1="294.0" x2="884.3" y2="293.3" stroke="#6878c8" stroke-width="1.2" opacity="0.7"/>
<line x1="871.2" y1="292.2" x2="884.3" y2="291.5" stroke="#d8c048" stroke-width="1.7"/>
<line x1="871.1" y1="298.5" x2="884.3" y2="297.8" stroke="#6878c8" stroke-width="1.2" opacity="0.7"/>
<line x1="871.1" y1="296.7" x2="884.3" y2="296.0" stroke="#d8c048" stroke-width="1.7"/>
<line x1="871.1" y1="302.9" x2="884.3" y2="302.2" stroke="#6878c8" stroke-width="1.2" opacity="0.7"/>
<line x1="871.1" y1="301.1" x2="884.3" y2="300.4" stroke="#d8c048" stroke-width="1.7"/>
<line x1="871.0" y1="307.3" x2="884.4" y2="306.7" stroke="#6878c8" stroke-width="1.2" opacity="0.7"/>
<line x1="871.0" y1="305.5" x2="884.4" y2="304.9" stroke="#d8c048" stroke-width="1.7"/>
<line x1="871.0" y1="311.8" x2="884.4" y2="311.1" stroke="#6878c8" stroke-width="1.2" opacity="0.7"/>
<line x1="871.0" y1="310.0" x2="884.4" y2="309.3" stroke="#d8c048" stroke-width="1.7"/>
<line x1="871.0" y1="316.2" x2="884.5" y2="315.5" stroke="#6878c8" stroke-width="1.2" opacity="0.7"/>
<line x1="871.0" y1="314.4" x2="884.5" y2="313.7" stroke="#d8c048" stroke-width="1.7"/>
<line x1="870.9" y1="320.6" x2="884.5" y2="320.0" stroke="#6878c8" stroke-width="1.2" opacity="0.7"/>
<line x1="870.9" y1="318.8" x2="884.5" y2="318.2" stroke="#d8c048" stroke-width="1.7"/>
<line x1="870.9" y1="325.1" x2="884.6" y2="324.4" stroke="#6878c8" stroke-width="1.2" opacity="0.7"/>
<line x1="870.9" y1="323.3" x2="884.6" y2="322.6" stroke="#d8c048" stroke-width="1.7"/>
<line x1="898.2" y1="219.1" x2="909.8" y2="218.2" stroke="#6878c8" stroke-width="1.2" opacity="0.7"/>
<line x1="898.2" y1="217.3" x2="909.8" y2="216.4" stroke="#d8c048" stroke-width="1.7"/>
<line x1="898.3" y1="223.5" x2="910.0" y2="222.6" stroke="#6878c8" stroke-width="1.2" opacity="0.7"/>
<line x1="898.3" y1="221.7" x2="910.0" y2="220.8" stroke="#d8c048" stroke-width="1.7"/>
<line x1="898.5" y1="228.0" x2="910.2" y2="227.1" stroke="#6878c8" stroke-width="1.2" opacity="0.7"/>
<line x1="898.5" y1="226.2" x2="910.2" y2="225.3" stroke="#d8c048" stroke-width="1.7"/>
<line x1="898.6" y1="232.4" x2="910.4" y2="231.6" stroke="#6878c8" stroke-width="1.2" opacity="0.7"/>
<line x1="898.6" y1="230.6" x2="910.4" y2="229.8" stroke="#d8c048" stroke-width="1.7"/>
<line x1="898.7" y1="236.9" x2="910.6" y2="236.0" stroke="#6878c8" stroke-width="1.2" opacity="0.7"/>
<line x1="898.7" y1="235.1" x2="910.6" y2="234.2" stroke="#d8c048" stroke-width="1.7"/>
<line x1="898.8" y1="241.3" x2="910.8" y2="240.5" stroke="#6878c8" stroke-width="1.2" opacity="0.7"/>
<line x1="898.8" y1="239.5" x2="910.8" y2="238.7" stroke="#d8c048" stroke-width="1.7"/>
<line x1="899.0" y1="245.7" x2="911.0" y2="244.9" stroke="#6878c8" stroke-width="1.2" opacity="0.7"/>
<line x1="899.0" y1="243.9" x2="911.0" y2="243.1" stroke="#d8c048" stroke-width="1.7"/>
<line x1="899.1" y1="250.2" x2="911.2" y2="249.4" stroke="#6878c8" stroke-width="1.2" opacity="0.7"/>
<line x1="899.1" y1="248.4" x2="911.2" y2="247.6" stroke="#d8c048" stroke-width="1.7"/>
<line x1="899.2" y1="254.6" x2="911.5" y2="253.9" stroke="#6878c8" stroke-width="1.2" opacity="0.7"/>
<line x1="899.2" y1="252.8" x2="911.5" y2="252.1" stroke="#d8c048" stroke-width="1.7"/>
<line x1="899.3" y1="259.1" x2="911.7" y2="258.3" stroke="#6878c8" stroke-width="1.2" opacity="0.7"/>
<line x1="899.3" y1="257.3" x2="911.7" y2="256.5" stroke="#d8c048" stroke-width="1.7"/>
<line x1="899.5" y1="263.6" x2="911.9" y2="262.8" stroke="#6878c8" stroke-width="1.2" opacity="0.7"/>
<line x1="899.5" y1="261.8" x2="911.9" y2="261.0" stroke="#d8c048" stroke-width="1.7"/>
<line x1="899.6" y1="268.0" x2="912.1" y2="267.2" stroke="#6878c8" stroke-width="1.2" opacity="0.7"/>
<line x1="899.6" y1="266.2" x2="912.1" y2="265.4" stroke="#d8c048" stroke-width="1.7"/>
<line x1="899.8" y1="272.5" x2="912.4" y2="271.7" stroke="#6878c8" stroke-width="1.2" opacity="0.7"/>
<line x1="899.8" y1="270.7" x2="912.4" y2="269.9" stroke="#d8c048" stroke-width="1.7"/>
<line x1="899.9" y1="276.9" x2="912.6" y2="276.2" stroke="#6878c8" stroke-width="1.2" opacity="0.7"/>
<line x1="899.9" y1="275.1" x2="912.6" y2="274.4" stroke="#d8c048" stroke-width="1.7"/>
<line x1="900.0" y1="281.4" x2="912.8" y2="280.6" stroke="#6878c8" stroke-width="1.2" opacity="0.7"/>
<line x1="900.0" y1="279.6" x2="912.8" y2="278.8" stroke="#d8c048" stroke-width="1.7"/>
<line x1="900.2" y1="285.8" x2="913.1" y2="285.1" stroke="#6878c8" stroke-width="1.2" opacity="0.7"/>
<line x1="900.2" y1="284.0" x2="913.1" y2="283.3" stroke="#d8c048" stroke-width="1.7"/>
<line x1="900.3" y1="290.3" x2="913.3" y2="289.5" stroke="#6878c8" stroke-width="1.2" opacity="0.7"/>
<line x1="900.3" y1="288.5" x2="913.3" y2="287.7" stroke="#d8c048" stroke-width="1.7"/>
<line x1="900.5" y1="294.7" x2="913.6" y2="294.0" stroke="#6878c8" stroke-width="1.2" opacity="0.7"/>
<line x1="900.5" y1="292.9" x2="913.6" y2="292.2" stroke="#d8c048" stroke-width="1.7"/>
<line x1="900.6" y1="299.2" x2="913.8" y2="298.5" stroke="#6878c8" stroke-width="1.2" opacity="0.7"/>
<line x1="900.6" y1="297.4" x2="913.8" y2="296.7" stroke="#d8c048" stroke-width="1.7"/>
<line x1="900.8" y1="303.6" x2="914.1" y2="302.9" stroke="#6878c8" stroke-width="1.2" opacity="0.7"/>
<line x1="900.8" y1="301.8" x2="914.1" y2="301.1" stroke="#d8c048" stroke-width="1.7"/>
<line x1="901.0" y1="308.1" x2="914.3" y2="307.4" stroke="#6878c8" stroke-width="1.2" opacity="0.7"/>
<line x1="901.0" y1="306.3" x2="914.3" y2="305.6" stroke="#d8c048" stroke-width="1.7"/>
<line x1="901.1" y1="312.5" x2="914.6" y2="311.9" stroke="#6878c8" stroke-width="1.2" opacity="0.7"/>
<line x1="901.1" y1="310.7" x2="914.6" y2="310.1" stroke="#d8c048" stroke-width="1.7"/>
<line x1="901.3" y1="317.0" x2="914.8" y2="316.3" stroke="#6878c8" stroke-width="1.2" opacity="0.7"/>
<line x1="901.3" y1="315.2" x2="914.8" y2="314.5" stroke="#d8c048" stroke-width="1.7"/>
<line x1="901.5" y1="321.4" x2="915.1" y2="320.8" stroke="#6878c8" stroke-width="1.2" opacity="0.7"/>
<line x1="901.5" y1="319.6" x2="915.1" y2="319.0" stroke="#d8c048" stroke-width="1.7"/>
<line x1="901.6" y1="325.9" x2="915.3" y2="325.3" stroke="#6878c8" stroke-width="1.2" opacity="0.7"/>
<line x1="901.6" y1="324.1" x2="915.3" y2="323.5" stroke="#d8c048" stroke-width="1.7"/>
<line x1="924.1" y1="219.4" x2="935.6" y2="218.5" stroke="#6878c8" stroke-width="1.2" opacity="0.7"/>
<line x1="924.1" y1="217.6" x2="935.6" y2="216.7" stroke="#d8c048" stroke-width="1.7"/>
<line x1="924.4" y1="223.8" x2="936.0" y2="223.0" stroke="#6878c8" stroke-width="1.2" opacity="0.7"/>
<line x1="924.4" y1="222.0" x2="936.0" y2="221.2" stroke="#d8c048" stroke-width="1.7"/>
<line x1="924.7" y1="228.3" x2="936.4" y2="227.5" stroke="#6878c8" stroke-width="1.2" opacity="0.7"/>
<line x1="924.7" y1="226.5" x2="936.4" y2="225.7" stroke="#d8c048" stroke-width="1.7"/>
<line x1="925.0" y1="232.8" x2="936.9" y2="231.9" stroke="#6878c8" stroke-width="1.2" opacity="0.7"/>
<line x1="925.0" y1="231.0" x2="936.9" y2="230.1" stroke="#d8c048" stroke-width="1.7"/>
<line x1="925.4" y1="237.2" x2="937.3" y2="236.4" stroke="#6878c8" stroke-width="1.2" opacity="0.7"/>
<line x1="925.4" y1="235.4" x2="937.3" y2="234.6" stroke="#d8c048" stroke-width="1.7"/>
<line x1="925.7" y1="241.7" x2="937.7" y2="240.9" stroke="#6878c8" stroke-width="1.2" opacity="0.7"/>
<line x1="925.7" y1="239.9" x2="937.7" y2="239.1" stroke="#d8c048" stroke-width="1.7"/>
<line x1="926.0" y1="246.2" x2="938.1" y2="245.4" stroke="#6878c8" stroke-width="1.2" opacity="0.7"/>
<line x1="926.0" y1="244.4" x2="938.1" y2="243.6" stroke="#d8c048" stroke-width="1.7"/>
<line x1="926.4" y1="250.7" x2="938.5" y2="249.9" stroke="#6878c8" stroke-width="1.2" opacity="0.7"/>
<line x1="926.4" y1="248.9" x2="938.5" y2="248.1" stroke="#d8c048" stroke-width="1.7"/>
<line x1="926.7" y1="255.1" x2="939.0" y2="254.3" stroke="#6878c8" stroke-width="1.2" opacity="0.7"/>
<line x1="926.7" y1="253.3" x2="939.0" y2="252.5" stroke="#d8c048" stroke-width="1.7"/>
<line x1="927.0" y1="259.6" x2="939.4" y2="258.8" stroke="#6878c8" stroke-width="1.2" opacity="0.7"/>
<line x1="927.0" y1="257.8" x2="939.4" y2="257.0" stroke="#d8c048" stroke-width="1.7"/>
<line x1="927.4" y1="264.1" x2="939.8" y2="263.3" stroke="#6878c8" stroke-width="1.2" opacity="0.7"/>
<line x1="927.4" y1="262.3" x2="939.8" y2="261.5" stroke="#d8c048" stroke-width="1.7"/>
<line x1="927.7" y1="268.5" x2="940.2" y2="267.8" stroke="#6878c8" stroke-width="1.2" opacity="0.7"/>
<line x1="927.7" y1="266.7" x2="940.2" y2="266.0" stroke="#d8c048" stroke-width="1.7"/>
<line x1="928.1" y1="273.0" x2="940.7" y2="272.3" stroke="#6878c8" stroke-width="1.2" opacity="0.7"/>
<line x1="928.1" y1="271.2" x2="940.7" y2="270.5" stroke="#d8c048" stroke-width="1.7"/>
<line x1="928.4" y1="277.5" x2="941.1" y2="276.7" stroke="#6878c8" stroke-width="1.2" opacity="0.7"/>
<line x1="928.4" y1="275.7" x2="941.1" y2="274.9" stroke="#d8c048" stroke-width="1.7"/>
<line x1="928.7" y1="282.0" x2="941.5" y2="281.2" stroke="#6878c8" stroke-width="1.2" opacity="0.7"/>
<line x1="928.7" y1="280.2" x2="941.5" y2="279.4" stroke="#d8c048" stroke-width="1.7"/>
<line x1="929.1" y1="286.4" x2="942.0" y2="285.7" stroke="#6878c8" stroke-width="1.2" opacity="0.7"/>
<line x1="929.1" y1="284.6" x2="942.0" y2="283.9" stroke="#d8c048" stroke-width="1.7"/>
<line x1="929.4" y1="290.9" x2="942.4" y2="290.2" stroke="#6878c8" stroke-width="1.2" opacity="0.7"/>
<line x1="929.4" y1="289.1" x2="942.4" y2="288.4" stroke="#d8c048" stroke-width="1.7"/>
<line x1="929.8" y1="295.4" x2="942.9" y2="294.7" stroke="#6878c8" stroke-width="1.2" opacity="0.7"/>
<line x1="929.8" y1="293.6" x2="942.9" y2="292.9" stroke="#d8c048" stroke-width="1.7"/>
<line x1="930.2" y1="299.9" x2="943.3" y2="299.2" stroke="#6878c8" stroke-width="1.2" opacity="0.7"/>
<line x1="930.2" y1="298.1" x2="943.3" y2="297.4" stroke="#d8c048" stroke-width="1.7"/>
<line x1="930.5" y1="304.3" x2="943.8" y2="303.7" stroke="#6878c8" stroke-width="1.2" opacity="0.7"/>
<line x1="930.5" y1="302.5" x2="943.8" y2="301.9" stroke="#d8c048" stroke-width="1.7"/>
<line x1="930.9" y1="308.8" x2="944.2" y2="308.1" stroke="#6878c8" stroke-width="1.2" opacity="0.7"/>
<line x1="930.9" y1="307.0" x2="944.2" y2="306.3" stroke="#d8c048" stroke-width="1.7"/>
<line x1="931.2" y1="313.3" x2="944.7" y2="312.6" stroke="#6878c8" stroke-width="1.2" opacity="0.7"/>
<line x1="931.2" y1="311.5" x2="944.7" y2="310.8" stroke="#d8c048" stroke-width="1.7"/>
<line x1="931.6" y1="317.8" x2="945.1" y2="317.1" stroke="#6878c8" stroke-width="1.2" opacity="0.7"/>
<line x1="931.6" y1="316.0" x2="945.1" y2="315.3" stroke="#d8c048" stroke-width="1.7"/>
<line x1="932.0" y1="322.2" x2="945.6" y2="321.6" stroke="#6878c8" stroke-width="1.2" opacity="0.7"/>
<line x1="932.0" y1="320.4" x2="945.6" y2="319.8" stroke="#d8c048" stroke-width="1.7"/>
<line x1="932.3" y1="326.7" x2="946.1" y2="326.1" stroke="#6878c8" stroke-width="1.2" opacity="0.7"/>
<line x1="932.3" y1="324.9" x2="946.1" y2="324.3" stroke="#d8c048" stroke-width="1.7"/>
<path d="M761 214.8 L963 216.9 M744.4 324.8 L773.3 207.8 M738.4 324.2 L970.8 330.2 M954 210 L969.3 337 M750 269.2 L758 269.2 M826.4 327.8 L826.4 334 M904.6 329.8 L904.6 336" stroke="#fff" stroke-width="1.6" fill="none"/>
<text x="717" y="219.3" font-size="16" font-weight="bold" fill="#fff" text-anchor="start" textLength="42.6" lengthAdjust="spacingAndGlyphs" >524.9</text>
<text x="723.2" y="274" font-size="16" font-weight="bold" fill="#fff" text-anchor="start" textLength="26.4" lengthAdjust="spacingAndGlyphs" >250</text>
<text x="732.3" y="344.5" font-size="16" font-weight="bold" fill="#fff" text-anchor="start" textLength="33.4" lengthAdjust="spacingAndGlyphs" >0μm</text>
<text x="812.8" y="348.6" font-size="16" font-weight="bold" fill="#fff" text-anchor="start" textLength="28.9" lengthAdjust="spacingAndGlyphs" >250</text>
<text x="890.3" y="348.8" font-size="16" font-weight="bold" fill="#fff" text-anchor="start" textLength="27.4" lengthAdjust="spacingAndGlyphs" >500</text>
<text x="954" y="353" font-size="16" font-weight="bold" fill="#fff" text-anchor="start" textLength="42.7" lengthAdjust="spacingAndGlyphs" >700.2</text>
<path d="M866.6 215.1 L866.6 275.2 L952.5 275.2 M952.5 215.5 L952.5 275.2 M863 226.8 L866.6 226.8 M863 242.9 L866.6 242.9 M863 258.8 L866.6 258.8 M863 274.7 L866.6 274.7 M886.5 275.2 L886.5 277.5 M908.9 275.2 L908.9 277.5 M931.2 275.2 L931.2 277.5" stroke="#000" stroke-width="1" fill="none"/>
<polyline points="866.8,240.7 868.3,223.2 872.5,272.2 876.7,223.2 880.9,272.2 885.1,223.2 889.2,272.2 893.4,223.2 897.6,272.2 901.8,223.2 906.0,272.2 910.2,223.2 914.4,272.2 918.6,223.2 922.8,272.2 927.0,223.2 931.1,272.2 935.3,223.2 939.5,272.2 943.7,223.2 947.9,272.2 952.0,224.4" stroke="#ff0000" stroke-width="1.2" fill="none"/>
<text x="862.5" y="229.10000000000002" font-size="6.5" font-weight="bold" fill="#000" text-anchor="end">210</text>
<text x="862.5" y="245.20000000000002" font-size="6.5" font-weight="bold" fill="#000" text-anchor="end">140</text>
<text x="862.5" y="261.1" font-size="6.5" font-weight="bold" fill="#000" text-anchor="end">70</text>
<text x="862.5" y="277.0" font-size="6.5" font-weight="bold" fill="#000" text-anchor="end">0</text>
<text x="865.8" y="282.5" font-size="6.5" font-weight="bold" fill="#000" text-anchor="middle">0</text>
<text x="886.5" y="282.5" font-size="6.5" font-weight="bold" fill="#000" text-anchor="middle">50</text>
<text x="908.9" y="282.5" font-size="6.5" font-weight="bold" fill="#000" text-anchor="middle">100</text>
<text x="931.2" y="282.5" font-size="6.5" font-weight="bold" fill="#000" text-anchor="middle">150</text>
<text x="953.3" y="282.5" font-size="6.5" font-weight="bold" fill="#000" text-anchor="middle">200</text>
<text x="885.1" y="288.8" font-size="7" font-weight="bold" fill="#000" textLength="46.8" lengthAdjust="spacingAndGlyphs">Distance(μm)</text>
<text transform="translate(849.8,278.3) rotate(-90)" font-size="7.5" font-weight="bold" fill="#000" textLength="62.4" lengthAdjust="spacingAndGlyphs">Heigh to fline(nm)</text>
<text transform="translate(783.5,300.8) rotate(-90)" font-size="19" font-weight="bold" fill="#000" textLength="31.8" lengthAdjust="spacingAndGlyphs">line</text>
<line x1="794.4" y1="267.3" x2="790.4" y2="310.8" stroke="#e02020" stroke-width="1.5"/>
<text x="1011.9" y="210.6" font-size="27.6" font-weight="bold" fill="#000" text-anchor="start" textLength="33.6" lengthAdjust="spacingAndGlyphs" >(e)</text>
<rect x="1051" y="196.2" width="260.9" height="162.5" fill="#000"/>
<defs><linearGradient id="eg" gradientUnits="userSpaceOnUse" x1="784.8" y1="-440.1" x2="858.9" y2="-481.7"><stop offset="0.000" stop-color="#8a5414"/><stop offset="0.094" stop-color="#3e1c02"/><stop offset="0.176" stop-color="#b07830"/><stop offset="0.247" stop-color="#e0ac58"/><stop offset="0.329" stop-color="#9a6020"/><stop offset="0.400" stop-color="#3e1c02"/><stop offset="0.471" stop-color="#b07830"/><stop offset="0.541" stop-color="#dca854"/><stop offset="0.612" stop-color="#9a6020"/><stop offset="0.682" stop-color="#3e1c02"/><stop offset="0.741" stop-color="#a86e28"/><stop offset="0.812" stop-color="#d09c4c"/><stop offset="0.882" stop-color="#8a5014"/><stop offset="1.000" stop-color="#3a1800"/></linearGradient></defs>
<defs><clipPath id="esurf"><polygon points="1098.5,233.0 1140.0,233.0 1160.0,230.0 1168.0,226.0 1175.0,224.5 1184.0,227.0 1192.0,231.0 1198.0,228.0 1205.0,225.5 1213.0,228.0 1222.0,232.0 1230.0,227.0 1239.0,223.5 1250.0,226.0 1260.0,228.0 1262.0,232.0 1268.0,260.0 1276.0,308.0 1268.0,312.0 1258.0,316.0 1245.0,312.0 1232.0,318.0 1220.0,314.0 1205.0,318.0 1190.0,321.0 1170.0,325.0 1150.0,328.0 1130.0,331.0 1114.0,333.0"/></clipPath><linearGradient id="emaskg" gradientUnits="userSpaceOnUse" x1="1160" y1="0" x2="1205" y2="0"><stop offset="0" stop-color="#fff"/><stop offset="0.3" stop-color="#fff"/><stop offset="1" stop-color="#000"/></linearGradient><mask id="emask" maskUnits="userSpaceOnUse" x="1050" y="190" width="270" height="170"><rect x="1050" y="190" width="270" height="170" fill="url(#emaskg)"/></mask></defs>
<polygon points="1098.5,233.0 1140.0,233.0 1160.0,230.0 1168.0,226.0 1175.0,224.5 1184.0,227.0 1192.0,231.0 1198.0,228.0 1205.0,225.5 1213.0,228.0 1222.0,232.0 1230.0,227.0 1239.0,223.5 1250.0,226.0 1260.0,228.0 1262.0,232.0 1268.0,260.0 1276.0,308.0 1268.0,312.0 1258.0,316.0 1245.0,312.0 1232.0,318.0 1220.0,314.0 1205.0,318.0 1190.0,321.0 1170.0,325.0 1150.0,328.0 1130.0,331.0 1114.0,333.0" fill="url(#eg)"/>
<g clip-path="url(#esurf)"><g mask="url(#emask)">
<defs><linearGradient id="er0" gradientUnits="userSpaceOnUse" x1="0" y1="214.1" x2="0" y2="238.1" gradientTransform="skewY(1.06)"><stop offset="0" stop-color="#fce8b0"/><stop offset="0.07" stop-color="#f2ca78"/><stop offset="0.3" stop-color="#d49c44"/><stop offset="0.6" stop-color="#a0641c"/><stop offset="0.85" stop-color="#603206"/><stop offset="1" stop-color="#361600"/></linearGradient></defs>
<polygon points="1099.2,234.5 1120.0,234.0 1137.2,233.5 1163.8,231.4 1180.0,236.0 1190.0,245.0 1194.0,259.0 1190.0,271.0 1180.0,260.0 1163.8,255.4 1137.2,257.5 1120.0,258.0 1099.2,258.5" fill="url(#er0)"/>
<defs><linearGradient id="er1" gradientUnits="userSpaceOnUse" x1="0" y1="306.3" x2="0" y2="330.3" gradientTransform="skewY(-2.82)"><stop offset="0" stop-color="#fce8b0"/><stop offset="0.07" stop-color="#f2ca78"/><stop offset="0.3" stop-color="#d49c44"/><stop offset="0.6" stop-color="#a0641c"/><stop offset="0.85" stop-color="#603206"/><stop offset="1" stop-color="#361600"/></linearGradient></defs>
<polygon points="1103.3,251.9 1135.0,250.9 1151.5,242.7 1172.0,241.7 1186.4,247.8 1192.6,258.0 1196.6,272.0 1192.6,284.0 1186.4,271.8 1172.0,265.7 1151.5,266.7 1135.0,274.9 1103.3,275.9" fill="url(#er1)"/>
<defs><linearGradient id="er2" gradientUnits="userSpaceOnUse" x1="0" y1="403.3" x2="0" y2="427.3" gradientTransform="skewY(-6.75)"><stop offset="0" stop-color="#fce8b0"/><stop offset="0.07" stop-color="#f2ca78"/><stop offset="0.3" stop-color="#d49c44"/><stop offset="0.6" stop-color="#a0641c"/><stop offset="0.85" stop-color="#603206"/><stop offset="1" stop-color="#361600"/></linearGradient></defs>
<polygon points="1106.4,272.4 1141.3,270.4 1158.0,264.0 1172.0,261.2 1192.6,262.2 1200.0,268.0 1204.0,282.0 1200.0,294.0 1192.6,286.2 1172.0,285.2 1158.0,288.0 1141.3,294.4 1106.4,296.4" fill="url(#er2)"/>
<defs><linearGradient id="er3" gradientUnits="userSpaceOnUse" x1="0" y1="386.8" x2="0" y2="410.8" gradientTransform="skewY(-4.99)"><stop offset="0" stop-color="#fce8b0"/><stop offset="0.07" stop-color="#f2ca78"/><stop offset="0.3" stop-color="#d49c44"/><stop offset="0.6" stop-color="#a0641c"/><stop offset="0.85" stop-color="#603206"/><stop offset="1" stop-color="#361600"/></linearGradient></defs>
<polygon points="1109.5,289.9 1141.3,284.7 1157.7,280.6 1182.3,278.6 1200.0,282.0 1207.0,288.0 1211.0,302.0 1207.0,314.0 1200.0,306.0 1182.3,302.6 1157.7,304.6 1141.3,308.7 1109.5,313.9" fill="url(#er3)"/>
<defs><linearGradient id="er4" gradientUnits="userSpaceOnUse" x1="0" y1="321.8" x2="0" y2="347.8" gradientTransform="skewY(-0.80)"><stop offset="0" stop-color="#fce8b0"/><stop offset="0.07" stop-color="#f2ca78"/><stop offset="0.3" stop-color="#d49c44"/><stop offset="0.6" stop-color="#a0641c"/><stop offset="0.85" stop-color="#603206"/><stop offset="1" stop-color="#361600"/></linearGradient></defs>
<polygon points="1111.5,306.3 1141.3,303.2 1172.0,296.0 1188.5,299.1 1205.0,305.0 1212.0,312.0 1216.0,326.0 1212.0,340.0 1205.0,331.0 1188.5,325.1 1172.0,322.0 1141.3,329.2 1111.5,332.3" fill="url(#er4)"/>
</g></g>
<g clip-path="url(#esurf)"><polygon points="1113,326 1140,322 1170,316 1200,311 1240,304 1280,296 1280,340 1110,340" fill="#2a1000" opacity="0.6"/></g>
<path d="M1097.8 215.4 L1097.8 233 M1097.8 245.7 L1113 338.4 L1281.4 329.5 M1092 233 L1098 233 M1092 249 L1098 249 M1090 275 L1100 275 M1098 298 L1105 298 M1102 322 L1108 322 M1142 337 L1142 341 M1186 335 L1186 339 M1230 333 L1230 337 M1274.5 312 L1277 330.3 M1264 237.2 L1268.5 237.2 M1267.6 261.4 L1270.5 261.4 M1272 284.4 L1274.5 284.4 M1274.5 306.2 L1277 306.2" stroke="#e8e8e8" stroke-width="1.1" fill="none"/>
<text x="1064.7" y="211.7" font-size="11.5" font-weight="bold" fill="#fff" text-anchor="start" textLength="49.2" lengthAdjust="spacingAndGlyphs" >240.0 nm</text>
<text x="1054.7" y="233" font-size="11.5" font-weight="bold" fill="#fff" text-anchor="start" textLength="36.3" lengthAdjust="spacingAndGlyphs" >0.0 nm</text>
<text x="1051.6" y="249.7" font-size="11.5" font-weight="bold" fill="#fff" text-anchor="start" textLength="41" lengthAdjust="spacingAndGlyphs" >90.0μm</text>
<text x="1064.7" y="275.5" font-size="11.5" font-weight="bold" fill="#fff" text-anchor="start" textLength="23.3" lengthAdjust="spacingAndGlyphs" >67.5</text>
<text x="1072" y="297.4" font-size="11.5" font-weight="bold" fill="#fff" text-anchor="start" textLength="23" lengthAdjust="spacingAndGlyphs" >45.0</text>
<text x="1076" y="321" font-size="11.5" font-weight="bold" fill="#fff" text-anchor="start" textLength="22.8" lengthAdjust="spacingAndGlyphs" >22.5</text>
<text x="1269" y="239.7" font-size="11.5" font-weight="bold" fill="#fff" text-anchor="start" textLength="41" lengthAdjust="spacingAndGlyphs" >90.0μm</text>
<text x="1275" y="263.4" font-size="11.5" font-weight="bold" fill="#fff" text-anchor="start" textLength="24.2" lengthAdjust="spacingAndGlyphs" >67.5</text>
<text x="1278" y="286.8" font-size="11.5" font-weight="bold" fill="#fff" text-anchor="start" textLength="22.8" lengthAdjust="spacingAndGlyphs" >45.0</text>
<text x="1281" y="308" font-size="11.5" font-weight="bold" fill="#fff" text-anchor="start" textLength="22.9" lengthAdjust="spacingAndGlyphs" >22.5</text>
<text x="1111" y="352" font-size="11.5" font-weight="bold" fill="#fff" text-anchor="start" textLength="6" lengthAdjust="spacingAndGlyphs" >0</text>
<text x="1142.8" y="352" font-size="11.5" font-weight="bold" fill="#fff" text-anchor="start" textLength="22.8" lengthAdjust="spacingAndGlyphs" >22.5</text>
<text x="1186" y="350.6" font-size="11.5" font-weight="bold" fill="#fff" text-anchor="start" textLength="23.7" lengthAdjust="spacingAndGlyphs" >45.0</text>
<text x="1226.4" y="349" font-size="11.5" font-weight="bold" fill="#fff" text-anchor="start" textLength="22.6" lengthAdjust="spacingAndGlyphs" >67.5</text>
<text x="1266.9" y="346" font-size="11.5" font-weight="bold" fill="#fff" text-anchor="start" textLength="39.4" lengthAdjust="spacingAndGlyphs" >90.0μm</text>
<text x="47.9" y="400.6" font-size="27.6" font-weight="bold" fill="#000" text-anchor="start" textLength="27.3" lengthAdjust="spacingAndGlyphs" >(f)</text>
<rect x="89.4" y="404.6" width="586" height="172.6" fill="none" stroke="#0a1f5c" stroke-width="2.9" stroke-dasharray="12,9" stroke-dashoffset="5"/>
<text x="140.9" y="480.3" font-size="21.5" font-weight="bold" fill="#7f0000" text-anchor="middle">N</text>
<text x="137.9" y="438.9" font-size="21.5" font-weight="bold" fill="#7f0000" text-anchor="middle">O</text>
<text x="139.7" y="523.1" font-size="21.5" font-weight="bold" fill="#7f0000" text-anchor="middle">O</text>
<line x1="135.6" y1="467.8" x2="125.5" y2="456.4" stroke="#7f0000" stroke-width="2.95" stroke-linecap="butt"/>
<line x1="125.5" y1="456.4" x2="102.2" y2="463.3" stroke="#7f0000" stroke-width="2.95" stroke-linecap="butt"/>
<line x1="102.2" y1="463.3" x2="102.8" y2="489.0" stroke="#7f0000" stroke-width="2.95" stroke-linecap="butt"/>
<line x1="102.8" y1="489.0" x2="126.5" y2="492.9" stroke="#7f0000" stroke-width="2.95" stroke-linecap="butt"/>
<line x1="126.5" y1="492.9" x2="136.1" y2="480.2" stroke="#7f0000" stroke-width="2.95" stroke-linecap="butt"/>
<line x1="110.9" y1="469.8" x2="111.3" y2="482.0" stroke="#7f0000" stroke-width="2.95" stroke-linecap="butt"/>
<line x1="122.8" y1="455.0" x2="131.6" y2="438.1" stroke="#7f0000" stroke-width="2.95" stroke-linecap="butt"/>
<line x1="128.2" y1="457.8" x2="136.9" y2="440.9" stroke="#7f0000" stroke-width="2.95" stroke-linecap="butt"/>
<line x1="129.1" y1="491.4" x2="138.4" y2="508.2" stroke="#7f0000" stroke-width="2.95" stroke-linecap="butt"/>
<line x1="123.9" y1="494.4" x2="133.2" y2="511.1" stroke="#7f0000" stroke-width="2.95" stroke-linecap="butt"/>
<path d="M167 441.6 L164 441.6 L164 503.7 L167 503.7" stroke="#000" stroke-width="3.2" fill="none"/>
<polyline points="148.0,474.0 148.5,474.8 149.0,475.4 149.5,475.5 150.0,475.1 150.5,474.3 151.0,473.4 151.5,472.8 152.0,472.5 152.5,472.6 153.0,473.3 153.5,474.1 154.0,474.9 154.5,475.4 155.0,475.3 155.5,474.9 156.0,474.1 156.5,473.2 157.0,472.6 157.5,472.4 158.0,472.7 158.5,473.4 159.0,474.2 159.5,474.9 160.0,475.3 160.5,475.2 161.0,474.7 161.5,473.8 162.0,473.0 162.5,472.4 163.0,472.3 163.5,472.7 164.0,473.5 164.5,474.3 165.0,475.0 165.5,475.3 166.0,475.1 166.5,474.4 167.0,473.6 167.5,472.8 168.0,472.3 168.5,472.3 169.0,472.8 169.5,473.6 170.0,474.4 170.5,475.0 171.0,475.2 171.5,474.9 172.0,474.2 172.5,473.3 173.0,472.6 173.5,472.2 174.0,472.3 174.5,472.8 175.0,473.7 175.5,474.5 176.0,475.0 176.5,475.1 177.0,474.7 177.5,474.0 178.0,473.1 178.5,472.4 179.0,472.1 179.5,472.3 180.0,472.9 180.5,473.8 181.0,474.5 181.5,475.0 182.0,475.0 182.5,474.5 183.0,473.7 183.5,472.9 184.0,472.2 184.5,472.0 185.0,472.3 185.5,473.0 186.0,473.9 186.5,474.6 187.0,475.0" stroke="#000" stroke-width="2.7" fill="none"/>
<text x="193.6" y="478.9" font-size="21.5" font-weight="bold" fill="#ff0000" text-anchor="middle">N</text>
<text x="297.5" y="474.3" font-size="21.5" font-weight="bold" fill="#ff0000" text-anchor="middle">N</text>
<text x="188.1" y="440.9" font-size="21.5" font-weight="bold" fill="#ff0000" text-anchor="middle">O</text>
<text x="192.7" y="517.7" font-size="21.5" font-weight="bold" fill="#ff0000" text-anchor="middle">O</text>
<text x="291.2" y="431.0" font-size="21.5" font-weight="bold" fill="#ff0000" text-anchor="middle">O</text>
<text x="296.6" y="515.0" font-size="21.5" font-weight="bold" fill="#ff0000" text-anchor="middle">O</text>
<polygon points="232.4,457.9 257.7,456.6 259.0,482.3 233.3,483.7" stroke="#ff0000" stroke-width="2.95" fill="none" stroke-linejoin="miter"/>
<line x1="198.1" y1="465.8" x2="207.1" y2="452.5" stroke="#ff0000" stroke-width="2.95" stroke-linecap="butt"/>
<line x1="207.1" y1="452.5" x2="232.4" y2="457.9" stroke="#ff0000" stroke-width="2.95" stroke-linecap="butt"/>
<line x1="198.8" y1="478.5" x2="209.8" y2="491.3" stroke="#ff0000" stroke-width="2.95" stroke-linecap="butt"/>
<line x1="209.8" y1="491.3" x2="233.3" y2="483.7" stroke="#ff0000" stroke-width="2.95" stroke-linecap="butt"/>
<line x1="292.0" y1="462.0" x2="278.5" y2="448.0" stroke="#ff0000" stroke-width="2.95" stroke-linecap="butt"/>
<line x1="278.5" y1="448.0" x2="257.7" y2="456.6" stroke="#ff0000" stroke-width="2.95" stroke-linecap="butt"/>
<line x1="292.5" y1="474.0" x2="282.1" y2="486.8" stroke="#ff0000" stroke-width="2.95" stroke-linecap="butt"/>
<line x1="282.1" y1="486.8" x2="259.0" y2="482.3" stroke="#ff0000" stroke-width="2.95" stroke-linecap="butt"/>
<line x1="205.0" y1="454.7" x2="191.8" y2="442.1" stroke="#ff0000" stroke-width="2.95" stroke-linecap="butt"/>
<line x1="209.2" y1="450.3" x2="196.0" y2="437.7" stroke="#ff0000" stroke-width="2.95" stroke-linecap="butt"/>
<line x1="212.1" y1="493.3" x2="200.2" y2="507.1" stroke="#ff0000" stroke-width="2.95" stroke-linecap="butt"/>
<line x1="207.5" y1="489.3" x2="195.6" y2="503.2" stroke="#ff0000" stroke-width="2.95" stroke-linecap="butt"/>
<line x1="275.9" y1="446.6" x2="284.8" y2="430.1" stroke="#ff0000" stroke-width="2.95" stroke-linecap="butt"/>
<line x1="281.1" y1="449.4" x2="290.0" y2="433.0" stroke="#ff0000" stroke-width="2.95" stroke-linecap="butt"/>
<line x1="284.6" y1="485.1" x2="294.6" y2="500.2" stroke="#ff0000" stroke-width="2.95" stroke-linecap="butt"/>
<line x1="279.6" y1="488.5" x2="289.7" y2="503.5" stroke="#ff0000" stroke-width="2.95" stroke-linecap="butt"/>
<path d="M315.5 435.3 L318.5 435.3 L318.5 496.8 L315.5 496.8" stroke="#000" stroke-width="3.2" fill="none"/>
<text x="323.3" y="498.1" font-size="16" font-weight="bold" fill="#000" text-anchor="start" >n</text>
<polyline points="306.0,469.0 306.5,469.8 307.0,470.4 307.5,470.5 308.0,470.1 308.5,469.3 309.0,468.5 309.5,467.8 310.0,467.5 310.5,467.7 311.0,468.3 311.5,469.2 312.0,470.0 312.5,470.4 313.0,470.4 313.5,470.0 314.0,469.2 314.5,468.3 315.0,467.7 315.5,467.5 316.0,467.8 316.5,468.5 317.0,469.3 317.5,470.1 318.0,470.5 318.5,470.4 319.0,469.8 319.5,469.0 320.0,468.2 320.5,467.6 321.0,467.5 321.5,467.9 322.0,468.7 322.5,469.5 323.0,470.2 323.5,470.5 324.0,470.3 324.5,469.7 325.0,468.8 325.5,468.0 326.0,467.6 326.5,467.6 327.0,468.0 327.5,468.8 328.0,469.7 328.5,470.3 329.0,470.5 329.5,470.2 330.0,469.5 330.5,468.7 331.0,467.9 331.5,467.5 332.0,467.6 332.5,468.2 333.0,469.0 333.5,469.8 334.0,470.4 334.5,470.5 335.0,470.1 335.5,469.3 336.0,468.5 336.5,467.8 337.0,467.5 337.5,467.7 338.0,468.3" stroke="#000" stroke-width="2.7" fill="none"/>
<text x="347.0" y="475.2" font-size="21.5" font-weight="bold" fill="#7f0000" text-anchor="middle">N</text>
<text x="355.2" y="431.0" font-size="21.5" font-weight="bold" fill="#7f0000" text-anchor="middle">O</text>
<text x="343.4" y="514.1" font-size="21.5" font-weight="bold" fill="#7f0000" text-anchor="middle">O</text>
<line x1="352.2" y1="462.6" x2="362.4" y2="450.7" stroke="#7f0000" stroke-width="2.95" stroke-linecap="butt"/>
<line x1="362.4" y1="450.7" x2="387.7" y2="457.9" stroke="#7f0000" stroke-width="2.95" stroke-linecap="butt"/>
<line x1="387.7" y1="457.9" x2="387.7" y2="482.3" stroke="#7f0000" stroke-width="2.95" stroke-linecap="butt"/>
<line x1="387.7" y1="482.3" x2="364.2" y2="487.7" stroke="#7f0000" stroke-width="2.95" stroke-linecap="butt"/>
<line x1="364.2" y1="487.7" x2="352.4" y2="474.6" stroke="#7f0000" stroke-width="2.95" stroke-linecap="butt"/>
<line x1="377.8" y1="462.4" x2="378.3" y2="475.0" stroke="#7f0000" stroke-width="2.95" stroke-linecap="butt"/>
<line x1="359.5" y1="451.5" x2="354.4" y2="433.0" stroke="#7f0000" stroke-width="2.95" stroke-linecap="butt"/>
<line x1="365.3" y1="449.9" x2="360.2" y2="431.4" stroke="#7f0000" stroke-width="2.95" stroke-linecap="butt"/>
<line x1="366.3" y1="489.9" x2="351.3" y2="504.2" stroke="#7f0000" stroke-width="2.95" stroke-linecap="butt"/>
<line x1="362.1" y1="485.5" x2="347.1" y2="499.9" stroke="#7f0000" stroke-width="2.95" stroke-linecap="butt"/>
<text x="429.7" y="456.6" font-size="18.5" font-weight="normal" fill="#000" text-anchor="start" textLength="21.9" lengthAdjust="spacingAndGlyphs" stroke="#000" stroke-width="0.35">hv</text>
<path d="M484.9 468.9 L418 468.9" stroke="#000" stroke-width="1.5"/>
<polygon points="410.7,468.9 424,464.9 420.5,468.9 424,472.9" fill="#000"/>
<text x="414.2" y="496.8" font-size="18.5" font-weight="normal" fill="#000" text-anchor="start" textLength="74.1" lengthAdjust="spacingAndGlyphs" stroke="#000" stroke-width="0.35">&gt;300 nm</text>
<text x="537.2" y="475.4" font-size="21.5" font-weight="bold" fill="#7f0000" text-anchor="middle">N</text>
<text x="547.7" y="444.2" font-size="21.5" font-weight="bold" fill="#7f0000" text-anchor="middle">O</text>
<text x="537.2" y="513.2" font-size="21.5" font-weight="bold" fill="#7f0000" text-anchor="middle">O</text>
<line x1="532.9" y1="462.1" x2="524.7" y2="449.2" stroke="#7f0000" stroke-width="2.95" stroke-linecap="butt"/>
<line x1="524.7" y1="449.2" x2="498.5" y2="452.5" stroke="#7f0000" stroke-width="2.95" stroke-linecap="butt"/>
<line x1="498.5" y1="452.5" x2="498.5" y2="478.8" stroke="#7f0000" stroke-width="2.95" stroke-linecap="butt"/>
<line x1="498.5" y1="478.8" x2="523.0" y2="487.0" stroke="#7f0000" stroke-width="2.95" stroke-linecap="butt"/>
<line x1="523.0" y1="487.0" x2="532.3" y2="475.2" stroke="#7f0000" stroke-width="2.95" stroke-linecap="butt"/>
<line x1="508.5" y1="459.5" x2="508.8" y2="472.0" stroke="#7f0000" stroke-width="2.95" stroke-linecap="butt"/>
<text x="613.3" y="475.4" font-size="21.5" font-weight="bold" fill="#7f0000" text-anchor="middle">N</text>
<text x="610.0" y="437.7" font-size="21.5" font-weight="bold" fill="#7f0000" text-anchor="middle">O</text>
<text x="610.7" y="513.2" font-size="21.5" font-weight="bold" fill="#7f0000" text-anchor="middle">O</text>
<line x1="618.7" y1="463.0" x2="631.4" y2="449.2" stroke="#7f0000" stroke-width="2.95" stroke-linecap="butt"/>
<line x1="631.4" y1="449.2" x2="654.3" y2="455.8" stroke="#7f0000" stroke-width="2.95" stroke-linecap="butt"/>
<line x1="654.3" y1="455.8" x2="654.3" y2="480.4" stroke="#7f0000" stroke-width="2.95" stroke-linecap="butt"/>
<line x1="654.3" y1="480.4" x2="629.7" y2="487.0" stroke="#7f0000" stroke-width="2.95" stroke-linecap="butt"/>
<line x1="629.7" y1="487.0" x2="618.7" y2="474.8" stroke="#7f0000" stroke-width="2.95" stroke-linecap="butt"/>
<line x1="643.5" y1="462.0" x2="643.5" y2="474.5" stroke="#7f0000" stroke-width="2.95" stroke-linecap="butt"/>
<line x1="524.7" y1="449.2" x2="540.5" y2="441.3" stroke="#7f0000" stroke-width="2.95" stroke-linecap="butt"/>
<line x1="537.6" y1="450.4" x2="543.4" y2="447.9" stroke="#7f0000" stroke-width="2.95" stroke-linecap="butt"/>
<line x1="525.4" y1="485.2" x2="535.0" y2="498.5" stroke="#7f0000" stroke-width="2.95" stroke-linecap="butt"/>
<line x1="520.6" y1="488.8" x2="530.1" y2="502.0" stroke="#7f0000" stroke-width="2.95" stroke-linecap="butt"/>
<line x1="629.5" y1="451.5" x2="614.2" y2="438.6" stroke="#7f0000" stroke-width="2.95" stroke-linecap="butt"/>
<line x1="633.3" y1="446.9" x2="618.1" y2="434.1" stroke="#7f0000" stroke-width="2.95" stroke-linecap="butt"/>
<line x1="631.9" y1="489.1" x2="618.4" y2="503.0" stroke="#7f0000" stroke-width="2.95" stroke-linecap="butt"/>
<line x1="627.5" y1="484.9" x2="614.1" y2="498.9" stroke="#7f0000" stroke-width="2.95" stroke-linecap="butt"/>
<line x1="545.8" y1="468.9" x2="563.0" y2="468.9" stroke="#000" stroke-width="2.95" stroke-linecap="butt"/>
<polyline points="563.0,469.0 563.5,470.0 564.0,470.7 564.5,470.8 565.0,470.3 565.5,469.4 566.0,468.4 566.5,467.6 567.0,467.2 567.5,467.4 568.0,468.2 568.5,469.2 569.0,470.2 569.5,470.7 570.0,470.7 570.5,470.2 571.0,469.2 571.5,468.2 572.0,467.4 572.5,467.2 573.0,467.6 573.5,468.4 574.0,469.4 574.5,470.3 575.0,470.8 575.5,470.7 576.0,470.0 576.5,469.0 577.0,468.0 577.5,467.3 578.0,467.2 578.5,467.7 579.0,468.6 579.5,469.6 580.0,470.4 580.5,470.8 581.0,470.6 581.5,469.8 582.0,468.8 582.5,467.8 583.0,467.3 583.5,467.3 584.0,467.8 584.5,468.8 585.0,469.8 585.5,470.6 586.0,470.8 586.5,470.4 587.0,469.6 587.5,468.6 588.0,467.7 588.5,467.2" stroke="#000" stroke-width="2.7" fill="none"/>
<line x1="588.5" y1="468.9" x2="605.8" y2="468.9" stroke="#000" stroke-width="2.95" stroke-linecap="butt"/>
<circle cx="191.5" cy="555.6" r="7.6" fill="#ff0000"/>
<rect x="207" y="550.6999999999999" width="10.1" height="2.2" fill="#000"/>
<rect x="207" y="555.6" width="10.1" height="2.2" fill="#000"/>
<rect x="207" y="560.8" width="10.1" height="2.2" fill="#000"/>
<text x="225.3" y="561.1" font-size="19.4" font-weight="bold" fill="#000" text-anchor="start" textLength="47.9" lengthAdjust="spacingAndGlyphs" >DBMI</text>
<path d="M553.1 548 A10.9 10.5 0 0 0 553.1 569 Z" fill="#953735"/>
<rect x="562.8" y="552.9" width="10.2" height="2.2" fill="#000"/>
<rect x="562.8" y="557.9" width="10.2" height="2.2" fill="#000"/>
<rect x="562.8" y="562.9" width="10.2" height="2.2" fill="#000"/>
<text x="583.9" y="564.9" font-size="19.4" font-weight="bold" fill="#000" text-anchor="start" textLength="34.5" lengthAdjust="spacingAndGlyphs" >BMI</text>
<rect x="693" y="466.1" width="13.4" height="3.6" fill="#000"/><rect x="698.1" y="461.2" width="3.1" height="13.6" fill="#000"/>
<polyline points="745.1,422.4 767.8,434.8 789.5,422.0 811.2,434.8 833.5,422.0 855.6,434.8 872.6,417.8" stroke="#000" stroke-width="2.95" fill="none" stroke-linejoin="miter"/>
<line x1="811.2" y1="434.8" x2="807.4" y2="416.7" stroke="#000" stroke-width="2.95" stroke-linecap="butt"/>
<path d="M754 422 Q749 432 753 442" stroke="#000" stroke-width="3.2" fill="none"/>
<path d="M802.8 422 Q797.8 432 801.8 442" stroke="#000" stroke-width="3.2" fill="none"/>
<path d="M850 422 Q845 432 849 442" stroke="#000" stroke-width="3.2" fill="none"/>
<path d="M772.4 422 Q777.4 432 773.4 442" stroke="#000" stroke-width="3.2" fill="none"/>
<path d="M819.6 422 Q824.6 432 820.6 442" stroke="#000" stroke-width="3.2" fill="none"/>
<path d="M864 422 Q869 432 865 442" stroke="#000" stroke-width="3.2" fill="none"/>
<text x="780" y="444" font-size="18" font-weight="bold" fill="#000" text-anchor="start" textLength="9.8" lengthAdjust="spacingAndGlyphs" >x</text>
<text x="825.5" y="442" font-size="18" font-weight="bold" fill="#000" text-anchor="start" textLength="10.2" lengthAdjust="spacingAndGlyphs" >y</text>
<text x="869.5" y="444.7" font-size="18" font-weight="bold" fill="#000" text-anchor="start" textLength="15.2" lengthAdjust="spacingAndGlyphs" >m</text>
<line x1="767.8" y1="434.8" x2="766.8" y2="460.2" stroke="#000" stroke-width="2.95" stroke-linecap="butt"/>
<polygon points="766.8,460.2 784.8,477.7 779.1,502.3 754.6,508.9 735.7,491.0 742.3,466.4" stroke="#000" stroke-width="2.95" fill="none" stroke-linejoin="miter"/>
<line x1="750.4" y1="472.0" x2="764.0" y2="468.3" stroke="#000" stroke-width="2.95" stroke-linecap="butt"/>
<line x1="775.3" y1="482.4" x2="771.6" y2="493.8" stroke="#000" stroke-width="2.95" stroke-linecap="butt"/>
<line x1="747.0" y1="489.0" x2="757.4" y2="498.5" stroke="#000" stroke-width="2.95" stroke-linecap="butt"/>
<text x="825.4" y="461.0" font-size="21.5" font-weight="bold" fill="#000" text-anchor="middle">O</text>
<text x="805.6" y="488.9" font-size="21.5" font-weight="bold" fill="#000" text-anchor="middle">O</text>
<line x1="811.2" y1="434.8" x2="802.7" y2="454.1" stroke="#000" stroke-width="2.95" stroke-linecap="butt"/>
<line x1="802.7" y1="450.3" x2="817.0" y2="450.3" stroke="#000" stroke-width="2.95" stroke-linecap="butt"/>
<line x1="802.7" y1="457.9" x2="817.0" y2="457.9" stroke="#000" stroke-width="2.95" stroke-linecap="butt"/>
<line x1="802.7" y1="454.1" x2="804.7" y2="473.4" stroke="#000" stroke-width="2.95" stroke-linecap="butt"/>
<line x1="804.7" y1="491.4" x2="802.5" y2="513.5" stroke="#000" stroke-width="2.95" stroke-linecap="butt"/>
<line x1="802.5" y1="513.5" x2="814.2" y2="529.7" stroke="#000" stroke-width="2.95" stroke-linecap="butt"/>
<text x="832.3" y="550.3" font-size="18" font-weight="bold" fill="#0000ff" text-anchor="middle">O</text>
<line x1="814.2" y1="529.7" x2="826.2" y2="539.9" stroke="#0000ff" stroke-width="2.95" stroke-linecap="butt"/>
<line x1="829.7" y1="552.7" x2="824.2" y2="568.5" stroke="#0000ff" stroke-width="2.95" stroke-linecap="butt"/>
<line x1="824.2" y1="568.5" x2="797.1" y2="566.7" stroke="#0000ff" stroke-width="2.95" stroke-linecap="butt"/>
<line x1="797.1" y1="566.7" x2="791.7" y2="541.5" stroke="#0000ff" stroke-width="2.95" stroke-linecap="butt"/>
<line x1="791.7" y1="541.5" x2="814.2" y2="529.7" stroke="#0000ff" stroke-width="2.95" stroke-linecap="butt"/>
<line x1="802.5" y1="545.1" x2="813.3" y2="539.7" stroke="#0000ff" stroke-width="2.95" stroke-linecap="butt"/>
<line x1="804.3" y1="558.6" x2="817.0" y2="559.5" stroke="#0000ff" stroke-width="2.95" stroke-linecap="butt"/>
<text x="885.8" y="466.3" font-size="21.5" font-weight="bold" fill="#000" text-anchor="middle">O</text>
<text x="854.7" y="489.9" font-size="21.5" font-weight="bold" fill="#000" text-anchor="middle">O</text>
<line x1="855.6" y1="434.8" x2="860.3" y2="458.8" stroke="#000" stroke-width="2.95" stroke-linecap="butt"/>
<line x1="860.3" y1="455.0" x2="878.3" y2="455.0" stroke="#000" stroke-width="2.95" stroke-linecap="butt"/>
<line x1="860.3" y1="463.6" x2="878.3" y2="463.6" stroke="#000" stroke-width="2.95" stroke-linecap="butt"/>
<line x1="860.3" y1="458.8" x2="856.7" y2="474.6" stroke="#000" stroke-width="2.95" stroke-linecap="butt"/>
<line x1="859.5" y1="491.0" x2="868.4" y2="505.3" stroke="#000" stroke-width="2.95" stroke-linecap="butt"/>
<polyline points="868.4,505.3 861.2,529.7 873.8,552.3 867.5,575.8" stroke="#000" stroke-width="2.95" fill="none" stroke-linejoin="miter"/>
<text x="785.3" y="593.8" font-size="17.5" font-weight="bold" fill="#000" text-anchor="start" textLength="49.7" lengthAdjust="spacingAndGlyphs" >PSFB</text>
<path d="M923.4 460.4 L988 460.4" stroke="#000" stroke-width="1.5"/>
<polygon points="998.3,460.4 985.5,456.8 988.8,460.4 985.5,464" fill="#000"/>
<path d="M991.7 475.8 L930 475.8" stroke="#000" stroke-width="1.5"/>
<polygon points="919.9,475.8 933.2,472.2 929.9,475.8 933.2,479.4" fill="#000"/>
<text x="935.9" y="450.9" font-size="19.5" font-weight="normal" fill="#000" text-anchor="start" textLength="21.7" lengthAdjust="spacingAndGlyphs" stroke="#000" stroke-width="0.7">75</text>
<text x="962.4" y="444.7" font-size="12" font-weight="normal" fill="#000" text-anchor="start" textLength="6.3" lengthAdjust="spacingAndGlyphs" stroke="#000" stroke-width="0.7">o</text>
<text x="969.4" y="450.9" font-size="19.5" font-weight="normal" fill="#000" text-anchor="start" textLength="12.6" lengthAdjust="spacingAndGlyphs" stroke="#000" stroke-width="0.7">C</text>
<text x="937.3" y="505.3" font-size="19.5" font-weight="normal" fill="#000" text-anchor="start" textLength="30.7" lengthAdjust="spacingAndGlyphs" stroke="#000" stroke-width="0.7">125</text>
<text x="972.2" y="499.6" font-size="12" font-weight="normal" fill="#000" text-anchor="start" textLength="6.3" lengthAdjust="spacingAndGlyphs" stroke="#000" stroke-width="0.7">o</text>
<text x="979.9" y="505.3" font-size="19.5" font-weight="normal" fill="#000" text-anchor="start" textLength="11.8" lengthAdjust="spacingAndGlyphs" stroke="#000" stroke-width="0.7">C</text>
<polyline points="1011.9,435.5 1012.7,436.1 1013.4,436.4 1013.9,436.3 1014.2,435.7 1014.3,434.8 1014.5,433.8 1014.6,433.0 1015.0,432.5 1015.5,432.5 1016.2,432.9 1017.0,433.5 1017.8,434.0 1018.4,434.3 1018.9,434.1 1019.2,433.4 1019.3,432.5 1019.4,431.5 1019.7,430.8 1020.1,430.4 1020.6,430.5 1021.4,430.9 1022.2,431.5 1022.9,432.0 1023.5,432.1 1023.9,431.8 1024.2,431.1 1024.3,430.2 1024.4,429.2 1024.7,428.5 1025.1,428.2 1025.7,428.4 1026.5,428.9 1027.3,429.5 1028.0,429.9 1028.6,430.0 1029.0,429.6 1029.2,428.8 1029.3,427.8 1029.5,426.9 1029.7,426.3 1030.2,426.1 1030.9,426.4 1031.6,426.9 1032.4,427.5 1033.1,427.8 1033.6,427.8 1034.0,427.3 1034.2,426.5 1034.3,425.5 1034.5,424.6 1034.8,424.1 1035.3,424.0 1036.0,424.3 1036.8,424.9 1037.5,425.4 1038.2,425.7 1038.7,425.6 1039.0,425.0 1039.2,424.1 1039.3,423.2 1039.5,422.3 1039.8,421.9 1040.4,421.9 1041.1,422.3 1041.9,422.9 1042.7,423.4 1043.3,423.6 1043.7,423.4 1044.0,422.7 1044.1,421.8 1044.3,420.8 1044.5,420.1 1044.9,419.7 1045.5,419.8 1046.2,420.3 1047.0,420.9 1047.8,421.4 1048.4,421.5 1048.8,421.2 1049.0,420.4 1049.1,419.5 1049.3,418.5 1049.5,417.8 1050.0,417.6 1050.6,417.8 1051.4,418.3 1052.1,418.9 1052.9,419.3 1053.4,419.3 1053.8,418.9 1054.0,418.1 1054.1,417.1 1054.3,416.2 1054.6,415.6 1055.0,415.5 1055.7,415.7 1056.5,416.3 1057.3,416.9 1058.0,417.2 1058.5,417.2 1058.8,416.6 1059.0,415.8 1059.1,414.8 1059.3,413.9 1059.6,413.4" stroke="#000" stroke-width="2.7" fill="none"/>
<line x1="1036.5" y1="425.7" x2="1050.3" y2="445.4" stroke="#000" stroke-width="2.95" stroke-linecap="butt"/>
<polygon points="1050.3,445.4 1025.7,455.2 1023.7,480.8 1044.4,495.6 1068.0,485.8 1071.0,460.2" stroke="#ff00ff" stroke-width="2.95" fill="none" stroke-linejoin="miter"/>
<line x1="1071.0" y1="460.2" x2="1068.0" y2="485.8" stroke="#ff00ff" stroke-width="2.95" stroke-linecap="butt"/>
<line x1="1033.6" y1="462.1" x2="1032.6" y2="475.9" stroke="#ff00ff" stroke-width="2.95" stroke-linecap="butt"/>
<text x="1045.4" y="477.5" font-size="21.5" font-weight="bold" fill="#ff00ff" text-anchor="middle">O</text>
<line x1="1050.3" y1="445.4" x2="1046.9" y2="463.1" stroke="#ff00ff" stroke-width="2.95" stroke-linecap="butt"/>
<line x1="1045.1" y1="479.0" x2="1044.4" y2="495.6" stroke="#ff00ff" stroke-width="2.95" stroke-linecap="butt"/>
<text x="1107.4" y="484.4" font-size="21.5" font-weight="bold" fill="#ff00ff" text-anchor="middle">N</text>
<text x="1118.3" y="453.8" font-size="21.5" font-weight="bold" fill="#ff00ff" text-anchor="middle">O</text>
<text x="1106.4" y="521.8" font-size="21.5" font-weight="bold" fill="#ff00ff" text-anchor="middle">O</text>
<line x1="1071.0" y1="460.2" x2="1095.6" y2="455.2" stroke="#ff00ff" stroke-width="2.95" stroke-linecap="butt"/>
<line x1="1095.6" y1="455.2" x2="1103.7" y2="470.8" stroke="#ff00ff" stroke-width="2.95" stroke-linecap="butt"/>
<line x1="1068.0" y1="485.8" x2="1089.7" y2="493.6" stroke="#ff00ff" stroke-width="2.95" stroke-linecap="butt"/>
<line x1="1089.7" y1="493.6" x2="1101.4" y2="483.2" stroke="#ff00ff" stroke-width="2.95" stroke-linecap="butt"/>
<line x1="1095.6" y1="455.2" x2="1110.7" y2="449.9" stroke="#ff00ff" stroke-width="2.95" stroke-linecap="butt"/>
<line x1="1107.4" y1="458.2" x2="1113.3" y2="456.6" stroke="#ff00ff" stroke-width="2.95" stroke-linecap="butt"/>
<line x1="1092.1" y1="491.8" x2="1103.9" y2="507.1" stroke="#ff00ff" stroke-width="2.95" stroke-linecap="butt"/>
<line x1="1087.3" y1="495.4" x2="1099.1" y2="510.8" stroke="#ff00ff" stroke-width="2.95" stroke-linecap="butt"/>
<line x1="1116.3" y1="478.9" x2="1133.0" y2="481.8" stroke="#000" stroke-width="2.95" stroke-linecap="butt"/>
<polyline points="1133.0,481.5 1133.5,482.3 1134.1,482.8 1134.6,482.9 1135.0,482.5 1135.5,481.7 1136.0,480.9 1136.5,480.2 1136.9,479.8 1137.4,480.0 1138.0,480.6 1138.5,481.5 1139.0,482.2 1139.6,482.7 1140.1,482.7 1140.5,482.2 1141.0,481.3 1141.5,480.5 1141.9,479.8 1142.4,479.6 1143.0,479.9 1143.5,480.6 1144.0,481.4 1144.5,482.1 1145.1,482.5 1145.6,482.4 1146.0,481.8 1146.5,480.9 1147.0,480.1 1147.4,479.5 1147.9,479.4 1148.5,479.8 1149.0,480.5 1149.5,481.4 1150.0,482.0 1150.6,482.3 1151.1,482.1 1151.5,481.4 1152.0,480.5 1152.5,479.7 1152.9,479.3 1153.4,479.3 1154.0,479.7 1154.5,480.5 1155.0,481.3 1155.6,481.9 1156.1,482.1 1156.5,481.7 1157.0,481.0 1157.5,480.1 1158.0,479.4" stroke="#000" stroke-width="2.7" fill="none"/>
<line x1="1158.0" y1="480.8" x2="1178.2" y2="480.0" stroke="#000" stroke-width="2.95" stroke-linecap="butt"/>
<text x="1186.0" y="486.5" font-size="21.5" font-weight="bold" fill="#ff00ff" text-anchor="middle">N</text>
<text x="1184.1" y="448.1" font-size="21.5" font-weight="bold" fill="#ff00ff" text-anchor="middle">O</text>
<text x="1183.1" y="523.9" font-size="21.5" font-weight="bold" fill="#ff00ff" text-anchor="middle">O</text>
<text x="1245.1" y="487.5" font-size="21.5" font-weight="bold" fill="#ff00ff" text-anchor="middle">O</text>
<line x1="1191.4" y1="474.1" x2="1203.8" y2="460.3" stroke="#ff00ff" stroke-width="2.95" stroke-linecap="butt"/>
<line x1="1203.8" y1="460.3" x2="1226.4" y2="467.2" stroke="#ff00ff" stroke-width="2.95" stroke-linecap="butt"/>
<line x1="1191.2" y1="486.1" x2="1202.8" y2="499.7" stroke="#ff00ff" stroke-width="2.95" stroke-linecap="butt"/>
<line x1="1202.8" y1="499.7" x2="1225.8" y2="493.8" stroke="#ff00ff" stroke-width="2.95" stroke-linecap="butt"/>
<line x1="1226.4" y1="467.2" x2="1225.8" y2="493.8" stroke="#ff00ff" stroke-width="2.95" stroke-linecap="butt"/>
<polygon points="1226.4,467.2 1247.5,455.4 1270.7,468.2 1270.7,493.8 1247.5,505.6 1225.8,493.8" stroke="#ff00ff" stroke-width="2.95" fill="none" stroke-linejoin="miter"/>
<line x1="1260.9" y1="472.1" x2="1260.9" y2="487.9" stroke="#ff00ff" stroke-width="2.95" stroke-linecap="butt"/>
<line x1="1247.5" y1="455.4" x2="1245.8" y2="473.0" stroke="#ff00ff" stroke-width="2.95" stroke-linecap="butt"/>
<line x1="1245.9" y1="489.0" x2="1247.5" y2="505.6" stroke="#ff00ff" stroke-width="2.95" stroke-linecap="butt"/>
<line x1="1201.7" y1="462.5" x2="1187.8" y2="449.3" stroke="#ff00ff" stroke-width="2.95" stroke-linecap="butt"/>
<line x1="1205.9" y1="458.1" x2="1192.0" y2="444.9" stroke="#ff00ff" stroke-width="2.95" stroke-linecap="butt"/>
<line x1="1204.8" y1="501.9" x2="1191.1" y2="514.3" stroke="#ff00ff" stroke-width="2.95" stroke-linecap="butt"/>
<line x1="1200.8" y1="497.5" x2="1187.0" y2="509.8" stroke="#ff00ff" stroke-width="2.95" stroke-linecap="butt"/>
<line x1="1247.5" y1="455.4" x2="1264.8" y2="440.6" stroke="#000" stroke-width="2.95" stroke-linecap="butt"/>
<polyline points="1245.1,425.8 1245.1,426.8 1245.3,427.5 1245.7,427.8 1246.3,427.7 1247.1,427.3 1248.0,426.8 1248.7,426.5 1249.3,426.5 1249.7,426.9 1249.8,427.7 1249.8,428.7 1249.8,429.7 1250.0,430.3 1250.5,430.5 1251.1,430.4 1252.0,429.9 1252.8,429.4 1253.6,429.2 1254.1,429.3 1254.4,429.8 1254.4,430.7 1254.5,431.7 1254.5,432.6 1254.8,433.1 1255.3,433.2 1256.0,433.0 1256.9,432.5 1257.7,432.1 1258.4,431.9 1258.9,432.1 1259.1,432.7 1259.1,433.6 1259.1,434.6 1259.2,435.4 1259.6,435.9 1260.1,435.9 1260.9,435.6 1261.7,435.1 1262.6,434.7 1263.2,434.6 1263.6,434.9 1263.8,435.6 1263.8,436.5 1263.8,437.5 1264.0,438.3 1264.3,438.6 1265.0,438.6 1265.8,438.2 1266.6,437.7 1267.4,437.3 1268.0,437.3 1268.3,437.7 1268.5,438.5 1268.5,439.5 1268.5,440.4 1268.7,441.1 1269.1,441.4 1269.8,441.2 1270.6,440.8 1271.5,440.3 1272.2,440.0 1272.8,440.1 1273.1,440.6 1273.1,441.4 1273.2,442.4 1273.2,443.3 1273.5,443.9 1273.9,444.1 1274.7,443.8 1275.5,443.3 1276.4,442.9 1277.1,442.7 1277.5,442.8 1277.8,443.4 1277.8,444.4 1277.8,445.4 1277.9,446.2 1278.2,446.7 1278.8,446.7 1279.5,446.4 1280.4,445.9 1281.2,445.5 1281.9,445.4 1282.3,445.7 1282.5,446.3 1282.5,447.3 1282.5,448.3 1282.7,449.0 1283.0,449.4 1283.6,449.4 1284.4,449.0 1285.3,448.5 1286.1,448.1 1286.7,448.1 1287.0,448.5 1287.2,449.3 1287.2,450.2 1287.2,451.2 1287.4,451.9 1287.8,452.2 1288.5,452.0 1289.3,451.6" stroke="#000" stroke-width="2.7" fill="none"/>
<text x="1072.4" y="560" font-size="17.5" font-weight="bold" fill="#000" text-anchor="start" textLength="54.2" lengthAdjust="spacingAndGlyphs" >PFBM</text>
</svg></body></html>
